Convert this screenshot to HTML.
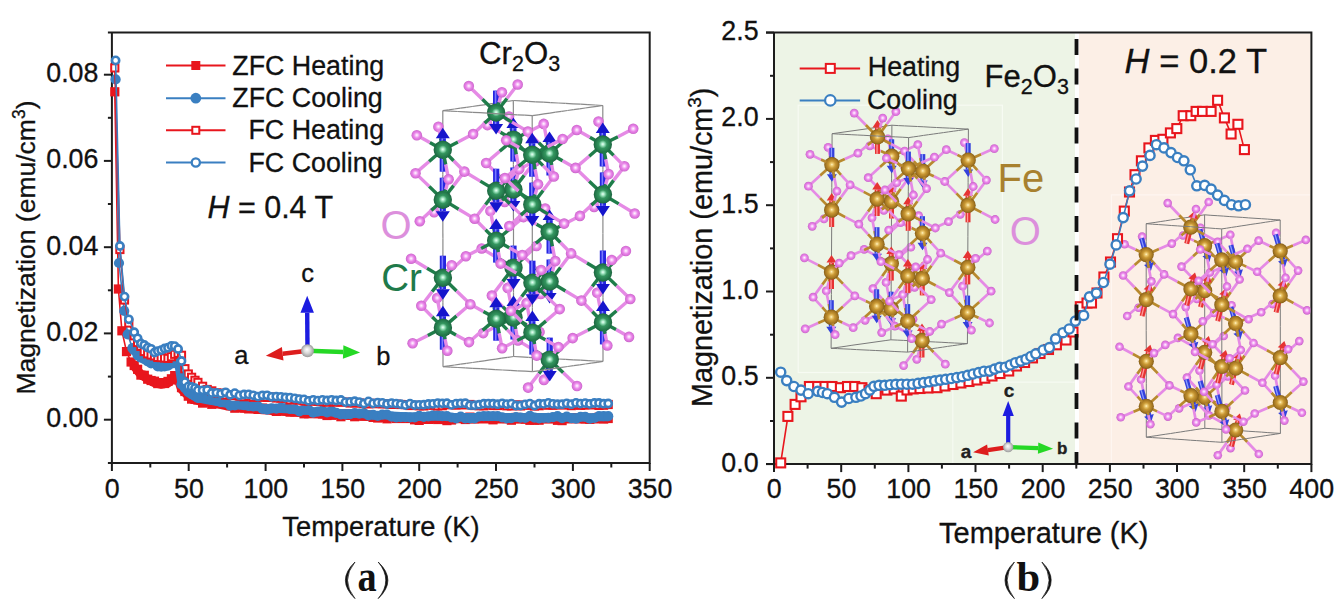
<!DOCTYPE html>
<html><head><meta charset="utf-8"><style>
html,body{margin:0;padding:0;background:#fff;width:1341px;height:606px;overflow:hidden}
svg{display:block}
</style></head><body>
<svg width="1341" height="606" viewBox="0 0 1341 606">
<rect width="1341" height="606" fill="#fff"/>
<rect x="775" y="33.5" width="300" height="429.6" fill="#edf4e6"/>
<rect x="1079" y="33.5" width="231.4" height="429.6" fill="#fcefe6"/>
<g stroke="#1c1c1c" stroke-width="2" fill="none" stroke-linecap="butt">
<path d="M107.9,32.4 H649.7 V463.0 H107.9"/>
<path d="M111.9,32.4 V464.0"/>
<path d="M111.9,463.0 v8"/>
<path d="M150.3,463.0 v4.5"/>
<path d="M188.7,463.0 v8"/>
<path d="M227.1,463.0 v4.5"/>
<path d="M265.6,463.0 v8"/>
<path d="M304.0,463.0 v4.5"/>
<path d="M342.4,463.0 v8"/>
<path d="M380.8,463.0 v4.5"/>
<path d="M419.2,463.0 v8"/>
<path d="M457.6,463.0 v4.5"/>
<path d="M496.0,463.0 v8"/>
<path d="M534.5,463.0 v4.5"/>
<path d="M572.9,463.0 v8"/>
<path d="M611.3,463.0 v4.5"/>
<path d="M649.7,463.0 v8"/>
<path d="M111.9,419.7 h-8"/>
<path d="M111.9,376.6 h-4"/>
<path d="M111.9,333.4 h-8"/>
<path d="M111.9,290.3 h-4"/>
<path d="M111.9,247.2 h-8"/>
<path d="M111.9,204.0 h-4"/>
<path d="M111.9,160.9 h-8"/>
<path d="M111.9,117.8 h-4"/>
<path d="M111.9,74.7 h-8"/>
</g>
<g font-family="'Liberation Sans', sans-serif" fill="#111" stroke="#111" stroke-width="0.3">
<text x="98.4" y="427.2" font-size="26.8" text-anchor="end" fill="#111" >0.00</text>
<text x="98.4" y="340.9" font-size="26.8" text-anchor="end" fill="#111" >0.02</text>
<text x="98.4" y="254.7" font-size="26.8" text-anchor="end" fill="#111" >0.04</text>
<text x="98.4" y="168.4" font-size="26.8" text-anchor="end" fill="#111" >0.06</text>
<text x="98.4" y="82.2" font-size="26.8" text-anchor="end" fill="#111" >0.08</text>
<text x="112.2" y="498.2" font-size="26.8" text-anchor="middle" fill="#111" >0</text>
<text x="189.0" y="498.2" font-size="26.8" text-anchor="middle" fill="#111" >50</text>
<text x="265.9" y="498.2" font-size="26.8" text-anchor="middle" fill="#111" >100</text>
<text x="342.7" y="498.2" font-size="26.8" text-anchor="middle" fill="#111" >150</text>
<text x="419.5" y="498.2" font-size="26.8" text-anchor="middle" fill="#111" >200</text>
<text x="496.3" y="498.2" font-size="26.8" text-anchor="middle" fill="#111" >250</text>
<text x="573.2" y="498.2" font-size="26.8" text-anchor="middle" fill="#111" >300</text>
<text x="650.0" y="498.2" font-size="26.8" text-anchor="middle" fill="#111" >350</text>
<text x="282.3" y="535.8" font-size="27.3" text-anchor="start" fill="#111" >Temperature (K)</text>
<text transform="translate(35.4,394.5) rotate(-90)" font-size="26.5">Magnetization (emu/cm<tspan font-size="17.5" dy="-10">3</tspan><tspan dy="10">)</tspan></text>
</g>
<g stroke="#1c1c1c" stroke-width="2" fill="none">
<path d="M766.0,32.5 H1311.4 V464.1 H766.0"/>
<path d="M774.0,32.5 V465.1"/>
<path d="M774.0,464.1 v8"/>
<path d="M807.6,464.1 v4.5"/>
<path d="M841.2,464.1 v8"/>
<path d="M874.8,464.1 v4.5"/>
<path d="M908.4,464.1 v8"/>
<path d="M941.9,464.1 v4.5"/>
<path d="M975.5,464.1 v8"/>
<path d="M1009.1,464.1 v4.5"/>
<path d="M1042.7,464.1 v8"/>
<path d="M1076.3,464.1 v4.5"/>
<path d="M1109.9,464.1 v8"/>
<path d="M1143.5,464.1 v4.5"/>
<path d="M1177.0,464.1 v8"/>
<path d="M1210.6,464.1 v4.5"/>
<path d="M1244.2,464.1 v8"/>
<path d="M1277.8,464.1 v4.5"/>
<path d="M1311.4,464.1 v8"/>
<path d="M774.0,464.1 h-8"/>
<path d="M774.0,421.0 h-4"/>
<path d="M774.0,377.8 h-8"/>
<path d="M774.0,334.7 h-4"/>
<path d="M774.0,291.5 h-8"/>
<path d="M774.0,248.4 h-4"/>
<path d="M774.0,205.2 h-8"/>
<path d="M774.0,162.1 h-4"/>
<path d="M774.0,118.9 h-8"/>
<path d="M774.0,75.8 h-4"/>
<path d="M774.0,32.6 h-8"/>
</g>
<g font-family="'Liberation Sans', sans-serif" fill="#111" stroke="#111" stroke-width="0.3">
<text x="758.6" y="471.5" font-size="26.8" text-anchor="end" fill="#111" >0.0</text>
<text x="758.6" y="385.2" font-size="26.8" text-anchor="end" fill="#111" >0.5</text>
<text x="758.6" y="298.9" font-size="26.8" text-anchor="end" fill="#111" >1.0</text>
<text x="758.6" y="212.6" font-size="26.8" text-anchor="end" fill="#111" >1.5</text>
<text x="758.6" y="126.3" font-size="26.8" text-anchor="end" fill="#111" >2.0</text>
<text x="758.6" y="40.0" font-size="26.8" text-anchor="end" fill="#111" >2.5</text>
<text x="774.3" y="498.2" font-size="26.8" text-anchor="middle" fill="#111" >0</text>
<text x="841.5" y="498.2" font-size="26.8" text-anchor="middle" fill="#111" >50</text>
<text x="908.6" y="498.2" font-size="26.8" text-anchor="middle" fill="#111" >100</text>
<text x="975.8" y="498.2" font-size="26.8" text-anchor="middle" fill="#111" >150</text>
<text x="1043.0" y="498.2" font-size="26.8" text-anchor="middle" fill="#111" >200</text>
<text x="1110.2" y="498.2" font-size="26.8" text-anchor="middle" fill="#111" >250</text>
<text x="1177.3" y="498.2" font-size="26.8" text-anchor="middle" fill="#111" >300</text>
<text x="1244.5" y="498.2" font-size="26.8" text-anchor="middle" fill="#111" >350</text>
<text x="1311.7" y="498.2" font-size="26.8" text-anchor="middle" fill="#111" >400</text>
<text x="939.0" y="542.9" font-size="29" text-anchor="start" fill="#111" >Temperature (K)</text>
<text transform="translate(712,407.0) rotate(-90)" font-size="28.8">Magnetization (emu/cm<tspan font-size="19" dy="-11">3</tspan><tspan dy="11">)</tspan></text>
</g>
<defs><radialGradient id="gma" cx="0.5" cy="0.5" r="0.5" fx="0.5" fy="0.48"><stop offset="0" stop-color="#f0fff8"/><stop offset="0.17" stop-color="#a4e8c4"/><stop offset="0.45" stop-color="#34965f"/><stop offset="0.85" stop-color="#227549"/><stop offset="1" stop-color="#1b623d"/></radialGradient><radialGradient id="goa" cx="0.5" cy="0.5" r="0.5" fx="0.5" fy="0.48"><stop offset="0" stop-color="#ffffff"/><stop offset="0.2" stop-color="#fad0fa"/><stop offset="0.55" stop-color="#e984e9"/><stop offset="0.85" stop-color="#d870d8"/><stop offset="1" stop-color="#c462c4"/></radialGradient><radialGradient id="gmb" cx="0.5" cy="0.5" r="0.5" fx="0.5" fy="0.48"><stop offset="0" stop-color="#fff6d0"/><stop offset="0.15" stop-color="#f0d07a"/><stop offset="0.45" stop-color="#c99834"/><stop offset="0.8" stop-color="#a57722"/><stop offset="1" stop-color="#835c16"/></radialGradient><radialGradient id="gob" cx="0.5" cy="0.5" r="0.5" fx="0.5" fy="0.48"><stop offset="0" stop-color="#ffffff"/><stop offset="0.2" stop-color="#fad0fa"/><stop offset="0.55" stop-color="#e984e9"/><stop offset="0.85" stop-color="#d870d8"/><stop offset="1" stop-color="#c462c4"/></radialGradient><radialGradient id="gmc" cx="0.5" cy="0.5" r="0.5" fx="0.5" fy="0.48"><stop offset="0" stop-color="#fff6d0"/><stop offset="0.15" stop-color="#f0d07a"/><stop offset="0.45" stop-color="#c99834"/><stop offset="0.8" stop-color="#a57722"/><stop offset="1" stop-color="#835c16"/></radialGradient><radialGradient id="goc" cx="0.5" cy="0.5" r="0.5" fx="0.5" fy="0.48"><stop offset="0" stop-color="#ffffff"/><stop offset="0.2" stop-color="#fad0fa"/><stop offset="0.55" stop-color="#e984e9"/><stop offset="0.85" stop-color="#d870d8"/><stop offset="1" stop-color="#c462c4"/></radialGradient></defs>
<rect x="798.2" y="105.2" width="204.2" height="267.3" fill="none" stroke="#f7fbf3" stroke-width="1.2"/>
<path d="M1111.4,463 V194.8 H1310" fill="none" stroke="#fef6f1" stroke-width="1.2"/>
<path d="M952.8,463 V382.2 H1074.5" fill="none" stroke="#f6faf2" stroke-width="1.2"/>
<g><line x1="513.6" y1="356.5" x2="513.5" y2="335.2" stroke="#8a8a8a" stroke-width="1.2"/>
<line x1="513.5" y1="335.2" x2="513.5" y2="313.9" stroke="#8a8a8a" stroke-width="1.2"/>
<line x1="513.5" y1="313.9" x2="513.5" y2="292.5" stroke="#8a8a8a" stroke-width="1.2"/>
<line x1="513.5" y1="292.5" x2="513.5" y2="271.2" stroke="#8a8a8a" stroke-width="1.2"/>
<line x1="513.5" y1="271.2" x2="513.5" y2="249.9" stroke="#8a8a8a" stroke-width="1.2"/>
<line x1="513.5" y1="249.9" x2="513.5" y2="228.5" stroke="#8a8a8a" stroke-width="1.2"/>
<line x1="513.5" y1="228.5" x2="513.4" y2="207.2" stroke="#8a8a8a" stroke-width="1.2"/>
<line x1="513.4" y1="207.2" x2="513.4" y2="185.9" stroke="#8a8a8a" stroke-width="1.2"/>
<line x1="513.4" y1="185.9" x2="513.4" y2="164.5" stroke="#8a8a8a" stroke-width="1.2"/>
<circle cx="507.7" cy="287.9" r="5.3" fill="url(#goa)"/>
<line x1="510.6" y1="302.7" x2="508.3" y2="291.0" stroke="#e58ae5" stroke-width="3.4"/>
<line x1="603.0" y1="361.4" x2="603.0" y2="340.1" stroke="#8a8a8a" stroke-width="1.2"/>
<line x1="526.5" y1="324.7" x2="536.8" y2="330.4" stroke="#e58ae5" stroke-width="3.4"/>
<circle cx="539.5" cy="331.9" r="5.3" fill="url(#goa)"/>
<line x1="510.6" y1="277.7" x2="508.6" y2="284.8" stroke="#e58ae5" stroke-width="3.4"/>
<line x1="513.4" y1="164.5" x2="513.4" y2="143.2" stroke="#8a8a8a" stroke-width="1.2"/>
<line x1="603.0" y1="340.1" x2="603.0" y2="318.8" stroke="#8a8a8a" stroke-width="1.2"/>
<line x1="521.0" y1="356.9" x2="513.6" y2="356.5" stroke="#8a8a8a" stroke-width="1.2"/>
<line x1="513.4" y1="143.2" x2="513.4" y2="121.9" stroke="#8a8a8a" stroke-width="1.2"/>
<line x1="507.7" y1="357.4" x2="513.6" y2="356.5" stroke="#8a8a8a" stroke-width="1.2"/>
<line x1="498.4" y1="325.3" x2="486.0" y2="331.7" stroke="#e58ae5" stroke-width="3.4"/>
<line x1="528.5" y1="357.3" x2="521.0" y2="356.9" stroke="#8a8a8a" stroke-width="1.2"/>
<line x1="603.0" y1="318.8" x2="603.0" y2="297.4" stroke="#8a8a8a" stroke-width="1.2"/>
<circle cx="483.2" cy="333.1" r="5.3" fill="url(#goa)"/>
<line x1="513.4" y1="121.9" x2="513.3" y2="100.5" stroke="#8a8a8a" stroke-width="1.2"/>
<line x1="535.9" y1="357.8" x2="528.5" y2="357.3" stroke="#8a8a8a" stroke-width="1.2"/>
<circle cx="504.7" cy="202.0" r="5.3" fill="url(#goa)"/>
<line x1="525.0" y1="256.8" x2="534.2" y2="248.2" stroke="#e58ae5" stroke-width="3.4"/>
<line x1="603.0" y1="297.4" x2="602.9" y2="276.1" stroke="#8a8a8a" stroke-width="1.2"/>
<line x1="501.8" y1="358.2" x2="507.7" y2="357.4" stroke="#8a8a8a" stroke-width="1.2"/>
<circle cx="536.5" cy="246.0" r="5.3" fill="url(#goa)"/>
<line x1="512.1" y1="310.3" x2="510.6" y2="302.7" stroke="#1f7d4a" stroke-width="3.4"/>
<line x1="520.0" y1="321.1" x2="526.5" y2="324.7" stroke="#1f7d4a" stroke-width="3.4"/>
<line x1="543.4" y1="358.2" x2="535.9" y2="357.8" stroke="#8a8a8a" stroke-width="1.2"/>
<line x1="509.0" y1="195.8" x2="506.5" y2="199.4" stroke="#e58ae5" stroke-width="3.4"/>
<line x1="507.0" y1="320.9" x2="498.4" y2="325.3" stroke="#1f7d4a" stroke-width="3.4"/>
<line x1="602.9" y1="276.1" x2="602.9" y2="254.8" stroke="#8a8a8a" stroke-width="1.2"/>
<line x1="550.8" y1="358.6" x2="543.4" y2="358.2" stroke="#8a8a8a" stroke-width="1.2"/>
<line x1="495.9" y1="359.1" x2="501.8" y2="358.2" stroke="#8a8a8a" stroke-width="1.2"/>
<line x1="558.3" y1="359.0" x2="550.8" y2="358.6" stroke="#8a8a8a" stroke-width="1.2"/>
<line x1="511.5" y1="274.6" x2="510.6" y2="277.7" stroke="#1f7d4a" stroke-width="3.4"/>
<line x1="602.9" y1="254.8" x2="602.9" y2="233.4" stroke="#8a8a8a" stroke-width="1.2"/>
<line x1="565.7" y1="359.4" x2="558.3" y2="359.0" stroke="#8a8a8a" stroke-width="1.2"/>
<line x1="518.9" y1="262.5" x2="525.0" y2="256.8" stroke="#1f7d4a" stroke-width="3.4"/>
<line x1="519.1" y1="312.7" x2="527.2" y2="305.8" stroke="#1f7d4a" stroke-width="3.4"/>
<line x1="490.0" y1="359.9" x2="495.9" y2="359.1" stroke="#8a8a8a" stroke-width="1.2"/>
<line x1="602.9" y1="233.4" x2="602.9" y2="212.1" stroke="#8a8a8a" stroke-width="1.2"/>
<line x1="497.6" y1="258.0" x2="484.4" y2="250.1" stroke="#e58ae5" stroke-width="3.4"/>
<line x1="573.2" y1="359.8" x2="565.7" y2="359.4" stroke="#8a8a8a" stroke-width="1.2"/>
<g transform="translate(513.5,317.5)"><rect x="-3.10" y="-11.50" width="6.20" height="33.50" fill="#2525e0"/><rect x="-1.36" y="-11.50" width="1.61" height="33.50" fill="#7a7aff"/><polygon points="0,-22.00 7.00,-11.50 -7.00,-11.50" fill="#1515cc"/></g>
<circle cx="513.5" cy="317.5" r="9.2" fill="url(#gma)"/>
<line x1="508.4" y1="312.2" x2="502.7" y2="306.6" stroke="#1f7d4a" stroke-width="3.4"/>
<circle cx="509.0" cy="116.5" r="5.3" fill="url(#goa)"/>
<line x1="580.6" y1="360.2" x2="573.2" y2="359.8" stroke="#8a8a8a" stroke-width="1.2"/>
<line x1="507.2" y1="263.8" x2="497.6" y2="258.0" stroke="#1f7d4a" stroke-width="3.4"/>
<line x1="514.9" y1="324.7" x2="515.7" y2="329.0" stroke="#1f7d4a" stroke-width="3.4"/>
<line x1="511.2" y1="128.1" x2="509.6" y2="119.7" stroke="#e58ae5" stroke-width="3.4"/>
<line x1="602.9" y1="212.1" x2="602.9" y2="190.8" stroke="#8a8a8a" stroke-width="1.2"/>
<circle cx="543.9" cy="379.9" r="5.3" fill="url(#goa)"/>
<circle cx="481.7" cy="248.5" r="5.3" fill="url(#goa)"/>
<line x1="484.1" y1="360.8" x2="490.0" y2="359.9" stroke="#8a8a8a" stroke-width="1.2"/>
<line x1="588.1" y1="360.6" x2="580.6" y2="360.2" stroke="#8a8a8a" stroke-width="1.2"/>
<line x1="518.8" y1="272.7" x2="527.2" y2="280.8" stroke="#1f7d4a" stroke-width="3.4"/>
<line x1="527.2" y1="305.8" x2="538.4" y2="296.1" stroke="#e58ae5" stroke-width="3.4"/>
<line x1="524.2" y1="175.4" x2="533.0" y2="163.9" stroke="#e58ae5" stroke-width="3.4"/>
<line x1="546.8" y1="369.7" x2="544.8" y2="376.9" stroke="#e58ae5" stroke-width="3.4"/>
<line x1="602.9" y1="190.8" x2="602.9" y2="169.4" stroke="#8a8a8a" stroke-width="1.2"/>
<circle cx="597.2" cy="292.8" r="5.3" fill="url(#goa)"/>
<line x1="600.1" y1="307.6" x2="597.8" y2="296.0" stroke="#e58ae5" stroke-width="3.4"/>
<line x1="595.6" y1="361.0" x2="588.1" y2="360.6" stroke="#8a8a8a" stroke-width="1.2"/>
<line x1="527.2" y1="280.8" x2="538.6" y2="291.8" stroke="#e58ae5" stroke-width="3.4"/>
<line x1="509.0" y1="273.4" x2="502.7" y2="281.6" stroke="#1f7d4a" stroke-width="3.4"/>
<circle cx="535.0" cy="161.4" r="5.3" fill="url(#goa)"/>
<line x1="524.2" y1="150.5" x2="532.7" y2="159.2" stroke="#e58ae5" stroke-width="3.4"/>
<line x1="616.0" y1="329.6" x2="626.2" y2="335.3" stroke="#e58ae5" stroke-width="3.4"/>
<line x1="509.2" y1="195.5" x2="509.0" y2="195.8" stroke="#1f7d4a" stroke-width="3.4"/>
<circle cx="629.0" cy="336.9" r="5.3" fill="url(#goa)"/>
<g transform="translate(513.5,267.6)"><rect x="-3.10" y="-22.00" width="6.20" height="33.50" fill="#2525e0"/><rect x="-1.36" y="-22.00" width="1.61" height="33.50" fill="#7a7aff"/><polygon points="0,22.00 7.00,11.50 -7.00,11.50" fill="#1515cc"/></g>
<line x1="600.1" y1="282.7" x2="598.1" y2="289.8" stroke="#e58ae5" stroke-width="3.4"/>
<circle cx="513.5" cy="267.6" r="9.2" fill="url(#gma)"/>
<line x1="603.0" y1="361.4" x2="595.6" y2="361.0" stroke="#8a8a8a" stroke-width="1.2"/>
<line x1="478.3" y1="361.6" x2="484.1" y2="360.8" stroke="#8a8a8a" stroke-width="1.2"/>
<line x1="602.9" y1="169.4" x2="602.8" y2="148.1" stroke="#8a8a8a" stroke-width="1.2"/>
<line x1="443.0" y1="366.7" x2="443.0" y2="345.4" stroke="#8a8a8a" stroke-width="1.2"/>
<line x1="517.7" y1="261.5" x2="517.9" y2="261.3" stroke="#1f7d4a" stroke-width="3.4"/>
<line x1="502.7" y1="306.6" x2="494.2" y2="297.9" stroke="#e58ae5" stroke-width="3.4"/>
<line x1="517.9" y1="183.6" x2="524.2" y2="175.4" stroke="#1f7d4a" stroke-width="3.4"/>
<line x1="499.7" y1="176.3" x2="488.3" y2="165.2" stroke="#e58ae5" stroke-width="3.4"/>
<line x1="602.8" y1="148.1" x2="602.8" y2="126.8" stroke="#8a8a8a" stroke-width="1.2"/>
<line x1="597.1" y1="362.3" x2="603.0" y2="361.4" stroke="#8a8a8a" stroke-width="1.2"/>
<line x1="587.8" y1="330.2" x2="575.5" y2="336.6" stroke="#e58ae5" stroke-width="3.4"/>
<line x1="443.0" y1="345.4" x2="442.9" y2="324.0" stroke="#8a8a8a" stroke-width="1.2"/>
<circle cx="540.8" cy="294.0" r="5.3" fill="url(#goa)"/>
<line x1="561.2" y1="348.8" x2="570.3" y2="340.2" stroke="#e58ae5" stroke-width="3.4"/>
<line x1="502.7" y1="281.6" x2="493.9" y2="293.1" stroke="#e58ae5" stroke-width="3.4"/>
<line x1="472.4" y1="362.5" x2="478.3" y2="361.6" stroke="#8a8a8a" stroke-width="1.2"/>
<line x1="499.7" y1="151.3" x2="488.5" y2="160.9" stroke="#e58ae5" stroke-width="3.4"/>
<line x1="508.1" y1="184.4" x2="499.7" y2="176.3" stroke="#1f7d4a" stroke-width="3.4"/>
<circle cx="572.7" cy="338.1" r="5.3" fill="url(#goa)"/>
<line x1="602.8" y1="126.8" x2="602.8" y2="105.5" stroke="#8a8a8a" stroke-width="1.2"/>
<line x1="545.2" y1="287.8" x2="542.7" y2="291.4" stroke="#e58ae5" stroke-width="3.4"/>
<circle cx="486.1" cy="163.0" r="5.3" fill="url(#goa)"/>
<line x1="515.7" y1="329.0" x2="517.3" y2="337.4" stroke="#e58ae5" stroke-width="3.4"/>
<line x1="512.0" y1="132.3" x2="511.2" y2="128.1" stroke="#1f7d4a" stroke-width="3.4"/>
<circle cx="594.1" cy="206.9" r="5.3" fill="url(#goa)"/>
<line x1="442.9" y1="324.0" x2="442.9" y2="302.7" stroke="#8a8a8a" stroke-width="1.2"/>
<line x1="519.7" y1="193.3" x2="529.3" y2="199.0" stroke="#1f7d4a" stroke-width="3.4"/>
<line x1="614.4" y1="261.7" x2="623.6" y2="253.1" stroke="#e58ae5" stroke-width="3.4"/>
<line x1="591.2" y1="363.1" x2="597.1" y2="362.3" stroke="#8a8a8a" stroke-width="1.2"/>
<circle cx="625.9" cy="251.0" r="5.3" fill="url(#goa)"/>
<line x1="518.6" y1="144.8" x2="524.2" y2="150.5" stroke="#1f7d4a" stroke-width="3.4"/>
<line x1="601.6" y1="315.2" x2="600.1" y2="307.6" stroke="#1f7d4a" stroke-width="3.4"/>
<line x1="609.4" y1="326.0" x2="616.0" y2="329.6" stroke="#1f7d4a" stroke-width="3.4"/>
<line x1="466.5" y1="363.3" x2="472.4" y2="362.5" stroke="#8a8a8a" stroke-width="1.2"/>
<line x1="598.5" y1="200.7" x2="595.9" y2="204.3" stroke="#e58ae5" stroke-width="3.4"/>
<line x1="529.3" y1="199.0" x2="542.5" y2="206.9" stroke="#e58ae5" stroke-width="3.4"/>
<line x1="596.4" y1="325.8" x2="587.8" y2="330.2" stroke="#1f7d4a" stroke-width="3.4"/>
<line x1="442.9" y1="302.7" x2="442.9" y2="281.4" stroke="#8a8a8a" stroke-width="1.2"/>
<g transform="translate(513.4,189.5)"><rect x="-3.10" y="-22.00" width="6.20" height="33.50" fill="#2525e0"/><rect x="-1.36" y="-22.00" width="1.61" height="33.50" fill="#7a7aff"/><polygon points="0,22.00 7.00,11.50 -7.00,11.50" fill="#1515cc"/></g>
<line x1="507.8" y1="144.4" x2="499.7" y2="151.3" stroke="#1f7d4a" stroke-width="3.4"/>
<line x1="508.0" y1="194.5" x2="501.9" y2="200.2" stroke="#1f7d4a" stroke-width="3.4"/>
<line x1="547.7" y1="366.7" x2="546.8" y2="369.7" stroke="#1f7d4a" stroke-width="3.4"/>
<circle cx="513.4" cy="189.5" r="9.2" fill="url(#gma)"/>
<line x1="585.4" y1="364.0" x2="591.2" y2="363.1" stroke="#8a8a8a" stroke-width="1.2"/>
<circle cx="491.9" cy="295.6" r="5.3" fill="url(#goa)"/>
<line x1="515.4" y1="182.4" x2="516.3" y2="179.3" stroke="#1f7d4a" stroke-width="3.4"/>
<line x1="442.9" y1="281.4" x2="442.9" y2="260.0" stroke="#8a8a8a" stroke-width="1.2"/>
<line x1="520.8" y1="100.9" x2="513.3" y2="100.5" stroke="#8a8a8a" stroke-width="1.2"/>
<line x1="555.0" y1="354.5" x2="561.2" y2="348.8" stroke="#1f7d4a" stroke-width="3.4"/>
<line x1="460.6" y1="364.1" x2="466.5" y2="363.3" stroke="#8a8a8a" stroke-width="1.2"/>
<line x1="600.9" y1="279.6" x2="600.1" y2="282.7" stroke="#1f7d4a" stroke-width="3.4"/>
<line x1="494.1" y1="307.1" x2="492.5" y2="298.8" stroke="#e58ae5" stroke-width="3.4"/>
<line x1="533.8" y1="350.0" x2="520.6" y2="342.1" stroke="#e58ae5" stroke-width="3.4"/>
<line x1="507.5" y1="101.4" x2="513.3" y2="100.5" stroke="#8a8a8a" stroke-width="1.2"/>
<line x1="528.3" y1="101.3" x2="520.8" y2="100.9" stroke="#8a8a8a" stroke-width="1.2"/>
<circle cx="545.2" cy="208.5" r="5.3" fill="url(#goa)"/>
<line x1="608.3" y1="267.5" x2="614.4" y2="261.7" stroke="#1f7d4a" stroke-width="3.4"/>
<line x1="442.9" y1="260.0" x2="442.9" y2="238.7" stroke="#8a8a8a" stroke-width="1.2"/>
<line x1="608.6" y1="317.6" x2="616.6" y2="310.7" stroke="#1f7d4a" stroke-width="3.4"/>
<line x1="519.9" y1="136.2" x2="528.5" y2="131.7" stroke="#1f7d4a" stroke-width="3.4"/>
<line x1="543.3" y1="355.8" x2="533.8" y2="350.0" stroke="#1f7d4a" stroke-width="3.4"/>
<line x1="579.5" y1="364.8" x2="585.4" y2="364.0" stroke="#8a8a8a" stroke-width="1.2"/>
<line x1="547.4" y1="220.1" x2="545.8" y2="211.7" stroke="#e58ae5" stroke-width="3.4"/>
<line x1="587.0" y1="263.0" x2="573.9" y2="255.1" stroke="#e58ae5" stroke-width="3.4"/>
<line x1="517.9" y1="261.3" x2="520.4" y2="257.6" stroke="#e58ae5" stroke-width="3.4"/>
<g transform="translate(513.4,139.6)"><rect x="-3.10" y="-11.50" width="6.20" height="33.50" fill="#2525e0"/><rect x="-1.36" y="-11.50" width="1.61" height="33.50" fill="#7a7aff"/><polygon points="0,-22.00 7.00,-11.50 -7.00,-11.50" fill="#1515cc"/></g>
<line x1="535.7" y1="101.8" x2="528.3" y2="101.3" stroke="#8a8a8a" stroke-width="1.2"/>
<g transform="translate(603.0,322.4)"><rect x="-3.10" y="-11.50" width="6.20" height="33.50" fill="#2525e0"/><rect x="-1.36" y="-11.50" width="1.61" height="33.50" fill="#7a7aff"/><polygon points="0,-22.00 7.00,-11.50 -7.00,-11.50" fill="#1515cc"/></g>
<line x1="454.7" y1="365.0" x2="460.6" y2="364.1" stroke="#8a8a8a" stroke-width="1.2"/>
<line x1="506.9" y1="136.0" x2="500.4" y2="132.3" stroke="#1f7d4a" stroke-width="3.4"/>
<circle cx="517.9" cy="340.5" r="5.3" fill="url(#goa)"/>
<line x1="507.1" y1="329.6" x2="515.6" y2="338.2" stroke="#e58ae5" stroke-width="3.4"/>
<circle cx="513.4" cy="139.6" r="9.2" fill="url(#gma)"/>
<line x1="514.8" y1="146.8" x2="516.3" y2="154.4" stroke="#1f7d4a" stroke-width="3.4"/>
<circle cx="603.0" cy="322.4" r="9.2" fill="url(#gma)"/>
<line x1="597.8" y1="317.2" x2="592.2" y2="311.5" stroke="#1f7d4a" stroke-width="3.4"/>
<circle cx="598.5" cy="121.5" r="5.3" fill="url(#goa)"/>
<line x1="554.9" y1="364.7" x2="563.3" y2="372.8" stroke="#1f7d4a" stroke-width="3.4"/>
<line x1="501.6" y1="102.2" x2="507.5" y2="101.4" stroke="#8a8a8a" stroke-width="1.2"/>
<line x1="560.4" y1="267.5" x2="569.2" y2="255.9" stroke="#e58ae5" stroke-width="3.4"/>
<line x1="501.9" y1="200.2" x2="492.8" y2="208.8" stroke="#e58ae5" stroke-width="3.4"/>
<line x1="442.9" y1="238.7" x2="442.8" y2="217.4" stroke="#8a8a8a" stroke-width="1.2"/>
<line x1="596.6" y1="268.7" x2="587.0" y2="263.0" stroke="#1f7d4a" stroke-width="3.4"/>
<line x1="543.2" y1="102.2" x2="535.7" y2="101.8" stroke="#8a8a8a" stroke-width="1.2"/>
<line x1="604.3" y1="329.6" x2="605.1" y2="333.9" stroke="#1f7d4a" stroke-width="3.4"/>
<line x1="600.7" y1="133.0" x2="599.1" y2="124.6" stroke="#e58ae5" stroke-width="3.4"/>
<line x1="563.3" y1="372.8" x2="574.7" y2="383.8" stroke="#e58ae5" stroke-width="3.4"/>
<line x1="545.2" y1="365.4" x2="538.9" y2="373.6" stroke="#1f7d4a" stroke-width="3.4"/>
<circle cx="571.1" cy="253.4" r="5.3" fill="url(#goa)"/>
<line x1="560.4" y1="242.5" x2="568.9" y2="251.2" stroke="#e58ae5" stroke-width="3.4"/>
<line x1="573.6" y1="365.7" x2="579.5" y2="364.8" stroke="#8a8a8a" stroke-width="1.2"/>
<line x1="545.4" y1="287.5" x2="545.2" y2="287.8" stroke="#1f7d4a" stroke-width="3.4"/>
<line x1="608.2" y1="277.6" x2="616.6" y2="285.7" stroke="#1f7d4a" stroke-width="3.4"/>
<line x1="550.6" y1="102.6" x2="543.2" y2="102.2" stroke="#8a8a8a" stroke-width="1.2"/>
<g transform="translate(549.7,359.6)"><rect x="-3.10" y="-22.00" width="6.20" height="33.50" fill="#2525e0"/><rect x="-1.36" y="-22.00" width="1.61" height="33.50" fill="#7a7aff"/><polygon points="0,22.00 7.00,11.50 -7.00,11.50" fill="#1515cc"/></g>
<line x1="616.6" y1="310.7" x2="627.9" y2="301.0" stroke="#e58ae5" stroke-width="3.4"/>
<line x1="613.6" y1="180.4" x2="622.5" y2="168.9" stroke="#e58ae5" stroke-width="3.4"/>
<line x1="442.8" y1="217.4" x2="442.8" y2="196.0" stroke="#8a8a8a" stroke-width="1.2"/>
<line x1="448.9" y1="365.8" x2="454.7" y2="365.0" stroke="#8a8a8a" stroke-width="1.2"/>
<circle cx="549.7" cy="359.6" r="9.2" fill="url(#gma)"/>
<line x1="528.5" y1="131.7" x2="540.9" y2="125.4" stroke="#e58ae5" stroke-width="3.4"/>
<line x1="495.7" y1="103.1" x2="501.6" y2="102.2" stroke="#8a8a8a" stroke-width="1.2"/>
<line x1="616.6" y1="285.7" x2="628.0" y2="296.7" stroke="#e58ae5" stroke-width="3.4"/>
<line x1="598.5" y1="278.3" x2="592.2" y2="286.5" stroke="#1f7d4a" stroke-width="3.4"/>
<circle cx="624.4" cy="166.3" r="5.3" fill="url(#goa)"/>
<line x1="613.6" y1="155.4" x2="622.2" y2="164.1" stroke="#e58ae5" stroke-width="3.4"/>
<line x1="558.1" y1="103.0" x2="550.6" y2="102.6" stroke="#8a8a8a" stroke-width="1.2"/>
<line x1="598.7" y1="200.4" x2="598.5" y2="200.7" stroke="#1f7d4a" stroke-width="3.4"/>
<line x1="482.6" y1="330.4" x2="471.4" y2="340.0" stroke="#e58ae5" stroke-width="3.4"/>
<g transform="translate(602.9,272.5)"><rect x="-3.10" y="-22.00" width="6.20" height="33.50" fill="#2525e0"/><rect x="-1.36" y="-22.00" width="1.61" height="33.50" fill="#7a7aff"/><polygon points="0,22.00 7.00,11.50 -7.00,11.50" fill="#1515cc"/></g>
<line x1="553.9" y1="353.5" x2="554.0" y2="353.3" stroke="#1f7d4a" stroke-width="3.4"/>
<line x1="442.8" y1="196.0" x2="442.8" y2="174.7" stroke="#8a8a8a" stroke-width="1.2"/>
<circle cx="602.9" cy="272.5" r="9.2" fill="url(#gma)"/>
<line x1="554.1" y1="275.7" x2="560.4" y2="267.5" stroke="#1f7d4a" stroke-width="3.4"/>
<line x1="535.9" y1="268.3" x2="524.5" y2="257.2" stroke="#e58ae5" stroke-width="3.4"/>
<circle cx="437.2" cy="298.1" r="5.3" fill="url(#goa)"/>
<line x1="567.7" y1="366.5" x2="573.6" y2="365.7" stroke="#8a8a8a" stroke-width="1.2"/>
<line x1="440.0" y1="312.9" x2="437.8" y2="301.2" stroke="#e58ae5" stroke-width="3.4"/>
<line x1="565.5" y1="103.4" x2="558.1" y2="103.0" stroke="#8a8a8a" stroke-width="1.2"/>
<line x1="532.4" y1="371.6" x2="532.4" y2="350.3" stroke="#8a8a8a" stroke-width="1.2"/>
<line x1="456.0" y1="334.9" x2="466.2" y2="340.6" stroke="#e58ae5" stroke-width="3.4"/>
<circle cx="469.0" cy="342.1" r="5.3" fill="url(#goa)"/>
<line x1="494.9" y1="311.4" x2="494.1" y2="307.1" stroke="#1f7d4a" stroke-width="3.4"/>
<line x1="516.3" y1="179.3" x2="518.3" y2="172.2" stroke="#e58ae5" stroke-width="3.4"/>
<circle cx="577.0" cy="386.0" r="5.3" fill="url(#goa)"/>
<line x1="443.0" y1="366.7" x2="448.9" y2="365.8" stroke="#8a8a8a" stroke-width="1.2"/>
<line x1="538.9" y1="373.6" x2="530.0" y2="385.1" stroke="#e58ae5" stroke-width="3.4"/>
<line x1="535.9" y1="243.3" x2="524.7" y2="253.0" stroke="#e58ae5" stroke-width="3.4"/>
<line x1="440.0" y1="287.9" x2="438.0" y2="295.0" stroke="#e58ae5" stroke-width="3.4"/>
<line x1="544.3" y1="276.4" x2="535.9" y2="268.3" stroke="#1f7d4a" stroke-width="3.4"/>
<line x1="489.8" y1="103.9" x2="495.7" y2="103.1" stroke="#8a8a8a" stroke-width="1.2"/>
<line x1="607.1" y1="266.5" x2="607.3" y2="266.2" stroke="#1f7d4a" stroke-width="3.4"/>
<line x1="500.4" y1="132.3" x2="490.1" y2="126.7" stroke="#e58ae5" stroke-width="3.4"/>
<line x1="501.5" y1="323.9" x2="507.1" y2="329.6" stroke="#1f7d4a" stroke-width="3.4"/>
<line x1="573.0" y1="103.8" x2="565.5" y2="103.4" stroke="#8a8a8a" stroke-width="1.2"/>
<line x1="592.2" y1="311.5" x2="583.6" y2="302.8" stroke="#e58ae5" stroke-width="3.4"/>
<line x1="442.8" y1="174.7" x2="442.8" y2="153.4" stroke="#8a8a8a" stroke-width="1.2"/>
<line x1="607.4" y1="188.6" x2="613.6" y2="180.4" stroke="#1f7d4a" stroke-width="3.4"/>
<line x1="589.2" y1="181.2" x2="577.8" y2="170.2" stroke="#e58ae5" stroke-width="3.4"/>
<circle cx="490.4" cy="211.0" r="5.3" fill="url(#goa)"/>
<line x1="516.3" y1="154.4" x2="518.6" y2="166.0" stroke="#e58ae5" stroke-width="3.4"/>
<line x1="493.3" y1="225.8" x2="491.0" y2="214.1" stroke="#e58ae5" stroke-width="3.4"/>
<line x1="509.2" y1="247.8" x2="519.5" y2="253.5" stroke="#e58ae5" stroke-width="3.4"/>
<circle cx="522.2" cy="255.0" r="5.3" fill="url(#goa)"/>
<line x1="548.2" y1="224.3" x2="547.4" y2="220.1" stroke="#1f7d4a" stroke-width="3.4"/>
<line x1="532.4" y1="350.3" x2="532.4" y2="329.0" stroke="#8a8a8a" stroke-width="1.2"/>
<circle cx="630.3" cy="299.0" r="5.3" fill="url(#goa)"/>
<line x1="555.9" y1="285.3" x2="565.5" y2="291.0" stroke="#1f7d4a" stroke-width="3.4"/>
<line x1="592.2" y1="286.5" x2="583.3" y2="298.0" stroke="#e58ae5" stroke-width="3.4"/>
<line x1="490.7" y1="323.4" x2="482.6" y2="330.4" stroke="#1f7d4a" stroke-width="3.4"/>
<line x1="561.8" y1="367.4" x2="567.7" y2="366.5" stroke="#8a8a8a" stroke-width="1.2"/>
<line x1="589.2" y1="156.2" x2="577.9" y2="165.9" stroke="#e58ae5" stroke-width="3.4"/>
<line x1="450.4" y1="367.1" x2="443.0" y2="366.7" stroke="#8a8a8a" stroke-width="1.2"/>
<line x1="580.4" y1="104.2" x2="573.0" y2="103.8" stroke="#8a8a8a" stroke-width="1.2"/>
<line x1="493.3" y1="200.8" x2="491.3" y2="207.9" stroke="#e58ae5" stroke-width="3.4"/>
<line x1="597.6" y1="189.3" x2="589.2" y2="181.2" stroke="#1f7d4a" stroke-width="3.4"/>
<line x1="554.7" y1="236.8" x2="560.4" y2="242.5" stroke="#1f7d4a" stroke-width="3.4"/>
<circle cx="543.7" cy="123.9" r="5.3" fill="url(#goa)"/>
<line x1="442.8" y1="153.4" x2="442.8" y2="132.0" stroke="#8a8a8a" stroke-width="1.2"/>
<line x1="427.8" y1="335.5" x2="415.4" y2="341.8" stroke="#e58ae5" stroke-width="3.4"/>
<line x1="546.6" y1="138.7" x2="544.3" y2="127.0" stroke="#e58ae5" stroke-width="3.4"/>
<line x1="565.5" y1="291.0" x2="578.7" y2="298.9" stroke="#e58ae5" stroke-width="3.4"/>
<line x1="483.9" y1="104.8" x2="489.8" y2="103.9" stroke="#8a8a8a" stroke-width="1.2"/>
<line x1="562.5" y1="160.7" x2="572.7" y2="166.4" stroke="#e58ae5" stroke-width="3.4"/>
<circle cx="575.5" cy="167.9" r="5.3" fill="url(#goa)"/>
<line x1="457.9" y1="367.5" x2="450.4" y2="367.1" stroke="#8a8a8a" stroke-width="1.2"/>
<line x1="605.1" y1="333.9" x2="606.7" y2="342.3" stroke="#e58ae5" stroke-width="3.4"/>
<line x1="587.9" y1="104.6" x2="580.4" y2="104.2" stroke="#8a8a8a" stroke-width="1.2"/>
<line x1="601.5" y1="137.3" x2="600.7" y2="133.0" stroke="#1f7d4a" stroke-width="3.4"/>
<line x1="532.4" y1="329.0" x2="532.4" y2="307.6" stroke="#8a8a8a" stroke-width="1.2"/>
<line x1="609.2" y1="198.2" x2="618.8" y2="203.9" stroke="#1f7d4a" stroke-width="3.4"/>
<g transform="translate(549.6,281.5)"><rect x="-3.10" y="-22.00" width="6.20" height="33.50" fill="#2525e0"/><rect x="-1.36" y="-22.00" width="1.61" height="33.50" fill="#7a7aff"/><polygon points="0,22.00 7.00,11.50 -7.00,11.50" fill="#1515cc"/></g>
<circle cx="412.6" cy="343.3" r="5.3" fill="url(#goa)"/>
<line x1="544.0" y1="236.4" x2="535.9" y2="243.3" stroke="#1f7d4a" stroke-width="3.4"/>
<line x1="544.2" y1="286.5" x2="538.1" y2="292.2" stroke="#1f7d4a" stroke-width="3.4"/>
<circle cx="549.6" cy="281.5" r="9.2" fill="url(#gma)"/>
<line x1="608.0" y1="149.7" x2="613.6" y2="155.4" stroke="#1f7d4a" stroke-width="3.4"/>
<line x1="481.1" y1="248.4" x2="468.7" y2="254.8" stroke="#e58ae5" stroke-width="3.4"/>
<line x1="442.8" y1="132.0" x2="442.8" y2="110.7" stroke="#8a8a8a" stroke-width="1.2"/>
<line x1="465.3" y1="367.9" x2="457.9" y2="367.5" stroke="#8a8a8a" stroke-width="1.2"/>
<line x1="595.3" y1="105.0" x2="587.9" y2="104.6" stroke="#8a8a8a" stroke-width="1.2"/>
<line x1="556.0" y1="368.2" x2="561.8" y2="367.4" stroke="#8a8a8a" stroke-width="1.2"/>
<circle cx="434.1" cy="212.2" r="5.3" fill="url(#goa)"/>
<line x1="618.8" y1="203.9" x2="631.9" y2="211.8" stroke="#e58ae5" stroke-width="3.4"/>
<line x1="454.4" y1="267.0" x2="463.6" y2="258.4" stroke="#e58ae5" stroke-width="3.4"/>
<circle cx="528.1" cy="387.6" r="5.3" fill="url(#goa)"/>
<line x1="532.4" y1="307.6" x2="532.4" y2="286.3" stroke="#8a8a8a" stroke-width="1.2"/>
<line x1="551.6" y1="274.4" x2="552.5" y2="271.3" stroke="#1f7d4a" stroke-width="3.4"/>
<g transform="translate(602.9,194.4)"><rect x="-3.10" y="-22.00" width="6.20" height="33.50" fill="#2525e0"/><rect x="-1.36" y="-22.00" width="1.61" height="33.50" fill="#7a7aff"/><polygon points="0,22.00 7.00,11.50 -7.00,11.50" fill="#1515cc"/></g>
<circle cx="465.9" cy="256.2" r="5.3" fill="url(#goa)"/>
<line x1="597.2" y1="149.3" x2="589.2" y2="156.2" stroke="#1f7d4a" stroke-width="3.4"/>
<line x1="597.5" y1="199.4" x2="591.4" y2="205.2" stroke="#1f7d4a" stroke-width="3.4"/>
<line x1="441.5" y1="320.4" x2="440.0" y2="312.9" stroke="#1f7d4a" stroke-width="3.4"/>
<line x1="502.8" y1="315.3" x2="511.4" y2="310.8" stroke="#1f7d4a" stroke-width="3.4"/>
<line x1="449.4" y1="331.2" x2="456.0" y2="334.9" stroke="#1f7d4a" stroke-width="3.4"/>
<circle cx="602.9" cy="194.4" r="9.2" fill="url(#gma)"/>
<line x1="472.8" y1="368.3" x2="465.3" y2="367.9" stroke="#8a8a8a" stroke-width="1.2"/>
<line x1="602.8" y1="105.5" x2="595.3" y2="105.0" stroke="#8a8a8a" stroke-width="1.2"/>
<line x1="478.1" y1="105.6" x2="483.9" y2="104.8" stroke="#8a8a8a" stroke-width="1.2"/>
<line x1="534.3" y1="161.3" x2="522.0" y2="167.7" stroke="#e58ae5" stroke-width="3.4"/>
<g transform="translate(496.3,318.7)"><rect x="-3.10" y="-11.50" width="6.20" height="33.50" fill="#2525e0"/><rect x="-1.36" y="-11.50" width="1.61" height="33.50" fill="#7a7aff"/><polygon points="0,-22.00 7.00,-11.50 -7.00,-11.50" fill="#1515cc"/></g>
<line x1="438.5" y1="205.9" x2="435.9" y2="209.6" stroke="#e58ae5" stroke-width="3.4"/>
<circle cx="487.4" cy="125.1" r="5.3" fill="url(#goa)"/>
<line x1="489.8" y1="315.1" x2="483.3" y2="311.4" stroke="#1f7d4a" stroke-width="3.4"/>
<circle cx="496.3" cy="318.7" r="9.2" fill="url(#gma)"/>
<line x1="436.4" y1="331.0" x2="427.8" y2="335.5" stroke="#1f7d4a" stroke-width="3.4"/>
<line x1="507.7" y1="179.9" x2="516.8" y2="171.3" stroke="#e58ae5" stroke-width="3.4"/>
<line x1="497.7" y1="325.9" x2="499.2" y2="333.4" stroke="#1f7d4a" stroke-width="3.4"/>
<circle cx="581.4" cy="300.6" r="5.3" fill="url(#goa)"/>
<line x1="604.9" y1="187.3" x2="605.7" y2="184.2" stroke="#1f7d4a" stroke-width="3.4"/>
<line x1="532.4" y1="286.3" x2="532.3" y2="265.0" stroke="#8a8a8a" stroke-width="1.2"/>
<circle cx="519.2" cy="169.1" r="5.3" fill="url(#goa)"/>
<line x1="480.2" y1="368.7" x2="472.8" y2="368.3" stroke="#8a8a8a" stroke-width="1.2"/>
<line x1="494.8" y1="233.3" x2="493.3" y2="225.8" stroke="#1f7d4a" stroke-width="3.4"/>
<line x1="550.1" y1="369.1" x2="556.0" y2="368.2" stroke="#8a8a8a" stroke-width="1.2"/>
<line x1="556.1" y1="228.2" x2="564.7" y2="223.7" stroke="#1f7d4a" stroke-width="3.4"/>
<line x1="502.6" y1="244.1" x2="509.2" y2="247.8" stroke="#1f7d4a" stroke-width="3.4"/>
<line x1="554.0" y1="353.3" x2="556.6" y2="349.6" stroke="#e58ae5" stroke-width="3.4"/>
<line x1="596.9" y1="106.3" x2="602.8" y2="105.5" stroke="#8a8a8a" stroke-width="1.2"/>
<g transform="translate(549.6,231.6)"><rect x="-3.10" y="-11.50" width="6.20" height="33.50" fill="#2525e0"/><rect x="-1.36" y="-11.50" width="1.61" height="33.50" fill="#7a7aff"/><polygon points="0,-22.00 7.00,-11.50 -7.00,-11.50" fill="#1515cc"/></g>
<line x1="491.7" y1="118.8" x2="489.2" y2="122.5" stroke="#e58ae5" stroke-width="3.4"/>
<line x1="543.1" y1="228.0" x2="536.5" y2="224.3" stroke="#1f7d4a" stroke-width="3.4"/>
<circle cx="549.6" cy="231.6" r="9.2" fill="url(#gma)"/>
<line x1="489.7" y1="243.9" x2="481.1" y2="248.4" stroke="#1f7d4a" stroke-width="3.4"/>
<line x1="487.7" y1="369.2" x2="480.2" y2="368.7" stroke="#8a8a8a" stroke-width="1.2"/>
<line x1="551.0" y1="238.8" x2="552.4" y2="246.4" stroke="#1f7d4a" stroke-width="3.4"/>
<circle cx="634.7" cy="213.5" r="5.3" fill="url(#goa)"/>
<line x1="472.2" y1="106.5" x2="478.1" y2="105.6" stroke="#8a8a8a" stroke-width="1.2"/>
<line x1="440.9" y1="284.8" x2="440.0" y2="287.9" stroke="#1f7d4a" stroke-width="3.4"/>
<line x1="532.3" y1="265.0" x2="532.3" y2="243.6" stroke="#8a8a8a" stroke-width="1.2"/>
<line x1="548.1" y1="146.3" x2="546.6" y2="138.7" stroke="#1f7d4a" stroke-width="3.4"/>
<line x1="538.1" y1="292.2" x2="528.9" y2="300.8" stroke="#e58ae5" stroke-width="3.4"/>
<line x1="609.4" y1="141.1" x2="618.0" y2="136.7" stroke="#1f7d4a" stroke-width="3.4"/>
<line x1="555.9" y1="157.1" x2="562.5" y2="160.7" stroke="#1f7d4a" stroke-width="3.4"/>
<line x1="607.3" y1="266.2" x2="609.9" y2="262.6" stroke="#e58ae5" stroke-width="3.4"/>
<g transform="translate(602.8,144.5)"><rect x="-3.10" y="-11.50" width="6.20" height="33.50" fill="#2525e0"/><rect x="-1.36" y="-11.50" width="1.61" height="33.50" fill="#7a7aff"/><polygon points="0,-22.00 7.00,-11.50 -7.00,-11.50" fill="#1515cc"/></g>
<line x1="511.4" y1="310.8" x2="523.8" y2="304.5" stroke="#e58ae5" stroke-width="3.4"/>
<line x1="495.2" y1="369.6" x2="487.7" y2="369.2" stroke="#8a8a8a" stroke-width="1.2"/>
<line x1="544.2" y1="369.9" x2="550.1" y2="369.1" stroke="#8a8a8a" stroke-width="1.2"/>
<line x1="596.4" y1="140.9" x2="589.8" y2="137.3" stroke="#1f7d4a" stroke-width="3.4"/>
<circle cx="607.3" cy="345.4" r="5.3" fill="url(#goa)"/>
<circle cx="602.8" cy="144.5" r="9.2" fill="url(#gma)"/>
<line x1="542.9" y1="156.9" x2="534.3" y2="161.3" stroke="#1f7d4a" stroke-width="3.4"/>
<line x1="604.2" y1="151.7" x2="605.7" y2="159.3" stroke="#1f7d4a" stroke-width="3.4"/>
<line x1="448.3" y1="272.7" x2="454.4" y2="267.0" stroke="#1f7d4a" stroke-width="3.4"/>
<line x1="448.5" y1="322.9" x2="456.6" y2="315.9" stroke="#1f7d4a" stroke-width="3.4"/>
<line x1="494.2" y1="197.7" x2="493.3" y2="200.8" stroke="#1f7d4a" stroke-width="3.4"/>
<line x1="591.0" y1="107.1" x2="596.9" y2="106.3" stroke="#8a8a8a" stroke-width="1.2"/>
<line x1="591.4" y1="205.2" x2="582.2" y2="213.8" stroke="#e58ae5" stroke-width="3.4"/>
<line x1="532.3" y1="243.6" x2="532.3" y2="222.3" stroke="#8a8a8a" stroke-width="1.2"/>
<line x1="427.0" y1="268.2" x2="413.8" y2="260.3" stroke="#e58ae5" stroke-width="3.4"/>
<line x1="502.6" y1="370.0" x2="495.2" y2="369.6" stroke="#8a8a8a" stroke-width="1.2"/>
<g transform="translate(442.9,327.7)"><rect x="-3.10" y="-11.50" width="6.20" height="33.50" fill="#2525e0"/><rect x="-1.36" y="-11.50" width="1.61" height="33.50" fill="#7a7aff"/><polygon points="0,-22.00 7.00,-11.50 -7.00,-11.50" fill="#1515cc"/></g>
<line x1="466.3" y1="107.3" x2="472.2" y2="106.5" stroke="#8a8a8a" stroke-width="1.2"/>
<line x1="564.7" y1="223.7" x2="577.1" y2="217.4" stroke="#e58ae5" stroke-width="3.4"/>
<circle cx="442.9" cy="327.7" r="9.2" fill="url(#gma)"/>
<line x1="437.8" y1="322.4" x2="432.1" y2="316.7" stroke="#1f7d4a" stroke-width="3.4"/>
<circle cx="438.4" cy="126.7" r="5.3" fill="url(#goa)"/>
<line x1="501.5" y1="185.6" x2="507.7" y2="179.9" stroke="#1f7d4a" stroke-width="3.4"/>
<line x1="501.8" y1="235.8" x2="509.9" y2="228.8" stroke="#1f7d4a" stroke-width="3.4"/>
<line x1="510.1" y1="370.4" x2="502.6" y2="370.0" stroke="#8a8a8a" stroke-width="1.2"/>
<line x1="436.6" y1="273.9" x2="427.0" y2="268.2" stroke="#1f7d4a" stroke-width="3.4"/>
<line x1="444.3" y1="334.9" x2="445.1" y2="339.2" stroke="#1f7d4a" stroke-width="3.4"/>
<line x1="440.6" y1="138.2" x2="439.0" y2="129.8" stroke="#e58ae5" stroke-width="3.4"/>
<line x1="483.3" y1="311.4" x2="473.0" y2="305.7" stroke="#e58ae5" stroke-width="3.4"/>
<line x1="532.3" y1="222.3" x2="532.3" y2="201.0" stroke="#8a8a8a" stroke-width="1.2"/>
<line x1="480.3" y1="181.1" x2="467.1" y2="173.2" stroke="#e58ae5" stroke-width="3.4"/>
<line x1="538.3" y1="370.8" x2="544.2" y2="369.9" stroke="#8a8a8a" stroke-width="1.2"/>
<g transform="translate(496.2,240.6)"><rect x="-3.10" y="-11.50" width="6.20" height="33.50" fill="#2525e0"/><rect x="-1.36" y="-11.50" width="1.61" height="33.50" fill="#7a7aff"/><polygon points="0,-22.00 7.00,-11.50 -7.00,-11.50" fill="#1515cc"/></g>
<line x1="499.2" y1="333.4" x2="501.5" y2="345.1" stroke="#e58ae5" stroke-width="3.4"/>
<line x1="618.0" y1="136.7" x2="630.3" y2="130.3" stroke="#e58ae5" stroke-width="3.4"/>
<line x1="585.2" y1="108.0" x2="591.0" y2="107.1" stroke="#8a8a8a" stroke-width="1.2"/>
<circle cx="411.1" cy="258.7" r="5.3" fill="url(#goa)"/>
<circle cx="496.2" cy="240.6" r="9.2" fill="url(#gma)"/>
<line x1="491.0" y1="235.3" x2="485.4" y2="229.6" stroke="#1f7d4a" stroke-width="3.4"/>
<line x1="517.5" y1="370.8" x2="510.1" y2="370.4" stroke="#8a8a8a" stroke-width="1.2"/>
<line x1="448.2" y1="282.8" x2="456.6" y2="291.0" stroke="#1f7d4a" stroke-width="3.4"/>
<line x1="552.5" y1="271.3" x2="554.5" y2="264.2" stroke="#e58ae5" stroke-width="3.4"/>
<line x1="456.6" y1="315.9" x2="467.8" y2="306.3" stroke="#e58ae5" stroke-width="3.4"/>
<line x1="555.1" y1="148.7" x2="563.1" y2="141.8" stroke="#1f7d4a" stroke-width="3.4"/>
<line x1="453.6" y1="185.6" x2="462.4" y2="174.1" stroke="#e58ae5" stroke-width="3.4"/>
<line x1="460.4" y1="108.2" x2="466.3" y2="107.3" stroke="#8a8a8a" stroke-width="1.2"/>
<line x1="489.9" y1="186.9" x2="480.3" y2="181.1" stroke="#1f7d4a" stroke-width="3.4"/>
<line x1="497.6" y1="247.8" x2="498.4" y2="252.1" stroke="#1f7d4a" stroke-width="3.4"/>
<line x1="536.5" y1="224.3" x2="526.3" y2="218.7" stroke="#e58ae5" stroke-width="3.4"/>
<line x1="532.3" y1="201.0" x2="532.3" y2="179.6" stroke="#8a8a8a" stroke-width="1.2"/>
<g transform="translate(549.5,153.5)"><rect x="-3.10" y="-11.50" width="6.20" height="33.50" fill="#2525e0"/><rect x="-1.36" y="-11.50" width="1.61" height="33.50" fill="#7a7aff"/><polygon points="0,-22.00 7.00,-11.50 -7.00,-11.50" fill="#1515cc"/></g>
<circle cx="526.6" cy="303.0" r="5.3" fill="url(#goa)"/>
<line x1="552.4" y1="246.4" x2="554.7" y2="258.0" stroke="#e58ae5" stroke-width="3.4"/>
<line x1="529.5" y1="317.8" x2="527.2" y2="306.1" stroke="#e58ae5" stroke-width="3.4"/>
<line x1="525.0" y1="371.2" x2="517.5" y2="370.8" stroke="#8a8a8a" stroke-width="1.2"/>
<line x1="456.6" y1="291.0" x2="468.0" y2="302.0" stroke="#e58ae5" stroke-width="3.4"/>
<line x1="438.4" y1="283.6" x2="432.1" y2="291.8" stroke="#1f7d4a" stroke-width="3.4"/>
<circle cx="464.4" cy="171.6" r="5.3" fill="url(#goa)"/>
<line x1="453.6" y1="160.7" x2="462.1" y2="169.3" stroke="#e58ae5" stroke-width="3.4"/>
<circle cx="549.5" cy="153.5" r="9.2" fill="url(#gma)"/>
<line x1="544.3" y1="148.3" x2="538.7" y2="142.6" stroke="#1f7d4a" stroke-width="3.4"/>
<line x1="545.4" y1="339.8" x2="555.6" y2="345.5" stroke="#e58ae5" stroke-width="3.4"/>
<line x1="438.6" y1="205.7" x2="438.5" y2="205.9" stroke="#1f7d4a" stroke-width="3.4"/>
<circle cx="558.4" cy="347.0" r="5.3" fill="url(#goa)"/>
<line x1="501.5" y1="195.8" x2="509.9" y2="203.9" stroke="#1f7d4a" stroke-width="3.4"/>
<line x1="605.7" y1="184.2" x2="607.8" y2="177.1" stroke="#e58ae5" stroke-width="3.4"/>
<line x1="532.4" y1="371.6" x2="538.3" y2="370.8" stroke="#8a8a8a" stroke-width="1.2"/>
<g transform="translate(442.9,277.7)"><rect x="-3.10" y="-22.00" width="6.20" height="33.50" fill="#2525e0"/><rect x="-1.36" y="-22.00" width="1.61" height="33.50" fill="#7a7aff"/><polygon points="0,22.00 7.00,11.50 -7.00,11.50" fill="#1515cc"/></g>
<line x1="509.9" y1="228.8" x2="521.1" y2="219.2" stroke="#e58ae5" stroke-width="3.4"/>
<line x1="506.9" y1="98.5" x2="515.7" y2="87.0" stroke="#e58ae5" stroke-width="3.4"/>
<line x1="529.5" y1="292.8" x2="527.5" y2="299.9" stroke="#e58ae5" stroke-width="3.4"/>
<line x1="579.3" y1="108.8" x2="585.2" y2="108.0" stroke="#8a8a8a" stroke-width="1.2"/>
<line x1="550.9" y1="160.7" x2="551.7" y2="165.0" stroke="#1f7d4a" stroke-width="3.4"/>
<circle cx="442.9" cy="277.7" r="9.2" fill="url(#gma)"/>
<line x1="589.8" y1="137.3" x2="579.6" y2="131.6" stroke="#e58ae5" stroke-width="3.4"/>
<line x1="532.4" y1="371.6" x2="525.0" y2="371.2" stroke="#8a8a8a" stroke-width="1.2"/>
<line x1="532.3" y1="179.6" x2="532.2" y2="158.3" stroke="#8a8a8a" stroke-width="1.2"/>
<circle cx="579.9" cy="215.9" r="5.3" fill="url(#goa)"/>
<line x1="605.7" y1="159.3" x2="608.0" y2="170.9" stroke="#e58ae5" stroke-width="3.4"/>
<line x1="509.9" y1="203.9" x2="521.2" y2="214.9" stroke="#e58ae5" stroke-width="3.4"/>
<line x1="491.7" y1="196.5" x2="485.4" y2="204.7" stroke="#1f7d4a" stroke-width="3.4"/>
<line x1="454.5" y1="109.0" x2="460.4" y2="108.2" stroke="#8a8a8a" stroke-width="1.2"/>
<circle cx="517.7" cy="84.5" r="5.3" fill="url(#goa)"/>
<line x1="491.9" y1="118.6" x2="491.7" y2="118.8" stroke="#1f7d4a" stroke-width="3.4"/>
<circle cx="611.7" cy="260.0" r="5.3" fill="url(#goa)"/>
<g transform="translate(496.2,190.7)"><rect x="-3.10" y="-22.00" width="6.20" height="33.50" fill="#2525e0"/><rect x="-1.36" y="-22.00" width="1.61" height="33.50" fill="#7a7aff"/><polygon points="0,22.00 7.00,11.50 -7.00,11.50" fill="#1515cc"/></g>
<line x1="563.1" y1="141.8" x2="574.4" y2="132.1" stroke="#e58ae5" stroke-width="3.4"/>
<line x1="447.1" y1="271.7" x2="447.3" y2="271.5" stroke="#1f7d4a" stroke-width="3.4"/>
<circle cx="496.2" cy="190.7" r="9.2" fill="url(#gma)"/>
<line x1="432.1" y1="316.7" x2="423.6" y2="308.1" stroke="#e58ae5" stroke-width="3.4"/>
<line x1="447.3" y1="193.8" x2="453.6" y2="185.6" stroke="#1f7d4a" stroke-width="3.4"/>
<line x1="429.2" y1="186.4" x2="417.8" y2="175.4" stroke="#e58ae5" stroke-width="3.4"/>
<circle cx="633.2" cy="128.8" r="5.3" fill="url(#goa)"/>
<line x1="532.2" y1="158.3" x2="532.2" y2="137.0" stroke="#8a8a8a" stroke-width="1.2"/>
<line x1="517.2" y1="340.4" x2="504.9" y2="346.8" stroke="#e58ae5" stroke-width="3.4"/>
<circle cx="470.3" cy="304.2" r="5.3" fill="url(#goa)"/>
<line x1="573.4" y1="109.7" x2="579.3" y2="108.8" stroke="#8a8a8a" stroke-width="1.2"/>
<line x1="432.1" y1="291.8" x2="423.3" y2="303.3" stroke="#e58ae5" stroke-width="3.4"/>
<line x1="429.1" y1="161.5" x2="417.9" y2="171.1" stroke="#e58ae5" stroke-width="3.4"/>
<line x1="437.5" y1="194.5" x2="429.2" y2="186.4" stroke="#1f7d4a" stroke-width="3.4"/>
<circle cx="502.1" cy="348.2" r="5.3" fill="url(#goa)"/>
<line x1="500.4" y1="184.6" x2="500.6" y2="184.4" stroke="#1f7d4a" stroke-width="3.4"/>
<line x1="448.6" y1="109.8" x2="454.5" y2="109.0" stroke="#8a8a8a" stroke-width="1.2"/>
<line x1="485.4" y1="229.6" x2="476.9" y2="221.0" stroke="#e58ae5" stroke-width="3.4"/>
<line x1="500.6" y1="106.7" x2="506.9" y2="98.5" stroke="#1f7d4a" stroke-width="3.4"/>
<line x1="482.4" y1="99.3" x2="471.0" y2="88.3" stroke="#e58ae5" stroke-width="3.4"/>
<line x1="532.2" y1="137.0" x2="532.2" y2="115.6" stroke="#8a8a8a" stroke-width="1.2"/>
<circle cx="415.5" cy="173.2" r="5.3" fill="url(#goa)"/>
<line x1="445.1" y1="339.2" x2="446.7" y2="347.5" stroke="#e58ae5" stroke-width="3.4"/>
<line x1="441.4" y1="142.5" x2="440.6" y2="138.2" stroke="#1f7d4a" stroke-width="3.4"/>
<circle cx="523.5" cy="217.1" r="5.3" fill="url(#goa)"/>
<line x1="449.1" y1="203.4" x2="458.7" y2="209.2" stroke="#1f7d4a" stroke-width="3.4"/>
<line x1="543.8" y1="271.9" x2="553.0" y2="263.3" stroke="#e58ae5" stroke-width="3.4"/>
<line x1="485.4" y1="204.7" x2="476.6" y2="216.2" stroke="#e58ae5" stroke-width="3.4"/>
<line x1="490.8" y1="107.5" x2="482.4" y2="99.3" stroke="#1f7d4a" stroke-width="3.4"/>
<circle cx="555.3" cy="261.1" r="5.3" fill="url(#goa)"/>
<line x1="448.0" y1="155.0" x2="453.6" y2="160.7" stroke="#1f7d4a" stroke-width="3.4"/>
<line x1="531.0" y1="325.4" x2="529.5" y2="317.8" stroke="#1f7d4a" stroke-width="3.4"/>
<line x1="538.7" y1="142.6" x2="530.1" y2="133.9" stroke="#e58ae5" stroke-width="3.4"/>
<line x1="538.8" y1="336.2" x2="545.4" y2="339.8" stroke="#1f7d4a" stroke-width="3.4"/>
<line x1="567.5" y1="110.5" x2="573.4" y2="109.7" stroke="#8a8a8a" stroke-width="1.2"/>
<line x1="527.9" y1="210.8" x2="525.4" y2="214.5" stroke="#e58ae5" stroke-width="3.4"/>
<line x1="458.7" y1="209.2" x2="471.9" y2="217.1" stroke="#e58ae5" stroke-width="3.4"/>
<circle cx="468.8" cy="86.1" r="5.3" fill="url(#goa)"/>
<line x1="498.4" y1="252.1" x2="500.0" y2="260.5" stroke="#e58ae5" stroke-width="3.4"/>
<circle cx="576.8" cy="130.0" r="5.3" fill="url(#goa)"/>
<line x1="442.8" y1="110.7" x2="448.6" y2="109.8" stroke="#8a8a8a" stroke-width="1.2"/>
<line x1="502.4" y1="116.4" x2="512.0" y2="122.1" stroke="#1f7d4a" stroke-width="3.4"/>
<line x1="525.9" y1="336.0" x2="517.2" y2="340.4" stroke="#1f7d4a" stroke-width="3.4"/>
<g transform="translate(442.8,199.7)"><rect x="-3.10" y="-22.00" width="6.20" height="33.50" fill="#2525e0"/><rect x="-1.36" y="-22.00" width="1.61" height="33.50" fill="#7a7aff"/><polygon points="0,22.00 7.00,11.50 -7.00,11.50" fill="#1515cc"/></g>
<line x1="437.2" y1="154.5" x2="429.1" y2="161.5" stroke="#1f7d4a" stroke-width="3.4"/>
<line x1="437.5" y1="204.7" x2="431.3" y2="210.4" stroke="#1f7d4a" stroke-width="3.4"/>
<circle cx="608.6" cy="174.1" r="5.3" fill="url(#goa)"/>
<circle cx="442.8" cy="199.7" r="9.2" fill="url(#gma)"/>
<line x1="512.0" y1="122.1" x2="525.2" y2="130.0" stroke="#e58ae5" stroke-width="3.4"/>
<line x1="551.7" y1="165.0" x2="553.2" y2="173.4" stroke="#e58ae5" stroke-width="3.4"/>
<circle cx="421.3" cy="305.8" r="5.3" fill="url(#goa)"/>
<line x1="444.8" y1="192.6" x2="445.7" y2="189.5" stroke="#1f7d4a" stroke-width="3.4"/>
<g transform="translate(496.1,112.6)"><rect x="-3.10" y="-22.00" width="6.20" height="33.50" fill="#2525e0"/><rect x="-1.36" y="-22.00" width="1.61" height="33.50" fill="#7a7aff"/><polygon points="0,22.00 7.00,11.50 -7.00,11.50" fill="#1515cc"/></g>
<line x1="561.6" y1="111.4" x2="567.5" y2="110.5" stroke="#8a8a8a" stroke-width="1.2"/>
<line x1="450.2" y1="111.1" x2="442.8" y2="110.7" stroke="#8a8a8a" stroke-width="1.2"/>
<line x1="490.7" y1="117.6" x2="484.6" y2="123.3" stroke="#1f7d4a" stroke-width="3.4"/>
<line x1="530.4" y1="289.7" x2="529.5" y2="292.8" stroke="#1f7d4a" stroke-width="3.4"/>
<circle cx="496.1" cy="112.6" r="9.2" fill="url(#gma)"/>
<line x1="457.7" y1="111.5" x2="450.2" y2="111.1" stroke="#8a8a8a" stroke-width="1.2"/>
<circle cx="474.6" cy="218.7" r="5.3" fill="url(#goa)"/>
<line x1="498.1" y1="105.5" x2="499.0" y2="102.4" stroke="#1f7d4a" stroke-width="3.4"/>
<line x1="537.7" y1="277.6" x2="543.8" y2="271.9" stroke="#1f7d4a" stroke-width="3.4"/>
<line x1="538.0" y1="327.8" x2="546.1" y2="320.9" stroke="#1f7d4a" stroke-width="3.4"/>
<line x1="449.3" y1="146.4" x2="458.0" y2="141.9" stroke="#1f7d4a" stroke-width="3.4"/>
<line x1="516.5" y1="273.1" x2="503.3" y2="265.2" stroke="#e58ae5" stroke-width="3.4"/>
<line x1="447.3" y1="271.5" x2="449.8" y2="267.8" stroke="#e58ae5" stroke-width="3.4"/>
<g transform="translate(442.8,149.7)"><rect x="-3.10" y="-11.50" width="6.20" height="33.50" fill="#2525e0"/><rect x="-1.36" y="-11.50" width="1.61" height="33.50" fill="#7a7aff"/><polygon points="0,-22.00 7.00,-11.50 -7.00,-11.50" fill="#1515cc"/></g>
<line x1="465.1" y1="111.9" x2="457.7" y2="111.5" stroke="#8a8a8a" stroke-width="1.2"/>
<g transform="translate(532.4,332.6)"><rect x="-3.10" y="-11.50" width="6.20" height="33.50" fill="#2525e0"/><rect x="-1.36" y="-11.50" width="1.61" height="33.50" fill="#7a7aff"/><polygon points="0,-22.00 7.00,-11.50 -7.00,-11.50" fill="#1515cc"/></g>
<line x1="555.7" y1="112.2" x2="561.6" y2="111.4" stroke="#8a8a8a" stroke-width="1.2"/>
<line x1="436.4" y1="146.2" x2="429.8" y2="142.5" stroke="#1f7d4a" stroke-width="3.4"/>
<circle cx="447.3" cy="350.7" r="5.3" fill="url(#goa)"/>
<circle cx="442.8" cy="149.7" r="9.2" fill="url(#gma)"/>
<line x1="444.2" y1="157.0" x2="445.7" y2="164.5" stroke="#1f7d4a" stroke-width="3.4"/>
<circle cx="532.4" cy="332.6" r="9.2" fill="url(#gma)"/>
<line x1="527.2" y1="327.3" x2="521.6" y2="321.7" stroke="#1f7d4a" stroke-width="3.4"/>
<circle cx="527.9" cy="131.6" r="5.3" fill="url(#goa)"/>
<line x1="431.3" y1="210.4" x2="422.2" y2="219.0" stroke="#e58ae5" stroke-width="3.4"/>
<line x1="526.0" y1="278.9" x2="516.5" y2="273.1" stroke="#1f7d4a" stroke-width="3.4"/>
<line x1="472.6" y1="112.3" x2="465.1" y2="111.9" stroke="#8a8a8a" stroke-width="1.2"/>
<line x1="533.8" y1="339.8" x2="534.6" y2="344.1" stroke="#1f7d4a" stroke-width="3.4"/>
<line x1="530.1" y1="143.2" x2="528.5" y2="134.8" stroke="#e58ae5" stroke-width="3.4"/>
<line x1="500.6" y1="184.4" x2="503.1" y2="180.7" stroke="#e58ae5" stroke-width="3.4"/>
<circle cx="500.6" cy="263.6" r="5.3" fill="url(#goa)"/>
<line x1="537.6" y1="287.8" x2="546.0" y2="295.9" stroke="#1f7d4a" stroke-width="3.4"/>
<line x1="480.0" y1="112.7" x2="472.6" y2="112.3" stroke="#8a8a8a" stroke-width="1.2"/>
<line x1="546.1" y1="320.9" x2="557.3" y2="311.2" stroke="#e58ae5" stroke-width="3.4"/>
<line x1="543.1" y1="190.5" x2="551.9" y2="179.0" stroke="#e58ae5" stroke-width="3.4"/>
<line x1="484.6" y1="123.3" x2="475.4" y2="131.9" stroke="#e58ae5" stroke-width="3.4"/>
<line x1="549.9" y1="113.1" x2="555.7" y2="112.2" stroke="#8a8a8a" stroke-width="1.2"/>
<line x1="458.0" y1="141.9" x2="470.3" y2="135.5" stroke="#e58ae5" stroke-width="3.4"/>
<line x1="546.0" y1="295.9" x2="557.4" y2="306.9" stroke="#e58ae5" stroke-width="3.4"/>
<line x1="527.9" y1="288.5" x2="521.6" y2="296.7" stroke="#1f7d4a" stroke-width="3.4"/>
<circle cx="553.8" cy="176.5" r="5.3" fill="url(#goa)"/>
<line x1="543.0" y1="165.6" x2="551.6" y2="174.3" stroke="#e58ae5" stroke-width="3.4"/>
<line x1="487.5" y1="113.2" x2="480.0" y2="112.7" stroke="#8a8a8a" stroke-width="1.2"/>
<line x1="528.1" y1="210.6" x2="527.9" y2="210.8" stroke="#1f7d4a" stroke-width="3.4"/>
<g transform="translate(532.4,282.7)"><rect x="-3.10" y="-22.00" width="6.20" height="33.50" fill="#2525e0"/><rect x="-1.36" y="-22.00" width="1.61" height="33.50" fill="#7a7aff"/><polygon points="0,22.00 7.00,11.50 -7.00,11.50" fill="#1515cc"/></g>
<circle cx="532.4" cy="282.7" r="9.2" fill="url(#gma)"/>
<line x1="494.9" y1="113.6" x2="487.5" y2="113.2" stroke="#8a8a8a" stroke-width="1.2"/>
<line x1="544.0" y1="113.9" x2="549.9" y2="113.1" stroke="#8a8a8a" stroke-width="1.2"/>
<line x1="445.7" y1="189.5" x2="447.7" y2="182.4" stroke="#e58ae5" stroke-width="3.4"/>
<line x1="536.6" y1="276.6" x2="536.7" y2="276.4" stroke="#1f7d4a" stroke-width="3.4"/>
<line x1="429.8" y1="142.5" x2="419.6" y2="136.8" stroke="#e58ae5" stroke-width="3.4"/>
<line x1="502.4" y1="114.0" x2="494.9" y2="113.6" stroke="#8a8a8a" stroke-width="1.2"/>
<line x1="521.6" y1="321.7" x2="513.0" y2="313.0" stroke="#e58ae5" stroke-width="3.4"/>
<line x1="536.8" y1="198.7" x2="543.1" y2="190.5" stroke="#1f7d4a" stroke-width="3.4"/>
<line x1="518.6" y1="191.3" x2="507.2" y2="180.3" stroke="#e58ae5" stroke-width="3.4"/>
<circle cx="419.8" cy="221.2" r="5.3" fill="url(#goa)"/>
<line x1="445.7" y1="164.5" x2="448.0" y2="176.2" stroke="#e58ae5" stroke-width="3.4"/>
<circle cx="451.7" cy="265.2" r="5.3" fill="url(#goa)"/>
<line x1="499.0" y1="102.4" x2="501.0" y2="95.3" stroke="#e58ae5" stroke-width="3.4"/>
<circle cx="559.7" cy="309.1" r="5.3" fill="url(#goa)"/>
<line x1="521.6" y1="296.7" x2="512.7" y2="308.2" stroke="#e58ae5" stroke-width="3.4"/>
<line x1="518.6" y1="166.4" x2="507.3" y2="176.0" stroke="#e58ae5" stroke-width="3.4"/>
<line x1="509.9" y1="114.4" x2="502.4" y2="114.0" stroke="#8a8a8a" stroke-width="1.2"/>
<line x1="527.0" y1="199.5" x2="518.6" y2="191.3" stroke="#1f7d4a" stroke-width="3.4"/>
<line x1="538.1" y1="114.8" x2="544.0" y2="113.9" stroke="#8a8a8a" stroke-width="1.2"/>
<circle cx="473.1" cy="134.1" r="5.3" fill="url(#goa)"/>
<circle cx="504.9" cy="178.1" r="5.3" fill="url(#goa)"/>
<line x1="534.6" y1="344.1" x2="536.1" y2="352.5" stroke="#e58ae5" stroke-width="3.4"/>
<line x1="517.3" y1="114.8" x2="509.9" y2="114.4" stroke="#8a8a8a" stroke-width="1.2"/>
<line x1="530.9" y1="147.4" x2="530.1" y2="143.2" stroke="#1f7d4a" stroke-width="3.4"/>
<line x1="538.6" y1="208.4" x2="548.2" y2="214.1" stroke="#1f7d4a" stroke-width="3.4"/>
<line x1="537.4" y1="159.9" x2="543.0" y2="165.6" stroke="#1f7d4a" stroke-width="3.4"/>
<line x1="524.8" y1="115.2" x2="517.3" y2="114.8" stroke="#8a8a8a" stroke-width="1.2"/>
<line x1="548.2" y1="214.1" x2="561.3" y2="222.0" stroke="#e58ae5" stroke-width="3.4"/>
<line x1="532.2" y1="115.6" x2="538.1" y2="114.8" stroke="#8a8a8a" stroke-width="1.2"/>
<g transform="translate(532.3,204.6)"><rect x="-3.10" y="-22.00" width="6.20" height="33.50" fill="#2525e0"/><rect x="-1.36" y="-22.00" width="1.61" height="33.50" fill="#7a7aff"/><polygon points="0,22.00 7.00,11.50 -7.00,11.50" fill="#1515cc"/></g>
<line x1="526.7" y1="159.5" x2="518.6" y2="166.4" stroke="#1f7d4a" stroke-width="3.4"/>
<line x1="526.9" y1="209.6" x2="520.8" y2="215.3" stroke="#1f7d4a" stroke-width="3.4"/>
<circle cx="532.3" cy="204.6" r="9.2" fill="url(#gma)"/>
<line x1="532.2" y1="115.6" x2="524.8" y2="115.2" stroke="#8a8a8a" stroke-width="1.2"/>
<circle cx="416.8" cy="135.3" r="5.3" fill="url(#goa)"/>
<circle cx="510.8" cy="310.7" r="5.3" fill="url(#goa)"/>
<line x1="534.3" y1="197.5" x2="535.2" y2="194.4" stroke="#1f7d4a" stroke-width="3.4"/>
<circle cx="448.6" cy="179.3" r="5.3" fill="url(#goa)"/>
<circle cx="564.1" cy="223.6" r="5.3" fill="url(#goa)"/>
<circle cx="501.9" cy="92.2" r="5.3" fill="url(#goa)"/>
<line x1="538.8" y1="151.3" x2="547.4" y2="146.8" stroke="#1f7d4a" stroke-width="3.4"/>
<line x1="536.7" y1="276.4" x2="539.3" y2="272.7" stroke="#e58ae5" stroke-width="3.4"/>
<g transform="translate(532.2,154.7)"><rect x="-3.10" y="-11.50" width="6.20" height="33.50" fill="#2525e0"/><rect x="-1.36" y="-11.50" width="1.61" height="33.50" fill="#7a7aff"/><polygon points="0,-22.00 7.00,-11.50 -7.00,-11.50" fill="#1515cc"/></g>
<line x1="525.8" y1="151.1" x2="519.2" y2="147.4" stroke="#1f7d4a" stroke-width="3.4"/>
<circle cx="536.7" cy="355.6" r="5.3" fill="url(#goa)"/>
<circle cx="532.2" cy="154.7" r="9.2" fill="url(#gma)"/>
<line x1="533.7" y1="161.9" x2="535.1" y2="169.4" stroke="#1f7d4a" stroke-width="3.4"/>
<line x1="520.8" y1="215.3" x2="511.6" y2="223.9" stroke="#e58ae5" stroke-width="3.4"/>
<line x1="547.4" y1="146.8" x2="559.7" y2="140.5" stroke="#e58ae5" stroke-width="3.4"/>
<line x1="535.2" y1="194.4" x2="537.2" y2="187.3" stroke="#e58ae5" stroke-width="3.4"/>
<line x1="519.2" y1="147.4" x2="509.0" y2="141.8" stroke="#e58ae5" stroke-width="3.4"/>
<circle cx="509.3" cy="226.1" r="5.3" fill="url(#goa)"/>
<line x1="535.1" y1="169.4" x2="537.4" y2="181.1" stroke="#e58ae5" stroke-width="3.4"/>
<circle cx="541.1" cy="270.1" r="5.3" fill="url(#goa)"/>
<circle cx="562.6" cy="139.0" r="5.3" fill="url(#goa)"/>
<circle cx="506.2" cy="140.2" r="5.3" fill="url(#goa)"/>
<circle cx="538.0" cy="184.2" r="5.3" fill="url(#goa)"/></g>
<g><line x1="890.9" y1="339.8" x2="891.0" y2="321.9" stroke="#7a7a7a" stroke-width="1.0"/>
<line x1="891.0" y1="321.9" x2="891.1" y2="304.0" stroke="#7a7a7a" stroke-width="1.0"/>
<line x1="891.1" y1="304.0" x2="891.2" y2="286.1" stroke="#7a7a7a" stroke-width="1.0"/>
<line x1="891.2" y1="286.1" x2="891.2" y2="268.3" stroke="#7a7a7a" stroke-width="1.0"/>
<line x1="891.2" y1="268.3" x2="891.3" y2="250.4" stroke="#7a7a7a" stroke-width="1.0"/>
<line x1="891.3" y1="250.4" x2="891.4" y2="232.5" stroke="#7a7a7a" stroke-width="1.0"/>
<line x1="891.4" y1="232.5" x2="891.5" y2="214.6" stroke="#7a7a7a" stroke-width="1.0"/>
<line x1="891.5" y1="214.6" x2="891.6" y2="196.8" stroke="#7a7a7a" stroke-width="1.0"/>
<line x1="891.6" y1="196.8" x2="891.6" y2="178.9" stroke="#7a7a7a" stroke-width="1.0"/>
<circle cx="886.1" cy="282.4" r="4.4" fill="url(#gob)"/>
<line x1="888.6" y1="295.6" x2="886.6" y2="285.0" stroke="#e58ae5" stroke-width="2.7"/>
<circle cx="913.0" cy="319.2" r="4.4" fill="url(#gob)"/>
<line x1="902.1" y1="314.0" x2="910.7" y2="318.0" stroke="#e58ae5" stroke-width="2.7"/>
<line x1="967.4" y1="343.6" x2="967.5" y2="325.7" stroke="#7a7a7a" stroke-width="1.0"/>
<line x1="888.7" y1="273.0" x2="886.8" y2="279.8" stroke="#e58ae5" stroke-width="2.7"/>
<line x1="891.6" y1="178.9" x2="891.7" y2="161.0" stroke="#7a7a7a" stroke-width="1.0"/>
<line x1="967.5" y1="325.7" x2="967.6" y2="307.9" stroke="#7a7a7a" stroke-width="1.0"/>
<line x1="897.3" y1="340.1" x2="890.9" y2="339.8" stroke="#7a7a7a" stroke-width="1.0"/>
<line x1="891.7" y1="161.0" x2="891.8" y2="143.1" stroke="#7a7a7a" stroke-width="1.0"/>
<line x1="878.1" y1="314.5" x2="867.5" y2="319.2" stroke="#e58ae5" stroke-width="2.7"/>
<line x1="885.9" y1="340.5" x2="890.9" y2="339.8" stroke="#7a7a7a" stroke-width="1.0"/>
<line x1="967.6" y1="307.9" x2="967.7" y2="290.0" stroke="#7a7a7a" stroke-width="1.0"/>
<line x1="903.7" y1="340.4" x2="897.3" y2="340.1" stroke="#7a7a7a" stroke-width="1.0"/>
<circle cx="865.1" cy="320.3" r="4.4" fill="url(#gob)"/>
<line x1="891.8" y1="143.1" x2="891.9" y2="125.2" stroke="#7a7a7a" stroke-width="1.0"/>
<circle cx="883.8" cy="210.4" r="4.4" fill="url(#gob)"/>
<line x1="910.1" y1="340.7" x2="903.7" y2="340.4" stroke="#7a7a7a" stroke-width="1.0"/>
<line x1="901.0" y1="255.4" x2="908.8" y2="248.9" stroke="#e58ae5" stroke-width="2.7"/>
<circle cx="910.8" cy="247.2" r="4.4" fill="url(#gob)"/>
<line x1="967.7" y1="290.0" x2="967.7" y2="272.1" stroke="#7a7a7a" stroke-width="1.0"/>
<line x1="889.9" y1="302.7" x2="888.6" y2="295.6" stroke="#b8892e" stroke-width="2.7"/>
<line x1="896.6" y1="311.4" x2="902.1" y2="314.0" stroke="#b8892e" stroke-width="2.7"/>
<line x1="881.0" y1="341.2" x2="885.9" y2="340.5" stroke="#7a7a7a" stroke-width="1.0"/>
<line x1="916.4" y1="341.1" x2="910.1" y2="340.7" stroke="#7a7a7a" stroke-width="1.0"/>
<line x1="887.7" y1="205.9" x2="885.6" y2="208.4" stroke="#e58ae5" stroke-width="2.7"/>
<line x1="885.4" y1="311.2" x2="878.1" y2="314.5" stroke="#b8892e" stroke-width="2.7"/>
<line x1="967.7" y1="272.1" x2="967.8" y2="254.2" stroke="#7a7a7a" stroke-width="1.0"/>
<line x1="922.8" y1="341.4" x2="916.4" y2="341.1" stroke="#7a7a7a" stroke-width="1.0"/>
<line x1="876.0" y1="341.9" x2="881.0" y2="341.2" stroke="#7a7a7a" stroke-width="1.0"/>
<line x1="929.2" y1="341.7" x2="922.8" y2="341.4" stroke="#7a7a7a" stroke-width="1.0"/>
<line x1="967.8" y1="254.2" x2="967.9" y2="236.3" stroke="#7a7a7a" stroke-width="1.0"/>
<line x1="889.6" y1="269.5" x2="888.7" y2="273.0" stroke="#b8892e" stroke-width="2.7"/>
<line x1="935.5" y1="342.0" x2="929.2" y2="341.7" stroke="#7a7a7a" stroke-width="1.0"/>
<line x1="895.6" y1="304.6" x2="902.8" y2="298.0" stroke="#b8892e" stroke-width="2.7"/>
<line x1="896.0" y1="259.6" x2="901.0" y2="255.4" stroke="#b8892e" stroke-width="2.7"/>
<line x1="967.9" y1="236.3" x2="968.0" y2="218.5" stroke="#7a7a7a" stroke-width="1.0"/>
<line x1="941.9" y1="342.3" x2="935.5" y2="342.0" stroke="#7a7a7a" stroke-width="1.0"/>
<line x1="877.7" y1="256.5" x2="866.5" y2="250.6" stroke="#e58ae5" stroke-width="2.7"/>
<g transform="translate(891.1,308.7)"><rect x="-2.50" y="-17.00" width="5.00" height="26.50" fill="#3340dc"/><rect x="-1.10" y="-17.00" width="1.30" height="26.50" fill="#8c9cff"/><polygon points="0,17.00 5.00,9.50 -5.00,9.50" fill="#3340dc"/></g>
<line x1="871.0" y1="342.6" x2="876.0" y2="341.9" stroke="#7a7a7a" stroke-width="1.0"/>
<circle cx="887.9" cy="138.8" r="4.4" fill="url(#gob)"/>
<circle cx="891.1" cy="308.7" r="7.7" fill="url(#gmb)"/>
<line x1="886.9" y1="304.2" x2="882.0" y2="298.7" stroke="#b8892e" stroke-width="2.7"/>
<line x1="889.8" y1="147.5" x2="888.5" y2="141.4" stroke="#e58ae5" stroke-width="2.7"/>
<line x1="948.3" y1="342.7" x2="941.9" y2="342.3" stroke="#7a7a7a" stroke-width="1.0"/>
<line x1="968.0" y1="218.5" x2="968.1" y2="200.6" stroke="#7a7a7a" stroke-width="1.0"/>
<line x1="885.8" y1="260.7" x2="877.7" y2="256.5" stroke="#b8892e" stroke-width="2.7"/>
<line x1="892.4" y1="314.8" x2="893.0" y2="317.5" stroke="#b8892e" stroke-width="2.7"/>
<circle cx="916.8" cy="359.3" r="4.4" fill="url(#gob)"/>
<circle cx="864.2" cy="249.3" r="4.4" fill="url(#gob)"/>
<line x1="900.7" y1="188.9" x2="908.4" y2="178.4" stroke="#e58ae5" stroke-width="2.7"/>
<line x1="954.7" y1="343.0" x2="948.3" y2="342.7" stroke="#7a7a7a" stroke-width="1.0"/>
<line x1="895.6" y1="268.0" x2="902.9" y2="275.4" stroke="#b8892e" stroke-width="2.7"/>
<line x1="902.8" y1="298.0" x2="912.6" y2="289.1" stroke="#e58ae5" stroke-width="2.7"/>
<line x1="866.0" y1="343.3" x2="871.0" y2="342.6" stroke="#7a7a7a" stroke-width="1.0"/>
<line x1="968.1" y1="200.6" x2="968.1" y2="182.7" stroke="#7a7a7a" stroke-width="1.0"/>
<line x1="919.4" y1="349.9" x2="917.5" y2="356.7" stroke="#e58ae5" stroke-width="2.7"/>
<circle cx="962.6" cy="286.2" r="4.4" fill="url(#gob)"/>
<line x1="965.1" y1="299.4" x2="963.1" y2="288.8" stroke="#e58ae5" stroke-width="2.7"/>
<circle cx="909.9" cy="176.3" r="4.4" fill="url(#gob)"/>
<line x1="900.8" y1="166.3" x2="908.2" y2="174.3" stroke="#e58ae5" stroke-width="2.7"/>
<line x1="961.0" y1="343.3" x2="954.7" y2="343.0" stroke="#7a7a7a" stroke-width="1.0"/>
<circle cx="989.5" cy="323.0" r="4.4" fill="url(#gob)"/>
<line x1="978.5" y1="317.8" x2="987.2" y2="321.9" stroke="#e58ae5" stroke-width="2.7"/>
<line x1="902.9" y1="275.4" x2="912.7" y2="285.4" stroke="#e58ae5" stroke-width="2.7"/>
<line x1="887.5" y1="206.1" x2="887.7" y2="205.9" stroke="#b8892e" stroke-width="2.7"/>
<line x1="887.6" y1="268.5" x2="882.1" y2="276.2" stroke="#b8892e" stroke-width="2.7"/>
<line x1="965.2" y1="276.8" x2="963.3" y2="283.7" stroke="#e58ae5" stroke-width="2.7"/>
<g transform="translate(891.3,263.6)"><rect x="-2.50" y="-9.50" width="5.00" height="26.50" fill="#e63333"/><rect x="-1.10" y="-9.50" width="1.30" height="26.50" fill="#ff9a9a"/><polygon points="0,-17.00 5.00,-9.50 -5.00,-9.50" fill="#e63333"/></g>
<line x1="968.1" y1="182.7" x2="968.2" y2="164.8" stroke="#7a7a7a" stroke-width="1.0"/>
<line x1="967.4" y1="343.6" x2="961.0" y2="343.3" stroke="#7a7a7a" stroke-width="1.0"/>
<circle cx="891.3" cy="263.6" r="7.7" fill="url(#gmb)"/>
<line x1="861.0" y1="344.0" x2="866.0" y2="343.3" stroke="#7a7a7a" stroke-width="1.0"/>
<line x1="895.2" y1="196.5" x2="900.7" y2="188.9" stroke="#b8892e" stroke-width="2.7"/>
<line x1="831.1" y1="348.3" x2="831.2" y2="330.4" stroke="#7a7a7a" stroke-width="1.0"/>
<line x1="895.3" y1="258.9" x2="895.1" y2="259.1" stroke="#b8892e" stroke-width="2.7"/>
<line x1="879.9" y1="189.6" x2="870.1" y2="179.6" stroke="#e58ae5" stroke-width="2.7"/>
<line x1="968.2" y1="164.8" x2="968.3" y2="147.0" stroke="#7a7a7a" stroke-width="1.0"/>
<line x1="882.0" y1="298.7" x2="874.6" y2="290.7" stroke="#e58ae5" stroke-width="2.7"/>
<line x1="954.6" y1="318.3" x2="944.0" y2="323.1" stroke="#e58ae5" stroke-width="2.7"/>
<line x1="962.4" y1="344.3" x2="967.4" y2="343.6" stroke="#7a7a7a" stroke-width="1.0"/>
<circle cx="914.6" cy="287.3" r="4.4" fill="url(#gob)"/>
<line x1="880.0" y1="167.0" x2="870.2" y2="175.9" stroke="#e58ae5" stroke-width="2.7"/>
<line x1="887.2" y1="197.1" x2="879.9" y2="189.6" stroke="#b8892e" stroke-width="2.7"/>
<line x1="931.8" y1="332.3" x2="939.5" y2="325.8" stroke="#e58ae5" stroke-width="2.7"/>
<line x1="882.1" y1="276.2" x2="874.4" y2="286.6" stroke="#e58ae5" stroke-width="2.7"/>
<circle cx="941.5" cy="324.1" r="4.4" fill="url(#gob)"/>
<line x1="831.2" y1="330.4" x2="831.3" y2="312.5" stroke="#7a7a7a" stroke-width="1.0"/>
<line x1="856.0" y1="344.7" x2="861.0" y2="344.0" stroke="#7a7a7a" stroke-width="1.0"/>
<line x1="968.3" y1="147.0" x2="968.4" y2="129.1" stroke="#7a7a7a" stroke-width="1.0"/>
<circle cx="960.3" cy="214.3" r="4.4" fill="url(#gob)"/>
<line x1="918.4" y1="282.8" x2="916.3" y2="285.3" stroke="#e58ae5" stroke-width="2.7"/>
<circle cx="868.2" cy="177.7" r="4.4" fill="url(#gob)"/>
<line x1="890.4" y1="150.3" x2="889.8" y2="147.5" stroke="#b8892e" stroke-width="2.7"/>
<line x1="897.0" y1="204.3" x2="905.1" y2="208.6" stroke="#b8892e" stroke-width="2.7"/>
<line x1="977.5" y1="259.2" x2="985.3" y2="252.7" stroke="#e58ae5" stroke-width="2.7"/>
<line x1="893.0" y1="317.5" x2="894.4" y2="323.7" stroke="#e58ae5" stroke-width="2.7"/>
<circle cx="987.3" cy="251.1" r="4.4" fill="url(#gob)"/>
<line x1="966.4" y1="306.5" x2="965.1" y2="299.4" stroke="#b8892e" stroke-width="2.7"/>
<line x1="973.1" y1="315.2" x2="978.5" y2="317.8" stroke="#b8892e" stroke-width="2.7"/>
<line x1="957.5" y1="345.0" x2="962.4" y2="344.3" stroke="#7a7a7a" stroke-width="1.0"/>
<line x1="895.9" y1="160.8" x2="900.8" y2="166.3" stroke="#b8892e" stroke-width="2.7"/>
<line x1="831.3" y1="312.5" x2="831.4" y2="294.6" stroke="#7a7a7a" stroke-width="1.0"/>
<line x1="964.2" y1="209.8" x2="962.0" y2="212.3" stroke="#e58ae5" stroke-width="2.7"/>
<line x1="905.1" y1="208.6" x2="916.3" y2="214.5" stroke="#e58ae5" stroke-width="2.7"/>
<g transform="translate(891.5,201.5)"><rect x="-2.50" y="-9.50" width="5.00" height="26.50" fill="#e63333"/><rect x="-1.10" y="-9.50" width="1.30" height="26.50" fill="#ff9a9a"/><polygon points="0,-17.00 5.00,-9.50 -5.00,-9.50" fill="#e63333"/></g>
<line x1="961.9" y1="315.1" x2="954.6" y2="318.3" stroke="#b8892e" stroke-width="2.7"/>
<line x1="851.1" y1="345.4" x2="856.0" y2="344.7" stroke="#7a7a7a" stroke-width="1.0"/>
<line x1="886.8" y1="205.4" x2="881.8" y2="209.6" stroke="#b8892e" stroke-width="2.7"/>
<line x1="887.2" y1="160.4" x2="880.0" y2="167.0" stroke="#b8892e" stroke-width="2.7"/>
<circle cx="891.5" cy="201.5" r="7.7" fill="url(#gmb)"/>
<line x1="920.4" y1="346.4" x2="919.4" y2="349.9" stroke="#b8892e" stroke-width="2.7"/>
<line x1="831.4" y1="294.6" x2="831.4" y2="276.8" stroke="#7a7a7a" stroke-width="1.0"/>
<line x1="952.5" y1="345.7" x2="957.5" y2="345.0" stroke="#7a7a7a" stroke-width="1.0"/>
<line x1="893.2" y1="195.5" x2="894.1" y2="192.1" stroke="#b8892e" stroke-width="2.7"/>
<line x1="898.3" y1="125.6" x2="891.9" y2="125.2" stroke="#7a7a7a" stroke-width="1.0"/>
<circle cx="872.9" cy="288.7" r="4.4" fill="url(#gob)"/>
<line x1="966.1" y1="273.3" x2="965.2" y2="276.8" stroke="#b8892e" stroke-width="2.7"/>
<line x1="926.7" y1="336.5" x2="931.8" y2="332.3" stroke="#b8892e" stroke-width="2.7"/>
<line x1="886.9" y1="125.9" x2="891.9" y2="125.2" stroke="#7a7a7a" stroke-width="1.0"/>
<line x1="831.4" y1="276.8" x2="831.5" y2="258.9" stroke="#7a7a7a" stroke-width="1.0"/>
<line x1="846.1" y1="346.2" x2="851.1" y2="345.4" stroke="#7a7a7a" stroke-width="1.0"/>
<line x1="874.8" y1="297.5" x2="873.4" y2="291.3" stroke="#e58ae5" stroke-width="2.7"/>
<line x1="908.5" y1="333.4" x2="897.3" y2="327.5" stroke="#e58ae5" stroke-width="2.7"/>
<line x1="904.6" y1="125.9" x2="898.3" y2="125.6" stroke="#7a7a7a" stroke-width="1.0"/>
<circle cx="918.6" cy="215.7" r="4.4" fill="url(#gob)"/>
<line x1="972.1" y1="308.4" x2="979.3" y2="301.9" stroke="#b8892e" stroke-width="2.7"/>
<line x1="972.5" y1="263.4" x2="977.5" y2="259.2" stroke="#b8892e" stroke-width="2.7"/>
<line x1="897.4" y1="153.8" x2="904.8" y2="150.5" stroke="#b8892e" stroke-width="2.7"/>
<line x1="920.6" y1="224.4" x2="919.2" y2="218.3" stroke="#e58ae5" stroke-width="2.7"/>
<line x1="954.2" y1="260.3" x2="943.0" y2="254.4" stroke="#e58ae5" stroke-width="2.7"/>
<line x1="911.0" y1="126.2" x2="904.6" y2="125.9" stroke="#7a7a7a" stroke-width="1.0"/>
<g transform="translate(967.6,312.6)"><rect x="-2.50" y="-17.00" width="5.00" height="26.50" fill="#3340dc"/><rect x="-1.10" y="-17.00" width="1.30" height="26.50" fill="#8c9cff"/><polygon points="0,17.00 5.00,9.50 -5.00,9.50" fill="#3340dc"/></g>
<line x1="947.5" y1="346.4" x2="952.5" y2="345.7" stroke="#7a7a7a" stroke-width="1.0"/>
<line x1="916.6" y1="337.6" x2="908.5" y2="333.4" stroke="#b8892e" stroke-width="2.7"/>
<g transform="translate(891.7,156.3)"><rect x="-2.50" y="-17.00" width="5.00" height="26.50" fill="#3340dc"/><rect x="-1.10" y="-17.00" width="1.30" height="26.50" fill="#8c9cff"/><polygon points="0,17.00 5.00,9.50 -5.00,9.50" fill="#3340dc"/></g>
<line x1="895.1" y1="259.1" x2="897.3" y2="256.6" stroke="#e58ae5" stroke-width="2.7"/>
<circle cx="964.4" cy="142.6" r="4.4" fill="url(#gob)"/>
<line x1="831.5" y1="258.9" x2="831.6" y2="241.0" stroke="#7a7a7a" stroke-width="1.0"/>
<circle cx="967.6" cy="312.6" r="7.7" fill="url(#gmb)"/>
<line x1="963.4" y1="308.0" x2="958.5" y2="302.6" stroke="#b8892e" stroke-width="2.7"/>
<circle cx="891.7" cy="156.3" r="7.7" fill="url(#gmb)"/>
<line x1="886.2" y1="153.6" x2="880.8" y2="151.1" stroke="#b8892e" stroke-width="2.7"/>
<line x1="892.9" y1="162.3" x2="894.2" y2="169.5" stroke="#b8892e" stroke-width="2.7"/>
<circle cx="894.9" cy="326.2" r="4.4" fill="url(#gob)"/>
<line x1="881.9" y1="126.7" x2="886.9" y2="125.9" stroke="#7a7a7a" stroke-width="1.0"/>
<line x1="885.8" y1="316.2" x2="893.1" y2="324.3" stroke="#e58ae5" stroke-width="2.7"/>
<line x1="966.3" y1="151.4" x2="965.0" y2="145.2" stroke="#e58ae5" stroke-width="2.7"/>
<line x1="931.5" y1="265.8" x2="939.1" y2="255.3" stroke="#e58ae5" stroke-width="2.7"/>
<line x1="917.4" y1="126.5" x2="911.0" y2="126.2" stroke="#7a7a7a" stroke-width="1.0"/>
<line x1="841.1" y1="346.9" x2="846.1" y2="346.2" stroke="#7a7a7a" stroke-width="1.0"/>
<line x1="881.8" y1="209.6" x2="874.0" y2="216.1" stroke="#e58ae5" stroke-width="2.7"/>
<line x1="962.3" y1="264.5" x2="954.2" y2="260.3" stroke="#b8892e" stroke-width="2.7"/>
<line x1="926.3" y1="344.9" x2="933.7" y2="352.3" stroke="#b8892e" stroke-width="2.7"/>
<line x1="968.9" y1="318.6" x2="969.5" y2="321.3" stroke="#b8892e" stroke-width="2.7"/>
<line x1="831.6" y1="241.0" x2="831.7" y2="223.1" stroke="#7a7a7a" stroke-width="1.0"/>
<circle cx="940.7" cy="253.2" r="4.4" fill="url(#gob)"/>
<line x1="931.6" y1="243.2" x2="938.9" y2="251.2" stroke="#e58ae5" stroke-width="2.7"/>
<line x1="977.2" y1="192.7" x2="984.9" y2="182.2" stroke="#e58ae5" stroke-width="2.7"/>
<line x1="923.8" y1="126.8" x2="917.4" y2="126.5" stroke="#7a7a7a" stroke-width="1.0"/>
<line x1="933.7" y1="352.3" x2="943.5" y2="362.3" stroke="#e58ae5" stroke-width="2.7"/>
<line x1="918.3" y1="283.0" x2="918.4" y2="282.8" stroke="#b8892e" stroke-width="2.7"/>
<line x1="972.1" y1="271.8" x2="979.4" y2="279.3" stroke="#b8892e" stroke-width="2.7"/>
<line x1="979.3" y1="301.9" x2="989.1" y2="292.9" stroke="#e58ae5" stroke-width="2.7"/>
<line x1="918.4" y1="345.4" x2="912.8" y2="353.1" stroke="#b8892e" stroke-width="2.7"/>
<line x1="942.5" y1="347.2" x2="947.5" y2="346.4" stroke="#7a7a7a" stroke-width="1.0"/>
<g transform="translate(922.0,340.5)"><rect x="-2.50" y="-9.50" width="5.00" height="26.50" fill="#e63333"/><rect x="-1.10" y="-9.50" width="1.30" height="26.50" fill="#ff9a9a"/><polygon points="0,-17.00 5.00,-9.50 -5.00,-9.50" fill="#e63333"/></g>
<line x1="904.8" y1="150.5" x2="915.4" y2="145.8" stroke="#e58ae5" stroke-width="2.7"/>
<circle cx="986.4" cy="180.1" r="4.4" fill="url(#gob)"/>
<line x1="977.3" y1="170.1" x2="984.7" y2="178.2" stroke="#e58ae5" stroke-width="2.7"/>
<line x1="876.9" y1="127.4" x2="881.9" y2="126.7" stroke="#7a7a7a" stroke-width="1.0"/>
<circle cx="922.0" cy="340.5" r="7.7" fill="url(#gmb)"/>
<line x1="930.1" y1="127.2" x2="923.8" y2="126.8" stroke="#7a7a7a" stroke-width="1.0"/>
<line x1="831.7" y1="223.1" x2="831.8" y2="205.2" stroke="#7a7a7a" stroke-width="1.0"/>
<line x1="979.4" y1="279.3" x2="989.2" y2="289.3" stroke="#e58ae5" stroke-width="2.7"/>
<line x1="964.0" y1="210.0" x2="964.2" y2="209.8" stroke="#b8892e" stroke-width="2.7"/>
<line x1="964.1" y1="272.4" x2="958.6" y2="280.0" stroke="#b8892e" stroke-width="2.7"/>
<line x1="836.1" y1="347.6" x2="841.1" y2="346.9" stroke="#7a7a7a" stroke-width="1.0"/>
<g transform="translate(967.8,267.4)"><rect x="-2.50" y="-9.50" width="5.00" height="26.50" fill="#e63333"/><rect x="-1.10" y="-9.50" width="1.30" height="26.50" fill="#ff9a9a"/><polygon points="0,-17.00 5.00,-9.50 -5.00,-9.50" fill="#e63333"/></g>
<circle cx="967.8" cy="267.4" r="7.7" fill="url(#gmb)"/>
<line x1="936.5" y1="127.5" x2="930.1" y2="127.2" stroke="#7a7a7a" stroke-width="1.0"/>
<line x1="925.9" y1="273.4" x2="931.5" y2="265.8" stroke="#b8892e" stroke-width="2.7"/>
<line x1="865.0" y1="317.0" x2="855.2" y2="325.9" stroke="#e58ae5" stroke-width="2.7"/>
<line x1="926.0" y1="335.8" x2="925.9" y2="336.0" stroke="#b8892e" stroke-width="2.7"/>
<line x1="910.6" y1="266.5" x2="900.8" y2="256.5" stroke="#e58ae5" stroke-width="2.7"/>
<line x1="937.5" y1="347.9" x2="942.5" y2="347.2" stroke="#7a7a7a" stroke-width="1.0"/>
<line x1="831.8" y1="205.2" x2="831.8" y2="187.4" stroke="#7a7a7a" stroke-width="1.0"/>
<circle cx="826.3" cy="290.9" r="4.4" fill="url(#gob)"/>
<line x1="894.1" y1="192.1" x2="896.0" y2="185.2" stroke="#e58ae5" stroke-width="2.7"/>
<line x1="828.8" y1="304.1" x2="826.7" y2="293.5" stroke="#e58ae5" stroke-width="2.7"/>
<circle cx="945.3" cy="364.2" r="4.4" fill="url(#gob)"/>
<line x1="942.9" y1="127.8" x2="936.5" y2="127.5" stroke="#7a7a7a" stroke-width="1.0"/>
<circle cx="853.2" cy="327.7" r="4.4" fill="url(#gob)"/>
<line x1="842.2" y1="322.5" x2="850.8" y2="326.5" stroke="#e58ae5" stroke-width="2.7"/>
<line x1="971.7" y1="200.3" x2="977.2" y2="192.7" stroke="#b8892e" stroke-width="2.7"/>
<line x1="875.4" y1="300.2" x2="874.8" y2="297.5" stroke="#b8892e" stroke-width="2.7"/>
<line x1="910.7" y1="243.9" x2="900.9" y2="252.8" stroke="#e58ae5" stroke-width="2.7"/>
<line x1="871.9" y1="128.1" x2="876.9" y2="127.4" stroke="#7a7a7a" stroke-width="1.0"/>
<line x1="918.0" y1="274.0" x2="910.6" y2="266.5" stroke="#b8892e" stroke-width="2.7"/>
<line x1="907.6" y1="352.1" x2="907.7" y2="334.2" stroke="#7a7a7a" stroke-width="1.0"/>
<line x1="971.8" y1="262.7" x2="971.6" y2="262.9" stroke="#b8892e" stroke-width="2.7"/>
<line x1="956.4" y1="193.4" x2="946.6" y2="183.4" stroke="#e58ae5" stroke-width="2.7"/>
<line x1="880.8" y1="151.1" x2="872.2" y2="147.0" stroke="#e58ae5" stroke-width="2.7"/>
<line x1="912.8" y1="353.1" x2="905.2" y2="363.5" stroke="#e58ae5" stroke-width="2.7"/>
<line x1="958.5" y1="302.6" x2="951.1" y2="294.5" stroke="#e58ae5" stroke-width="2.7"/>
<line x1="831.1" y1="348.3" x2="836.1" y2="347.6" stroke="#7a7a7a" stroke-width="1.0"/>
<line x1="894.2" y1="169.5" x2="896.3" y2="180.1" stroke="#e58ae5" stroke-width="2.7"/>
<line x1="828.9" y1="281.5" x2="827.0" y2="288.3" stroke="#e58ae5" stroke-width="2.7"/>
<circle cx="872.0" cy="217.8" r="4.4" fill="url(#gob)"/>
<line x1="874.5" y1="231.0" x2="872.5" y2="220.4" stroke="#e58ae5" stroke-width="2.7"/>
<line x1="880.9" y1="310.8" x2="885.8" y2="316.2" stroke="#b8892e" stroke-width="2.7"/>
<circle cx="991.1" cy="291.2" r="4.4" fill="url(#gob)"/>
<line x1="831.8" y1="187.4" x2="831.9" y2="169.5" stroke="#7a7a7a" stroke-width="1.0"/>
<line x1="949.3" y1="128.1" x2="942.9" y2="127.8" stroke="#7a7a7a" stroke-width="1.0"/>
<circle cx="899.0" cy="254.6" r="4.4" fill="url(#gob)"/>
<line x1="888.0" y1="249.4" x2="896.6" y2="253.5" stroke="#e58ae5" stroke-width="2.7"/>
<line x1="921.2" y1="227.2" x2="920.6" y2="224.4" stroke="#b8892e" stroke-width="2.7"/>
<line x1="956.5" y1="170.8" x2="946.7" y2="179.8" stroke="#e58ae5" stroke-width="2.7"/>
<line x1="963.7" y1="200.9" x2="956.4" y2="193.4" stroke="#b8892e" stroke-width="2.7"/>
<line x1="927.7" y1="281.2" x2="935.8" y2="285.5" stroke="#b8892e" stroke-width="2.7"/>
<line x1="958.6" y1="280.0" x2="950.9" y2="290.4" stroke="#e58ae5" stroke-width="2.7"/>
<line x1="907.7" y1="334.2" x2="907.8" y2="316.4" stroke="#7a7a7a" stroke-width="1.0"/>
<line x1="932.5" y1="348.6" x2="937.5" y2="347.9" stroke="#7a7a7a" stroke-width="1.0"/>
<line x1="874.6" y1="208.4" x2="872.7" y2="215.3" stroke="#e58ae5" stroke-width="2.7"/>
<circle cx="917.8" cy="144.7" r="4.4" fill="url(#gob)"/>
<line x1="920.3" y1="157.9" x2="918.3" y2="147.3" stroke="#e58ae5" stroke-width="2.7"/>
<line x1="926.6" y1="237.7" x2="931.6" y2="243.2" stroke="#b8892e" stroke-width="2.7"/>
<line x1="872.2" y1="310.4" x2="865.0" y2="317.0" stroke="#b8892e" stroke-width="2.7"/>
<line x1="837.5" y1="348.6" x2="831.1" y2="348.3" stroke="#7a7a7a" stroke-width="1.0"/>
<line x1="955.6" y1="128.4" x2="949.3" y2="128.1" stroke="#7a7a7a" stroke-width="1.0"/>
<circle cx="944.7" cy="181.5" r="4.4" fill="url(#gob)"/>
<line x1="933.8" y1="176.3" x2="942.4" y2="180.4" stroke="#e58ae5" stroke-width="2.7"/>
<line x1="966.9" y1="154.1" x2="966.3" y2="151.4" stroke="#b8892e" stroke-width="2.7"/>
<line x1="973.5" y1="208.2" x2="981.6" y2="212.4" stroke="#b8892e" stroke-width="2.7"/>
<line x1="935.8" y1="285.5" x2="947.0" y2="291.4" stroke="#e58ae5" stroke-width="2.7"/>
<line x1="867.0" y1="128.8" x2="871.9" y2="128.1" stroke="#7a7a7a" stroke-width="1.0"/>
<line x1="831.9" y1="169.5" x2="832.0" y2="151.6" stroke="#7a7a7a" stroke-width="1.0"/>
<line x1="969.5" y1="321.3" x2="970.8" y2="327.5" stroke="#e58ae5" stroke-width="2.7"/>
<line x1="818.2" y1="323.0" x2="807.6" y2="327.7" stroke="#e58ae5" stroke-width="2.7"/>
<g transform="translate(922.3,278.4)"><rect x="-2.50" y="-9.50" width="5.00" height="26.50" fill="#e63333"/><rect x="-1.10" y="-9.50" width="1.30" height="26.50" fill="#ff9a9a"/><polygon points="0,-17.00 5.00,-9.50 -5.00,-9.50" fill="#e63333"/></g>
<line x1="917.6" y1="282.3" x2="912.5" y2="286.5" stroke="#b8892e" stroke-width="2.7"/>
<line x1="972.4" y1="164.7" x2="977.3" y2="170.1" stroke="#b8892e" stroke-width="2.7"/>
<line x1="917.9" y1="237.3" x2="910.7" y2="243.9" stroke="#b8892e" stroke-width="2.7"/>
<circle cx="922.3" cy="278.4" r="7.7" fill="url(#gmb)"/>
<line x1="907.8" y1="316.4" x2="907.8" y2="298.5" stroke="#7a7a7a" stroke-width="1.0"/>
<line x1="843.9" y1="348.9" x2="837.5" y2="348.6" stroke="#7a7a7a" stroke-width="1.0"/>
<line x1="962.0" y1="128.8" x2="955.6" y2="128.4" stroke="#7a7a7a" stroke-width="1.0"/>
<line x1="981.6" y1="212.4" x2="992.8" y2="218.3" stroke="#e58ae5" stroke-width="2.7"/>
<circle cx="805.2" cy="328.8" r="4.4" fill="url(#gob)"/>
<line x1="864.0" y1="249.9" x2="853.4" y2="254.6" stroke="#e58ae5" stroke-width="2.7"/>
<g transform="translate(968.0,205.3)"><rect x="-2.50" y="-9.50" width="5.00" height="26.50" fill="#e63333"/><rect x="-1.10" y="-9.50" width="1.30" height="26.50" fill="#ff9a9a"/><polygon points="0,-17.00 5.00,-9.50 -5.00,-9.50" fill="#e63333"/></g>
<line x1="927.5" y1="349.3" x2="932.5" y2="348.6" stroke="#7a7a7a" stroke-width="1.0"/>
<line x1="832.0" y1="151.6" x2="832.1" y2="133.7" stroke="#7a7a7a" stroke-width="1.0"/>
<line x1="963.3" y1="209.3" x2="958.3" y2="213.5" stroke="#b8892e" stroke-width="2.7"/>
<line x1="963.7" y1="164.3" x2="956.5" y2="170.8" stroke="#b8892e" stroke-width="2.7"/>
<circle cx="824.0" cy="218.9" r="4.4" fill="url(#gob)"/>
<line x1="923.9" y1="272.4" x2="924.9" y2="269.0" stroke="#b8892e" stroke-width="2.7"/>
<circle cx="968.0" cy="205.3" r="7.7" fill="url(#gmb)"/>
<line x1="850.2" y1="349.2" x2="843.9" y2="348.9" stroke="#7a7a7a" stroke-width="1.0"/>
<line x1="968.4" y1="129.1" x2="962.0" y2="128.8" stroke="#7a7a7a" stroke-width="1.0"/>
<circle cx="903.6" cy="365.6" r="4.4" fill="url(#gob)"/>
<line x1="841.2" y1="263.9" x2="849.0" y2="257.4" stroke="#e58ae5" stroke-width="2.7"/>
<circle cx="851.0" cy="255.7" r="4.4" fill="url(#gob)"/>
<line x1="907.8" y1="298.5" x2="907.9" y2="280.6" stroke="#7a7a7a" stroke-width="1.0"/>
<line x1="862.0" y1="129.5" x2="867.0" y2="128.8" stroke="#7a7a7a" stroke-width="1.0"/>
<line x1="909.8" y1="176.9" x2="899.2" y2="181.6" stroke="#e58ae5" stroke-width="2.7"/>
<line x1="830.1" y1="311.2" x2="828.8" y2="304.1" stroke="#b8892e" stroke-width="2.7"/>
<line x1="882.4" y1="303.8" x2="889.7" y2="300.5" stroke="#b8892e" stroke-width="2.7"/>
<line x1="836.8" y1="319.9" x2="842.2" y2="322.5" stroke="#b8892e" stroke-width="2.7"/>
<circle cx="869.8" cy="145.8" r="4.4" fill="url(#gob)"/>
<line x1="969.7" y1="199.4" x2="970.6" y2="195.9" stroke="#b8892e" stroke-width="2.7"/>
<line x1="856.6" y1="349.6" x2="850.2" y2="349.2" stroke="#7a7a7a" stroke-width="1.0"/>
<line x1="827.9" y1="214.4" x2="825.7" y2="216.9" stroke="#e58ae5" stroke-width="2.7"/>
<g transform="translate(876.7,306.3)"><rect x="-2.50" y="-17.00" width="5.00" height="26.50" fill="#3340dc"/><rect x="-1.10" y="-17.00" width="1.30" height="26.50" fill="#8c9cff"/><polygon points="0,17.00 5.00,9.50 -5.00,9.50" fill="#3340dc"/></g>
<circle cx="949.4" cy="292.6" r="4.4" fill="url(#gob)"/>
<line x1="887.0" y1="190.8" x2="894.7" y2="184.3" stroke="#e58ae5" stroke-width="2.7"/>
<circle cx="896.7" cy="182.6" r="4.4" fill="url(#gob)"/>
<circle cx="876.7" cy="306.3" r="7.7" fill="url(#gmb)"/>
<line x1="871.2" y1="303.6" x2="865.7" y2="301.0" stroke="#b8892e" stroke-width="2.7"/>
<line x1="825.6" y1="319.7" x2="818.2" y2="323.0" stroke="#b8892e" stroke-width="2.7"/>
<line x1="877.9" y1="312.3" x2="879.2" y2="319.4" stroke="#b8892e" stroke-width="2.7"/>
<line x1="963.4" y1="129.8" x2="968.4" y2="129.1" stroke="#7a7a7a" stroke-width="1.0"/>
<line x1="875.9" y1="238.1" x2="874.5" y2="231.0" stroke="#b8892e" stroke-width="2.7"/>
<line x1="928.1" y1="230.7" x2="935.5" y2="227.4" stroke="#b8892e" stroke-width="2.7"/>
<line x1="882.6" y1="246.8" x2="888.0" y2="249.4" stroke="#b8892e" stroke-width="2.7"/>
<line x1="907.9" y1="280.6" x2="908.0" y2="262.7" stroke="#7a7a7a" stroke-width="1.0"/>
<line x1="922.6" y1="350.0" x2="927.5" y2="349.3" stroke="#7a7a7a" stroke-width="1.0"/>
<line x1="863.0" y1="349.9" x2="856.6" y2="349.6" stroke="#7a7a7a" stroke-width="1.0"/>
<line x1="873.6" y1="141.4" x2="871.5" y2="143.8" stroke="#e58ae5" stroke-width="2.7"/>
<g transform="translate(922.5,233.2)"><rect x="-2.50" y="-17.00" width="5.00" height="26.50" fill="#3340dc"/><rect x="-1.10" y="-17.00" width="1.30" height="26.50" fill="#8c9cff"/><polygon points="0,17.00 5.00,9.50 -5.00,9.50" fill="#3340dc"/></g>
<line x1="925.9" y1="336.0" x2="928.0" y2="333.5" stroke="#e58ae5" stroke-width="2.7"/>
<circle cx="995.1" cy="219.5" r="4.4" fill="url(#gob)"/>
<circle cx="922.5" cy="233.2" r="7.7" fill="url(#gmb)"/>
<line x1="916.9" y1="230.5" x2="911.5" y2="228.0" stroke="#b8892e" stroke-width="2.7"/>
<line x1="871.4" y1="246.7" x2="864.0" y2="249.9" stroke="#b8892e" stroke-width="2.7"/>
<line x1="857.0" y1="130.2" x2="862.0" y2="129.5" stroke="#7a7a7a" stroke-width="1.0"/>
<line x1="923.6" y1="239.2" x2="925.0" y2="246.4" stroke="#b8892e" stroke-width="2.7"/>
<line x1="921.6" y1="165.0" x2="920.3" y2="157.9" stroke="#b8892e" stroke-width="2.7"/>
<line x1="973.9" y1="157.6" x2="981.2" y2="154.3" stroke="#b8892e" stroke-width="2.7"/>
<line x1="928.3" y1="173.7" x2="933.8" y2="176.3" stroke="#b8892e" stroke-width="2.7"/>
<line x1="869.4" y1="350.2" x2="863.0" y2="349.9" stroke="#7a7a7a" stroke-width="1.0"/>
<line x1="912.5" y1="286.5" x2="904.8" y2="293.0" stroke="#e58ae5" stroke-width="2.7"/>
<g transform="translate(968.2,160.1)"><rect x="-2.50" y="-17.00" width="5.00" height="26.50" fill="#3340dc"/><rect x="-1.10" y="-17.00" width="1.30" height="26.50" fill="#8c9cff"/><polygon points="0,17.00 5.00,9.50 -5.00,9.50" fill="#3340dc"/></g>
<line x1="971.6" y1="262.9" x2="973.8" y2="260.4" stroke="#e58ae5" stroke-width="2.7"/>
<line x1="908.0" y1="262.7" x2="908.1" y2="244.8" stroke="#7a7a7a" stroke-width="1.0"/>
<line x1="829.8" y1="278.0" x2="828.9" y2="281.5" stroke="#b8892e" stroke-width="2.7"/>
<circle cx="968.2" cy="160.1" r="7.7" fill="url(#gmb)"/>
<line x1="962.7" y1="157.5" x2="957.3" y2="154.9" stroke="#b8892e" stroke-width="2.7"/>
<line x1="917.1" y1="173.6" x2="909.8" y2="176.9" stroke="#b8892e" stroke-width="2.7"/>
<line x1="969.4" y1="166.2" x2="970.7" y2="173.3" stroke="#b8892e" stroke-width="2.7"/>
<line x1="889.7" y1="300.5" x2="900.3" y2="295.8" stroke="#e58ae5" stroke-width="2.7"/>
<circle cx="971.4" cy="330.1" r="4.4" fill="url(#gob)"/>
<line x1="958.4" y1="130.5" x2="963.4" y2="129.8" stroke="#7a7a7a" stroke-width="1.0"/>
<line x1="875.7" y1="350.5" x2="869.4" y2="350.2" stroke="#7a7a7a" stroke-width="1.0"/>
<line x1="917.6" y1="350.7" x2="922.6" y2="350.0" stroke="#7a7a7a" stroke-width="1.0"/>
<line x1="958.3" y1="213.5" x2="950.5" y2="219.9" stroke="#e58ae5" stroke-width="2.7"/>
<line x1="875.6" y1="204.9" x2="874.6" y2="208.4" stroke="#b8892e" stroke-width="2.7"/>
<line x1="835.8" y1="313.1" x2="843.0" y2="306.5" stroke="#b8892e" stroke-width="2.7"/>
<line x1="836.2" y1="268.1" x2="841.2" y2="263.9" stroke="#b8892e" stroke-width="2.7"/>
<line x1="908.1" y1="244.8" x2="908.2" y2="227.0" stroke="#7a7a7a" stroke-width="1.0"/>
<line x1="935.5" y1="227.4" x2="946.1" y2="222.7" stroke="#e58ae5" stroke-width="2.7"/>
<line x1="852.0" y1="130.9" x2="857.0" y2="130.2" stroke="#7a7a7a" stroke-width="1.0"/>
<line x1="882.1" y1="350.8" x2="875.7" y2="350.5" stroke="#7a7a7a" stroke-width="1.0"/>
<line x1="817.9" y1="264.9" x2="806.7" y2="259.1" stroke="#e58ae5" stroke-width="2.7"/>
<g transform="translate(831.3,317.2)"><rect x="-2.50" y="-17.00" width="5.00" height="26.50" fill="#3340dc"/><rect x="-1.10" y="-17.00" width="1.30" height="26.50" fill="#8c9cff"/><polygon points="0,17.00 5.00,9.50 -5.00,9.50" fill="#3340dc"/></g>
<circle cx="828.1" cy="147.3" r="4.4" fill="url(#gob)"/>
<circle cx="831.3" cy="317.2" r="7.7" fill="url(#gmb)"/>
<line x1="881.6" y1="240.0" x2="888.8" y2="233.5" stroke="#b8892e" stroke-width="2.7"/>
<line x1="827.1" y1="312.7" x2="822.2" y2="307.2" stroke="#b8892e" stroke-width="2.7"/>
<line x1="881.9" y1="195.0" x2="887.0" y2="190.8" stroke="#b8892e" stroke-width="2.7"/>
<line x1="981.2" y1="154.3" x2="991.8" y2="149.6" stroke="#e58ae5" stroke-width="2.7"/>
<line x1="830.0" y1="156.0" x2="828.6" y2="149.8" stroke="#e58ae5" stroke-width="2.7"/>
<line x1="953.4" y1="131.2" x2="958.4" y2="130.5" stroke="#7a7a7a" stroke-width="1.0"/>
<line x1="888.5" y1="351.1" x2="882.1" y2="350.8" stroke="#7a7a7a" stroke-width="1.0"/>
<line x1="863.7" y1="191.9" x2="852.5" y2="186.0" stroke="#e58ae5" stroke-width="2.7"/>
<g transform="translate(877.0,244.2)"><rect x="-2.50" y="-17.00" width="5.00" height="26.50" fill="#3340dc"/><rect x="-1.10" y="-17.00" width="1.30" height="26.50" fill="#8c9cff"/><polygon points="0,17.00 5.00,9.50 -5.00,9.50" fill="#3340dc"/></g>
<line x1="908.2" y1="227.0" x2="908.2" y2="209.1" stroke="#7a7a7a" stroke-width="1.0"/>
<line x1="826.0" y1="269.2" x2="817.9" y2="264.9" stroke="#b8892e" stroke-width="2.7"/>
<line x1="832.6" y1="323.2" x2="833.2" y2="326.0" stroke="#b8892e" stroke-width="2.7"/>
<line x1="865.7" y1="301.0" x2="857.1" y2="296.9" stroke="#e58ae5" stroke-width="2.7"/>
<line x1="912.6" y1="351.4" x2="917.6" y2="350.7" stroke="#7a7a7a" stroke-width="1.0"/>
<circle cx="877.0" cy="244.2" r="7.7" fill="url(#gmb)"/>
<line x1="927.3" y1="166.9" x2="934.5" y2="160.4" stroke="#b8892e" stroke-width="2.7"/>
<line x1="872.9" y1="239.6" x2="867.9" y2="234.2" stroke="#b8892e" stroke-width="2.7"/>
<line x1="879.2" y1="319.4" x2="881.2" y2="330.0" stroke="#e58ae5" stroke-width="2.7"/>
<line x1="924.9" y1="269.0" x2="926.8" y2="262.1" stroke="#e58ae5" stroke-width="2.7"/>
<circle cx="804.4" cy="257.8" r="4.4" fill="url(#gob)"/>
<line x1="847.0" y1="131.6" x2="852.0" y2="130.9" stroke="#7a7a7a" stroke-width="1.0"/>
<line x1="840.9" y1="197.4" x2="848.6" y2="186.9" stroke="#e58ae5" stroke-width="2.7"/>
<line x1="894.9" y1="351.5" x2="888.5" y2="351.1" stroke="#7a7a7a" stroke-width="1.0"/>
<g transform="translate(922.8,171.1)"><rect x="-2.50" y="-17.00" width="5.00" height="26.50" fill="#3340dc"/><rect x="-1.10" y="-17.00" width="1.30" height="26.50" fill="#8c9cff"/><polygon points="0,17.00 5.00,9.50 -5.00,9.50" fill="#3340dc"/></g>
<line x1="871.8" y1="196.1" x2="863.7" y2="191.9" stroke="#b8892e" stroke-width="2.7"/>
<line x1="835.8" y1="276.4" x2="843.1" y2="283.9" stroke="#b8892e" stroke-width="2.7"/>
<line x1="843.0" y1="306.5" x2="852.8" y2="297.6" stroke="#e58ae5" stroke-width="2.7"/>
<line x1="878.3" y1="250.2" x2="878.9" y2="252.9" stroke="#b8892e" stroke-width="2.7"/>
<line x1="911.5" y1="228.0" x2="902.9" y2="223.9" stroke="#e58ae5" stroke-width="2.7"/>
<circle cx="922.8" cy="171.1" r="7.7" fill="url(#gmb)"/>
<line x1="908.2" y1="209.1" x2="908.3" y2="191.2" stroke="#7a7a7a" stroke-width="1.0"/>
<line x1="918.6" y1="166.5" x2="913.7" y2="161.1" stroke="#b8892e" stroke-width="2.7"/>
<line x1="925.0" y1="246.4" x2="927.0" y2="257.0" stroke="#e58ae5" stroke-width="2.7"/>
<circle cx="902.7" cy="294.7" r="4.4" fill="url(#gob)"/>
<line x1="970.6" y1="195.9" x2="972.5" y2="189.0" stroke="#e58ae5" stroke-width="2.7"/>
<line x1="905.2" y1="307.9" x2="903.2" y2="297.3" stroke="#e58ae5" stroke-width="2.7"/>
<circle cx="850.1" cy="184.8" r="4.4" fill="url(#gob)"/>
<line x1="841.0" y1="174.8" x2="848.4" y2="182.8" stroke="#e58ae5" stroke-width="2.7"/>
<line x1="901.2" y1="351.8" x2="894.9" y2="351.5" stroke="#7a7a7a" stroke-width="1.0"/>
<line x1="886.7" y1="124.3" x2="894.3" y2="113.8" stroke="#e58ae5" stroke-width="2.7"/>
<circle cx="929.7" cy="331.5" r="4.4" fill="url(#gob)"/>
<line x1="918.7" y1="326.3" x2="927.3" y2="330.4" stroke="#e58ae5" stroke-width="2.7"/>
<line x1="843.1" y1="283.9" x2="852.9" y2="293.9" stroke="#e58ae5" stroke-width="2.7"/>
<line x1="827.7" y1="214.6" x2="827.9" y2="214.4" stroke="#b8892e" stroke-width="2.7"/>
<line x1="948.4" y1="131.9" x2="953.4" y2="131.2" stroke="#7a7a7a" stroke-width="1.0"/>
<line x1="881.5" y1="203.4" x2="888.9" y2="210.9" stroke="#b8892e" stroke-width="2.7"/>
<line x1="888.8" y1="233.5" x2="898.6" y2="224.5" stroke="#e58ae5" stroke-width="2.7"/>
<line x1="924.1" y1="177.1" x2="924.7" y2="179.9" stroke="#b8892e" stroke-width="2.7"/>
<line x1="827.8" y1="277.0" x2="822.3" y2="284.6" stroke="#b8892e" stroke-width="2.7"/>
<line x1="957.3" y1="154.9" x2="948.6" y2="150.8" stroke="#e58ae5" stroke-width="2.7"/>
<line x1="907.6" y1="352.1" x2="912.6" y2="351.4" stroke="#7a7a7a" stroke-width="1.0"/>
<line x1="970.7" y1="173.3" x2="972.7" y2="183.9" stroke="#e58ae5" stroke-width="2.7"/>
<line x1="905.3" y1="285.3" x2="903.4" y2="292.2" stroke="#e58ae5" stroke-width="2.7"/>
<circle cx="948.5" cy="221.6" r="4.4" fill="url(#gob)"/>
<g transform="translate(831.5,272.0)"><rect x="-2.50" y="-9.50" width="5.00" height="26.50" fill="#e63333"/><rect x="-1.10" y="-9.50" width="1.30" height="26.50" fill="#ff9a9a"/><polygon points="0,-17.00 5.00,-9.50 -5.00,-9.50" fill="#e63333"/></g>
<circle cx="895.9" cy="111.7" r="4.4" fill="url(#gob)"/>
<line x1="908.3" y1="191.2" x2="908.4" y2="173.3" stroke="#7a7a7a" stroke-width="1.0"/>
<line x1="907.6" y1="352.1" x2="901.2" y2="351.8" stroke="#7a7a7a" stroke-width="1.0"/>
<circle cx="831.5" cy="272.0" r="7.7" fill="url(#gmb)"/>
<circle cx="975.5" cy="258.4" r="4.4" fill="url(#gob)"/>
<line x1="888.9" y1="210.9" x2="898.7" y2="220.9" stroke="#e58ae5" stroke-width="2.7"/>
<line x1="873.5" y1="141.6" x2="873.6" y2="141.4" stroke="#b8892e" stroke-width="2.7"/>
<line x1="842.0" y1="132.3" x2="847.0" y2="131.6" stroke="#7a7a7a" stroke-width="1.0"/>
<line x1="934.5" y1="160.4" x2="944.3" y2="151.5" stroke="#e58ae5" stroke-width="2.7"/>
<line x1="873.6" y1="204.0" x2="868.0" y2="211.6" stroke="#b8892e" stroke-width="2.7"/>
<circle cx="994.3" cy="148.6" r="4.4" fill="url(#gob)"/>
<g transform="translate(877.2,199.0)"><rect x="-2.50" y="-9.50" width="5.00" height="26.50" fill="#e63333"/><rect x="-1.10" y="-9.50" width="1.30" height="26.50" fill="#ff9a9a"/><polygon points="0,-17.00 5.00,-9.50 -5.00,-9.50" fill="#e63333"/></g>
<circle cx="877.2" cy="199.0" r="7.7" fill="url(#gmb)"/>
<line x1="835.4" y1="205.0" x2="840.9" y2="197.4" stroke="#b8892e" stroke-width="2.7"/>
<line x1="835.5" y1="267.4" x2="835.3" y2="267.6" stroke="#b8892e" stroke-width="2.7"/>
<line x1="820.1" y1="198.1" x2="810.3" y2="188.1" stroke="#e58ae5" stroke-width="2.7"/>
<line x1="943.5" y1="132.6" x2="948.4" y2="131.9" stroke="#7a7a7a" stroke-width="1.0"/>
<line x1="908.4" y1="173.3" x2="908.5" y2="155.4" stroke="#7a7a7a" stroke-width="1.0"/>
<line x1="822.2" y1="307.2" x2="814.8" y2="299.2" stroke="#e58ae5" stroke-width="2.7"/>
<line x1="894.7" y1="326.8" x2="884.1" y2="331.5" stroke="#e58ae5" stroke-width="2.7"/>
<circle cx="854.8" cy="295.8" r="4.4" fill="url(#gob)"/>
<line x1="881.1" y1="131.9" x2="886.7" y2="124.3" stroke="#b8892e" stroke-width="2.7"/>
<line x1="820.2" y1="175.5" x2="810.4" y2="184.4" stroke="#e58ae5" stroke-width="2.7"/>
<line x1="827.4" y1="205.6" x2="820.1" y2="198.1" stroke="#b8892e" stroke-width="2.7"/>
<line x1="881.2" y1="194.3" x2="881.1" y2="194.5" stroke="#b8892e" stroke-width="2.7"/>
<line x1="865.8" y1="125.0" x2="856.0" y2="115.0" stroke="#e58ae5" stroke-width="2.7"/>
<line x1="837.1" y1="133.0" x2="842.0" y2="132.3" stroke="#7a7a7a" stroke-width="1.0"/>
<line x1="822.3" y1="284.6" x2="814.6" y2="295.1" stroke="#e58ae5" stroke-width="2.7"/>
<circle cx="881.7" cy="332.6" r="4.4" fill="url(#gob)"/>
<line x1="867.9" y1="234.2" x2="860.6" y2="226.1" stroke="#e58ae5" stroke-width="2.7"/>
<line x1="908.5" y1="155.4" x2="908.6" y2="137.6" stroke="#7a7a7a" stroke-width="1.0"/>
<circle cx="900.5" cy="222.7" r="4.4" fill="url(#gob)"/>
<circle cx="808.4" cy="186.2" r="4.4" fill="url(#gob)"/>
<line x1="830.6" y1="158.8" x2="830.0" y2="156.0" stroke="#b8892e" stroke-width="2.7"/>
<line x1="873.2" y1="132.5" x2="865.8" y2="125.0" stroke="#b8892e" stroke-width="2.7"/>
<line x1="837.2" y1="212.8" x2="845.3" y2="217.1" stroke="#b8892e" stroke-width="2.7"/>
<line x1="917.7" y1="267.7" x2="925.5" y2="261.2" stroke="#e58ae5" stroke-width="2.7"/>
<line x1="868.0" y1="211.6" x2="860.4" y2="222.0" stroke="#e58ae5" stroke-width="2.7"/>
<line x1="833.2" y1="326.0" x2="834.5" y2="332.2" stroke="#e58ae5" stroke-width="2.7"/>
<circle cx="927.5" cy="259.5" r="4.4" fill="url(#gob)"/>
<line x1="913.7" y1="161.1" x2="906.3" y2="153.1" stroke="#e58ae5" stroke-width="2.7"/>
<line x1="938.5" y1="133.3" x2="943.5" y2="132.6" stroke="#7a7a7a" stroke-width="1.0"/>
<line x1="906.6" y1="315.0" x2="905.2" y2="307.9" stroke="#b8892e" stroke-width="2.7"/>
<line x1="913.3" y1="323.7" x2="918.7" y2="326.3" stroke="#b8892e" stroke-width="2.7"/>
<line x1="836.1" y1="169.3" x2="841.0" y2="174.8" stroke="#b8892e" stroke-width="2.7"/>
<circle cx="946.3" cy="149.7" r="4.4" fill="url(#gob)"/>
<line x1="904.4" y1="218.3" x2="902.2" y2="220.7" stroke="#e58ae5" stroke-width="2.7"/>
<circle cx="854.2" cy="113.1" r="4.4" fill="url(#gob)"/>
<line x1="882.9" y1="139.8" x2="891.0" y2="144.0" stroke="#b8892e" stroke-width="2.7"/>
<line x1="845.3" y1="217.1" x2="856.5" y2="222.9" stroke="#e58ae5" stroke-width="2.7"/>
<line x1="878.9" y1="252.9" x2="880.3" y2="259.1" stroke="#e58ae5" stroke-width="2.7"/>
<circle cx="973.2" cy="186.5" r="4.4" fill="url(#gob)"/>
<line x1="832.1" y1="133.7" x2="837.1" y2="133.0" stroke="#7a7a7a" stroke-width="1.0"/>
<g transform="translate(831.7,210.0)"><rect x="-2.50" y="-9.50" width="5.00" height="26.50" fill="#e63333"/><rect x="-1.10" y="-9.50" width="1.30" height="26.50" fill="#ff9a9a"/><polygon points="0,-17.00 5.00,-9.50 -5.00,-9.50" fill="#e63333"/></g>
<line x1="902.1" y1="323.6" x2="894.7" y2="326.8" stroke="#b8892e" stroke-width="2.7"/>
<line x1="827.0" y1="213.9" x2="822.0" y2="218.1" stroke="#b8892e" stroke-width="2.7"/>
<line x1="827.4" y1="168.9" x2="820.2" y2="175.5" stroke="#b8892e" stroke-width="2.7"/>
<circle cx="831.7" cy="210.0" r="7.7" fill="url(#gmb)"/>
<line x1="891.0" y1="144.0" x2="902.2" y2="149.9" stroke="#e58ae5" stroke-width="2.7"/>
<line x1="924.7" y1="179.9" x2="926.1" y2="186.0" stroke="#e58ae5" stroke-width="2.7"/>
<g transform="translate(877.5,136.9)"><rect x="-2.50" y="-9.50" width="5.00" height="26.50" fill="#e63333"/><rect x="-1.10" y="-9.50" width="1.30" height="26.50" fill="#ff9a9a"/><polygon points="0,-17.00 5.00,-9.50 -5.00,-9.50" fill="#e63333"/></g>
<line x1="933.5" y1="134.0" x2="938.5" y2="133.3" stroke="#7a7a7a" stroke-width="1.0"/>
<line x1="872.8" y1="140.8" x2="867.7" y2="145.1" stroke="#b8892e" stroke-width="2.7"/>
<line x1="833.4" y1="204.0" x2="834.3" y2="200.6" stroke="#b8892e" stroke-width="2.7"/>
<circle cx="877.5" cy="136.9" r="7.7" fill="url(#gmb)"/>
<line x1="838.4" y1="134.1" x2="832.1" y2="133.7" stroke="#7a7a7a" stroke-width="1.0"/>
<circle cx="813.1" cy="297.2" r="4.4" fill="url(#gob)"/>
<line x1="906.3" y1="281.8" x2="905.3" y2="285.3" stroke="#b8892e" stroke-width="2.7"/>
<line x1="879.1" y1="131.0" x2="880.1" y2="127.5" stroke="#b8892e" stroke-width="2.7"/>
<line x1="844.8" y1="134.4" x2="838.4" y2="134.1" stroke="#7a7a7a" stroke-width="1.0"/>
<circle cx="858.8" cy="224.2" r="4.4" fill="url(#gob)"/>
<line x1="912.3" y1="316.9" x2="919.5" y2="310.4" stroke="#b8892e" stroke-width="2.7"/>
<line x1="912.7" y1="271.9" x2="917.7" y2="267.7" stroke="#b8892e" stroke-width="2.7"/>
<line x1="837.6" y1="162.3" x2="844.9" y2="159.0" stroke="#b8892e" stroke-width="2.7"/>
<line x1="928.5" y1="134.7" x2="933.5" y2="134.0" stroke="#7a7a7a" stroke-width="1.0"/>
<line x1="894.4" y1="268.8" x2="883.2" y2="262.9" stroke="#e58ae5" stroke-width="2.7"/>
<line x1="851.2" y1="134.7" x2="844.8" y2="134.4" stroke="#7a7a7a" stroke-width="1.0"/>
<g transform="translate(907.7,321.1)"><rect x="-2.50" y="-17.00" width="5.00" height="26.50" fill="#3340dc"/><rect x="-1.10" y="-17.00" width="1.30" height="26.50" fill="#8c9cff"/><polygon points="0,17.00 5.00,9.50 -5.00,9.50" fill="#3340dc"/></g>
<g transform="translate(831.9,164.8)"><rect x="-2.50" y="-17.00" width="5.00" height="26.50" fill="#3340dc"/><rect x="-1.10" y="-17.00" width="1.30" height="26.50" fill="#8c9cff"/><polygon points="0,17.00 5.00,9.50 -5.00,9.50" fill="#3340dc"/></g>
<line x1="835.3" y1="267.6" x2="837.4" y2="265.1" stroke="#e58ae5" stroke-width="2.7"/>
<circle cx="904.6" cy="151.1" r="4.4" fill="url(#gob)"/>
<circle cx="907.7" cy="321.1" r="7.7" fill="url(#gmb)"/>
<line x1="903.6" y1="316.5" x2="898.6" y2="311.1" stroke="#b8892e" stroke-width="2.7"/>
<circle cx="831.9" cy="164.8" r="7.7" fill="url(#gmb)"/>
<line x1="826.4" y1="162.1" x2="820.9" y2="159.6" stroke="#b8892e" stroke-width="2.7"/>
<line x1="833.1" y1="170.8" x2="834.4" y2="178.0" stroke="#b8892e" stroke-width="2.7"/>
<circle cx="835.1" cy="334.7" r="4.4" fill="url(#gob)"/>
<line x1="906.5" y1="159.9" x2="905.1" y2="153.7" stroke="#e58ae5" stroke-width="2.7"/>
<line x1="857.6" y1="135.0" x2="851.2" y2="134.7" stroke="#7a7a7a" stroke-width="1.0"/>
<line x1="822.0" y1="218.1" x2="814.2" y2="224.6" stroke="#e58ae5" stroke-width="2.7"/>
<line x1="902.5" y1="273.0" x2="894.4" y2="268.8" stroke="#b8892e" stroke-width="2.7"/>
<line x1="909.1" y1="327.1" x2="909.7" y2="329.8" stroke="#b8892e" stroke-width="2.7"/>
<line x1="881.1" y1="194.5" x2="883.2" y2="192.0" stroke="#e58ae5" stroke-width="2.7"/>
<circle cx="880.9" cy="261.7" r="4.4" fill="url(#gob)"/>
<line x1="923.5" y1="135.4" x2="928.5" y2="134.7" stroke="#7a7a7a" stroke-width="1.0"/>
<line x1="917.4" y1="201.2" x2="925.1" y2="190.7" stroke="#e58ae5" stroke-width="2.7"/>
<line x1="863.9" y1="135.3" x2="857.6" y2="135.0" stroke="#7a7a7a" stroke-width="1.0"/>
<line x1="867.7" y1="145.1" x2="860.0" y2="151.5" stroke="#e58ae5" stroke-width="2.7"/>
<line x1="912.3" y1="280.3" x2="919.6" y2="287.8" stroke="#b8892e" stroke-width="2.7"/>
<line x1="919.5" y1="310.4" x2="929.3" y2="301.4" stroke="#e58ae5" stroke-width="2.7"/>
<line x1="844.9" y1="159.0" x2="855.5" y2="154.3" stroke="#e58ae5" stroke-width="2.7"/>
<circle cx="926.6" cy="188.6" r="4.4" fill="url(#gob)"/>
<line x1="917.5" y1="178.6" x2="924.8" y2="186.7" stroke="#e58ae5" stroke-width="2.7"/>
<line x1="870.3" y1="135.7" x2="863.9" y2="135.3" stroke="#7a7a7a" stroke-width="1.0"/>
<line x1="919.6" y1="287.8" x2="929.4" y2="297.8" stroke="#e58ae5" stroke-width="2.7"/>
<line x1="904.2" y1="218.5" x2="904.4" y2="218.3" stroke="#b8892e" stroke-width="2.7"/>
<line x1="904.3" y1="280.9" x2="898.7" y2="288.5" stroke="#b8892e" stroke-width="2.7"/>
<g transform="translate(907.9,275.9)"><rect x="-2.50" y="-9.50" width="5.00" height="26.50" fill="#e63333"/><rect x="-1.10" y="-9.50" width="1.30" height="26.50" fill="#ff9a9a"/><polygon points="0,-17.00 5.00,-9.50 -5.00,-9.50" fill="#e63333"/></g>
<circle cx="907.9" cy="275.9" r="7.7" fill="url(#gmb)"/>
<line x1="876.7" y1="136.0" x2="870.3" y2="135.7" stroke="#7a7a7a" stroke-width="1.0"/>
<line x1="918.5" y1="136.2" x2="923.5" y2="135.4" stroke="#7a7a7a" stroke-width="1.0"/>
<line x1="834.3" y1="200.6" x2="836.2" y2="193.7" stroke="#e58ae5" stroke-width="2.7"/>
<line x1="883.1" y1="136.3" x2="876.7" y2="136.0" stroke="#7a7a7a" stroke-width="1.0"/>
<line x1="911.9" y1="208.8" x2="917.4" y2="201.2" stroke="#b8892e" stroke-width="2.7"/>
<line x1="912.0" y1="271.2" x2="911.8" y2="271.4" stroke="#b8892e" stroke-width="2.7"/>
<line x1="896.6" y1="201.9" x2="886.8" y2="191.9" stroke="#e58ae5" stroke-width="2.7"/>
<line x1="820.9" y1="159.6" x2="812.3" y2="155.5" stroke="#e58ae5" stroke-width="2.7"/>
<line x1="898.6" y1="311.1" x2="891.3" y2="303.0" stroke="#e58ae5" stroke-width="2.7"/>
<line x1="834.4" y1="178.0" x2="836.4" y2="188.5" stroke="#e58ae5" stroke-width="2.7"/>
<circle cx="812.2" cy="226.3" r="4.4" fill="url(#gob)"/>
<line x1="880.1" y1="127.5" x2="882.0" y2="120.6" stroke="#e58ae5" stroke-width="2.7"/>
<circle cx="931.2" cy="299.6" r="4.4" fill="url(#gob)"/>
<line x1="889.4" y1="136.6" x2="883.1" y2="136.3" stroke="#7a7a7a" stroke-width="1.0"/>
<circle cx="839.2" cy="263.1" r="4.4" fill="url(#gob)"/>
<line x1="896.7" y1="179.3" x2="886.9" y2="188.3" stroke="#e58ae5" stroke-width="2.7"/>
<line x1="903.9" y1="209.4" x2="896.6" y2="201.9" stroke="#b8892e" stroke-width="2.7"/>
<line x1="913.5" y1="136.9" x2="918.5" y2="136.2" stroke="#7a7a7a" stroke-width="1.0"/>
<line x1="898.7" y1="288.5" x2="891.1" y2="298.9" stroke="#e58ae5" stroke-width="2.7"/>
<circle cx="857.9" cy="153.2" r="4.4" fill="url(#gob)"/>
<line x1="895.8" y1="136.9" x2="889.4" y2="136.6" stroke="#7a7a7a" stroke-width="1.0"/>
<circle cx="884.9" cy="190.0" r="4.4" fill="url(#gob)"/>
<line x1="907.1" y1="162.6" x2="906.5" y2="159.9" stroke="#b8892e" stroke-width="2.7"/>
<line x1="913.7" y1="216.7" x2="921.8" y2="220.9" stroke="#b8892e" stroke-width="2.7"/>
<line x1="909.7" y1="329.8" x2="911.0" y2="336.0" stroke="#e58ae5" stroke-width="2.7"/>
<line x1="912.6" y1="173.2" x2="917.5" y2="178.6" stroke="#b8892e" stroke-width="2.7"/>
<line x1="902.2" y1="137.2" x2="895.8" y2="136.9" stroke="#7a7a7a" stroke-width="1.0"/>
<line x1="921.8" y1="220.9" x2="933.0" y2="226.8" stroke="#e58ae5" stroke-width="2.7"/>
<line x1="908.6" y1="137.6" x2="913.5" y2="136.9" stroke="#7a7a7a" stroke-width="1.0"/>
<g transform="translate(908.2,213.8)"><rect x="-2.50" y="-9.50" width="5.00" height="26.50" fill="#e63333"/><rect x="-1.10" y="-9.50" width="1.30" height="26.50" fill="#ff9a9a"/><polygon points="0,-17.00 5.00,-9.50 -5.00,-9.50" fill="#e63333"/></g>
<line x1="903.5" y1="217.7" x2="898.5" y2="222.0" stroke="#b8892e" stroke-width="2.7"/>
<line x1="903.9" y1="172.8" x2="896.7" y2="179.3" stroke="#b8892e" stroke-width="2.7"/>
<circle cx="908.2" cy="213.8" r="7.7" fill="url(#gmb)"/>
<line x1="908.6" y1="137.6" x2="902.2" y2="137.2" stroke="#7a7a7a" stroke-width="1.0"/>
<circle cx="810.0" cy="154.3" r="4.4" fill="url(#gob)"/>
<line x1="909.9" y1="207.9" x2="910.8" y2="204.4" stroke="#b8892e" stroke-width="2.7"/>
<circle cx="889.5" cy="301.1" r="4.4" fill="url(#gob)"/>
<circle cx="836.9" cy="191.1" r="4.4" fill="url(#gob)"/>
<circle cx="935.3" cy="228.0" r="4.4" fill="url(#gob)"/>
<circle cx="882.7" cy="118.1" r="4.4" fill="url(#gob)"/>
<line x1="914.1" y1="166.1" x2="921.4" y2="162.8" stroke="#b8892e" stroke-width="2.7"/>
<g transform="translate(908.4,168.6)"><rect x="-2.50" y="-17.00" width="5.00" height="26.50" fill="#3340dc"/><rect x="-1.10" y="-17.00" width="1.30" height="26.50" fill="#8c9cff"/><polygon points="0,17.00 5.00,9.50 -5.00,9.50" fill="#3340dc"/></g>
<line x1="911.8" y1="271.4" x2="913.9" y2="268.9" stroke="#e58ae5" stroke-width="2.7"/>
<circle cx="908.4" cy="168.6" r="7.7" fill="url(#gmb)"/>
<line x1="902.9" y1="166.0" x2="897.4" y2="163.4" stroke="#b8892e" stroke-width="2.7"/>
<line x1="909.6" y1="174.7" x2="910.9" y2="181.8" stroke="#b8892e" stroke-width="2.7"/>
<circle cx="911.6" cy="338.6" r="4.4" fill="url(#gob)"/>
<line x1="898.5" y1="222.0" x2="890.7" y2="228.4" stroke="#e58ae5" stroke-width="2.7"/>
<line x1="921.4" y1="162.8" x2="932.0" y2="158.1" stroke="#e58ae5" stroke-width="2.7"/>
<line x1="910.8" y1="204.4" x2="912.7" y2="197.5" stroke="#e58ae5" stroke-width="2.7"/>
<line x1="897.4" y1="163.4" x2="888.8" y2="159.3" stroke="#e58ae5" stroke-width="2.7"/>
<line x1="910.9" y1="181.8" x2="912.9" y2="192.4" stroke="#e58ae5" stroke-width="2.7"/>
<circle cx="888.7" cy="230.1" r="4.4" fill="url(#gob)"/>
<circle cx="915.7" cy="266.9" r="4.4" fill="url(#gob)"/>
<circle cx="934.4" cy="157.1" r="4.4" fill="url(#gob)"/>
<circle cx="886.4" cy="158.2" r="4.4" fill="url(#gob)"/>
<circle cx="913.4" cy="195.0" r="4.4" fill="url(#gob)"/></g>
<g clip-path="url(#clipb2)"><line x1="1204.8" y1="428.3" x2="1204.8" y2="410.5" stroke="#7a7a7a" stroke-width="1.0"/>
<line x1="1204.8" y1="410.5" x2="1204.8" y2="392.7" stroke="#7a7a7a" stroke-width="1.0"/>
<line x1="1204.8" y1="392.7" x2="1204.8" y2="374.9" stroke="#7a7a7a" stroke-width="1.0"/>
<line x1="1204.8" y1="374.9" x2="1204.7" y2="357.1" stroke="#7a7a7a" stroke-width="1.0"/>
<line x1="1204.7" y1="357.1" x2="1204.7" y2="339.3" stroke="#7a7a7a" stroke-width="1.0"/>
<line x1="1204.7" y1="339.3" x2="1204.7" y2="321.6" stroke="#7a7a7a" stroke-width="1.0"/>
<line x1="1204.7" y1="321.6" x2="1204.7" y2="303.8" stroke="#7a7a7a" stroke-width="1.0"/>
<line x1="1204.7" y1="303.8" x2="1204.7" y2="286.0" stroke="#7a7a7a" stroke-width="1.0"/>
<line x1="1280.4" y1="433.4" x2="1280.4" y2="415.6" stroke="#7a7a7a" stroke-width="1.0"/>
<circle cx="1226.3" cy="407.7" r="4.3" fill="url(#goc)"/>
<circle cx="1199.5" cy="370.6" r="4.3" fill="url(#goc)"/>
<line x1="1215.6" y1="402.5" x2="1224.0" y2="406.6" stroke="#e58ae5" stroke-width="2.7"/>
<line x1="1202.2" y1="384.0" x2="1200.0" y2="373.1" stroke="#e58ae5" stroke-width="2.7"/>
<line x1="1204.7" y1="286.0" x2="1204.7" y2="268.2" stroke="#7a7a7a" stroke-width="1.0"/>
<line x1="1202.1" y1="361.5" x2="1200.2" y2="368.1" stroke="#e58ae5" stroke-width="2.7"/>
<line x1="1280.4" y1="415.6" x2="1280.3" y2="397.9" stroke="#7a7a7a" stroke-width="1.0"/>
<line x1="1211.1" y1="428.7" x2="1204.8" y2="428.3" stroke="#7a7a7a" stroke-width="1.0"/>
<line x1="1199.9" y1="429.0" x2="1204.8" y2="428.3" stroke="#7a7a7a" stroke-width="1.0"/>
<line x1="1204.7" y1="268.2" x2="1204.6" y2="250.4" stroke="#7a7a7a" stroke-width="1.0"/>
<line x1="1192.0" y1="402.9" x2="1181.5" y2="407.4" stroke="#e58ae5" stroke-width="2.7"/>
<line x1="1217.4" y1="429.1" x2="1211.1" y2="428.7" stroke="#7a7a7a" stroke-width="1.0"/>
<line x1="1280.3" y1="397.9" x2="1280.3" y2="380.1" stroke="#7a7a7a" stroke-width="1.0"/>
<circle cx="1179.1" cy="408.4" r="4.3" fill="url(#goc)"/>
<line x1="1223.7" y1="429.6" x2="1217.4" y2="429.1" stroke="#7a7a7a" stroke-width="1.0"/>
<line x1="1204.6" y1="250.4" x2="1204.6" y2="232.6" stroke="#7a7a7a" stroke-width="1.0"/>
<line x1="1280.3" y1="380.1" x2="1280.3" y2="362.3" stroke="#7a7a7a" stroke-width="1.0"/>
<line x1="1195.1" y1="429.7" x2="1199.9" y2="429.0" stroke="#7a7a7a" stroke-width="1.0"/>
<line x1="1230.0" y1="430.0" x2="1223.7" y2="429.6" stroke="#7a7a7a" stroke-width="1.0"/>
<line x1="1210.3" y1="400.0" x2="1215.6" y2="402.5" stroke="#b8892e" stroke-width="2.7"/>
<line x1="1203.6" y1="391.4" x2="1202.2" y2="384.0" stroke="#b8892e" stroke-width="2.7"/>
<line x1="1214.2" y1="344.2" x2="1221.8" y2="337.7" stroke="#e58ae5" stroke-width="2.7"/>
<circle cx="1223.7" cy="336.0" r="4.3" fill="url(#goc)"/>
<circle cx="1196.9" cy="298.9" r="4.3" fill="url(#goc)"/>
<line x1="1204.6" y1="232.6" x2="1204.6" y2="214.8" stroke="#7a7a7a" stroke-width="1.0"/>
<line x1="1236.3" y1="430.4" x2="1230.0" y2="430.0" stroke="#7a7a7a" stroke-width="1.0"/>
<line x1="1199.2" y1="399.8" x2="1192.0" y2="402.9" stroke="#b8892e" stroke-width="2.7"/>
<line x1="1280.3" y1="362.3" x2="1280.3" y2="344.5" stroke="#7a7a7a" stroke-width="1.0"/>
<line x1="1200.8" y1="294.8" x2="1198.7" y2="297.1" stroke="#e58ae5" stroke-width="2.7"/>
<line x1="1242.6" y1="430.8" x2="1236.3" y2="430.4" stroke="#7a7a7a" stroke-width="1.0"/>
<line x1="1190.2" y1="430.5" x2="1195.1" y2="429.7" stroke="#7a7a7a" stroke-width="1.0"/>
<line x1="1248.9" y1="431.3" x2="1242.6" y2="430.8" stroke="#7a7a7a" stroke-width="1.0"/>
<line x1="1280.3" y1="344.5" x2="1280.3" y2="326.7" stroke="#7a7a7a" stroke-width="1.0"/>
<line x1="1203.1" y1="358.3" x2="1202.1" y2="361.5" stroke="#b8892e" stroke-width="2.7"/>
<line x1="1255.2" y1="431.7" x2="1248.9" y2="431.3" stroke="#7a7a7a" stroke-width="1.0"/>
<line x1="1209.3" y1="393.3" x2="1216.3" y2="386.9" stroke="#b8892e" stroke-width="2.7"/>
<line x1="1185.3" y1="431.2" x2="1190.2" y2="430.5" stroke="#7a7a7a" stroke-width="1.0"/>
<line x1="1209.3" y1="348.5" x2="1214.2" y2="344.2" stroke="#b8892e" stroke-width="2.7"/>
<g transform="translate(1204.8,397.4) rotate(-16.0)"><rect x="-2.50" y="-17.00" width="5.00" height="26.50" fill="#3340dc"/><rect x="-1.10" y="-17.00" width="1.30" height="26.50" fill="#8c9cff"/><polygon points="0,17.00 5.00,9.50 -5.00,9.50" fill="#3340dc"/></g>
<line x1="1280.3" y1="326.7" x2="1280.3" y2="308.9" stroke="#7a7a7a" stroke-width="1.0"/>
<circle cx="1204.8" cy="397.4" r="7.6" fill="url(#gmc)"/>
<line x1="1261.5" y1="432.1" x2="1255.2" y2="431.7" stroke="#7a7a7a" stroke-width="1.0"/>
<line x1="1200.7" y1="392.9" x2="1195.8" y2="387.5" stroke="#b8892e" stroke-width="2.7"/>
<line x1="1191.3" y1="345.2" x2="1180.2" y2="339.1" stroke="#e58ae5" stroke-width="2.7"/>
<circle cx="1230.5" cy="448.2" r="4.3" fill="url(#goc)"/>
<line x1="1206.1" y1="403.3" x2="1206.8" y2="406.4" stroke="#b8892e" stroke-width="2.7"/>
<line x1="1267.8" y1="432.6" x2="1261.5" y2="432.1" stroke="#7a7a7a" stroke-width="1.0"/>
<line x1="1199.4" y1="349.5" x2="1191.3" y2="345.2" stroke="#b8892e" stroke-width="2.7"/>
<line x1="1280.3" y1="308.9" x2="1280.2" y2="291.1" stroke="#7a7a7a" stroke-width="1.0"/>
<circle cx="1200.5" cy="227.7" r="4.3" fill="url(#goc)"/>
<line x1="1180.4" y1="432.0" x2="1185.3" y2="431.2" stroke="#7a7a7a" stroke-width="1.0"/>
<line x1="1233.1" y1="439.1" x2="1231.2" y2="445.7" stroke="#e58ae5" stroke-width="2.7"/>
<line x1="1216.3" y1="386.9" x2="1226.0" y2="378.2" stroke="#e58ae5" stroke-width="2.7"/>
<line x1="1274.1" y1="433.0" x2="1267.8" y2="432.6" stroke="#7a7a7a" stroke-width="1.0"/>
<circle cx="1177.9" cy="337.9" r="4.3" fill="url(#goc)"/>
<line x1="1209.0" y1="356.8" x2="1216.3" y2="364.5" stroke="#b8892e" stroke-width="2.7"/>
<circle cx="1301.9" cy="412.8" r="4.3" fill="url(#goc)"/>
<circle cx="1275.1" cy="375.8" r="4.3" fill="url(#goc)"/>
<line x1="1291.1" y1="407.7" x2="1299.6" y2="411.7" stroke="#e58ae5" stroke-width="2.7"/>
<line x1="1277.7" y1="389.2" x2="1275.6" y2="378.3" stroke="#e58ae5" stroke-width="2.7"/>
<line x1="1202.6" y1="236.7" x2="1201.1" y2="230.2" stroke="#e58ae5" stroke-width="2.7"/>
<line x1="1213.6" y1="278.1" x2="1221.1" y2="267.6" stroke="#e58ae5" stroke-width="2.7"/>
<line x1="1216.3" y1="364.5" x2="1226.1" y2="374.6" stroke="#e58ae5" stroke-width="2.7"/>
<line x1="1280.4" y1="433.4" x2="1274.1" y2="433.0" stroke="#7a7a7a" stroke-width="1.0"/>
<line x1="1280.2" y1="291.1" x2="1280.2" y2="273.4" stroke="#7a7a7a" stroke-width="1.0"/>
<line x1="1277.7" y1="366.7" x2="1275.8" y2="373.3" stroke="#e58ae5" stroke-width="2.7"/>
<line x1="1201.2" y1="357.4" x2="1195.8" y2="365.0" stroke="#b8892e" stroke-width="2.7"/>
<circle cx="1222.5" cy="265.5" r="4.3" fill="url(#goc)"/>
<g transform="translate(1204.7,352.4) rotate(14.0)"><rect x="-2.50" y="-9.50" width="5.00" height="26.50" fill="#e63333"/><rect x="-1.10" y="-9.50" width="1.30" height="26.50" fill="#ff9a9a"/><polygon points="0,-17.00 5.00,-9.50 -5.00,-9.50" fill="#e63333"/></g>
<line x1="1175.6" y1="432.7" x2="1180.4" y2="432.0" stroke="#7a7a7a" stroke-width="1.0"/>
<line x1="1200.5" y1="295.1" x2="1200.8" y2="294.8" stroke="#b8892e" stroke-width="2.7"/>
<line x1="1213.6" y1="255.6" x2="1220.8" y2="263.6" stroke="#e58ae5" stroke-width="2.7"/>
<circle cx="1204.7" cy="352.4" r="7.6" fill="url(#gmc)"/>
<line x1="1275.5" y1="434.2" x2="1280.4" y2="433.4" stroke="#7a7a7a" stroke-width="1.0"/>
<line x1="1280.2" y1="273.4" x2="1280.2" y2="255.6" stroke="#7a7a7a" stroke-width="1.0"/>
<line x1="1146.3" y1="437.2" x2="1146.3" y2="419.4" stroke="#7a7a7a" stroke-width="1.0"/>
<line x1="1267.5" y1="408.0" x2="1257.1" y2="412.5" stroke="#e58ae5" stroke-width="2.7"/>
<line x1="1195.8" y1="387.5" x2="1188.6" y2="379.5" stroke="#e58ae5" stroke-width="2.7"/>
<line x1="1208.9" y1="348.0" x2="1208.6" y2="348.3" stroke="#b8892e" stroke-width="2.7"/>
<line x1="1245.2" y1="421.8" x2="1252.7" y2="415.2" stroke="#e58ae5" stroke-width="2.7"/>
<circle cx="1254.7" cy="413.5" r="4.3" fill="url(#goc)"/>
<circle cx="1227.9" cy="376.5" r="4.3" fill="url(#goc)"/>
<line x1="1208.2" y1="285.7" x2="1213.6" y2="278.1" stroke="#b8892e" stroke-width="2.7"/>
<line x1="1170.7" y1="433.5" x2="1175.6" y2="432.7" stroke="#7a7a7a" stroke-width="1.0"/>
<line x1="1193.1" y1="278.6" x2="1183.3" y2="268.5" stroke="#e58ae5" stroke-width="2.7"/>
<line x1="1280.2" y1="255.6" x2="1280.2" y2="237.8" stroke="#7a7a7a" stroke-width="1.0"/>
<line x1="1195.8" y1="365.0" x2="1188.4" y2="375.5" stroke="#e58ae5" stroke-width="2.7"/>
<line x1="1146.3" y1="419.4" x2="1146.3" y2="401.6" stroke="#7a7a7a" stroke-width="1.0"/>
<line x1="1270.6" y1="434.9" x2="1275.5" y2="434.2" stroke="#7a7a7a" stroke-width="1.0"/>
<line x1="1206.8" y1="406.4" x2="1208.3" y2="412.9" stroke="#e58ae5" stroke-width="2.7"/>
<line x1="1231.8" y1="372.4" x2="1229.6" y2="374.6" stroke="#e58ae5" stroke-width="2.7"/>
<line x1="1200.5" y1="286.3" x2="1193.1" y2="278.6" stroke="#b8892e" stroke-width="2.7"/>
<line x1="1285.8" y1="405.2" x2="1291.1" y2="407.7" stroke="#b8892e" stroke-width="2.7"/>
<line x1="1279.2" y1="396.6" x2="1277.7" y2="389.2" stroke="#b8892e" stroke-width="2.7"/>
<line x1="1289.8" y1="349.4" x2="1297.4" y2="342.8" stroke="#e58ae5" stroke-width="2.7"/>
<line x1="1193.1" y1="256.2" x2="1183.5" y2="264.9" stroke="#e58ae5" stroke-width="2.7"/>
<circle cx="1299.3" cy="341.1" r="4.3" fill="url(#goc)"/>
<circle cx="1272.5" cy="304.1" r="4.3" fill="url(#goc)"/>
<line x1="1280.2" y1="237.8" x2="1280.2" y2="220.0" stroke="#7a7a7a" stroke-width="1.0"/>
<line x1="1210.0" y1="293.6" x2="1218.1" y2="298.0" stroke="#b8892e" stroke-width="2.7"/>
<line x1="1274.8" y1="404.9" x2="1267.5" y2="408.0" stroke="#b8892e" stroke-width="2.7"/>
<line x1="1146.3" y1="401.6" x2="1146.3" y2="383.8" stroke="#7a7a7a" stroke-width="1.0"/>
<circle cx="1181.5" cy="266.6" r="4.3" fill="url(#goc)"/>
<line x1="1165.8" y1="434.2" x2="1170.7" y2="433.5" stroke="#7a7a7a" stroke-width="1.0"/>
<line x1="1203.3" y1="239.8" x2="1202.6" y2="236.7" stroke="#b8892e" stroke-width="2.7"/>
<line x1="1276.4" y1="300.0" x2="1274.2" y2="302.2" stroke="#e58ae5" stroke-width="2.7"/>
<line x1="1234.0" y1="435.8" x2="1233.1" y2="439.1" stroke="#b8892e" stroke-width="2.7"/>
<line x1="1218.1" y1="298.0" x2="1229.2" y2="304.0" stroke="#e58ae5" stroke-width="2.7"/>
<line x1="1208.7" y1="250.2" x2="1213.6" y2="255.6" stroke="#b8892e" stroke-width="2.7"/>
<line x1="1265.8" y1="435.6" x2="1270.6" y2="434.9" stroke="#7a7a7a" stroke-width="1.0"/>
<g transform="translate(1204.7,290.7) rotate(14.0)"><rect x="-2.50" y="-9.50" width="5.00" height="26.50" fill="#e63333"/><rect x="-1.10" y="-9.50" width="1.30" height="26.50" fill="#ff9a9a"/><polygon points="0,-17.00 5.00,-9.50 -5.00,-9.50" fill="#e63333"/></g>
<line x1="1200.1" y1="294.7" x2="1195.2" y2="298.9" stroke="#b8892e" stroke-width="2.7"/>
<line x1="1146.3" y1="383.8" x2="1146.3" y2="366.0" stroke="#7a7a7a" stroke-width="1.0"/>
<circle cx="1204.7" cy="290.7" r="7.6" fill="url(#gmc)"/>
<line x1="1240.3" y1="426.0" x2="1245.2" y2="421.8" stroke="#b8892e" stroke-width="2.7"/>
<line x1="1200.1" y1="249.8" x2="1193.1" y2="256.2" stroke="#b8892e" stroke-width="2.7"/>
<line x1="1278.6" y1="363.4" x2="1277.7" y2="366.7" stroke="#b8892e" stroke-width="2.7"/>
<circle cx="1186.9" cy="377.6" r="4.3" fill="url(#goc)"/>
<line x1="1161.0" y1="434.9" x2="1165.8" y2="434.2" stroke="#7a7a7a" stroke-width="1.0"/>
<line x1="1222.3" y1="422.7" x2="1211.2" y2="416.6" stroke="#e58ae5" stroke-width="2.7"/>
<line x1="1206.4" y1="284.8" x2="1207.3" y2="281.6" stroke="#b8892e" stroke-width="2.7"/>
<line x1="1188.9" y1="386.6" x2="1187.4" y2="380.1" stroke="#e58ae5" stroke-width="2.7"/>
<line x1="1284.8" y1="398.5" x2="1291.9" y2="392.1" stroke="#b8892e" stroke-width="2.7"/>
<line x1="1146.3" y1="366.0" x2="1146.3" y2="348.2" stroke="#7a7a7a" stroke-width="1.0"/>
<line x1="1260.9" y1="436.4" x2="1265.8" y2="435.6" stroke="#7a7a7a" stroke-width="1.0"/>
<line x1="1284.9" y1="353.6" x2="1289.8" y2="349.4" stroke="#b8892e" stroke-width="2.7"/>
<g transform="translate(1280.3,402.5) rotate(-16.0)"><rect x="-2.50" y="-17.00" width="5.00" height="26.50" fill="#3340dc"/><rect x="-1.10" y="-17.00" width="1.30" height="26.50" fill="#8c9cff"/><polygon points="0,17.00 5.00,9.50 -5.00,9.50" fill="#3340dc"/></g>
<line x1="1230.3" y1="427.1" x2="1222.3" y2="422.7" stroke="#b8892e" stroke-width="2.7"/>
<line x1="1210.9" y1="215.3" x2="1204.6" y2="214.8" stroke="#7a7a7a" stroke-width="1.0"/>
<circle cx="1231.5" cy="305.2" r="4.3" fill="url(#goc)"/>
<circle cx="1280.3" cy="402.5" r="7.6" fill="url(#gmc)"/>
<line x1="1276.3" y1="398.0" x2="1271.4" y2="392.7" stroke="#b8892e" stroke-width="2.7"/>
<line x1="1266.9" y1="350.3" x2="1255.8" y2="344.3" stroke="#e58ae5" stroke-width="2.7"/>
<line x1="1199.7" y1="215.6" x2="1204.6" y2="214.8" stroke="#7a7a7a" stroke-width="1.0"/>
<circle cx="1208.9" cy="415.4" r="4.3" fill="url(#goc)"/>
<line x1="1239.9" y1="434.4" x2="1247.3" y2="442.0" stroke="#b8892e" stroke-width="2.7"/>
<line x1="1208.6" y1="348.3" x2="1210.7" y2="346.0" stroke="#e58ae5" stroke-width="2.7"/>
<line x1="1233.5" y1="314.3" x2="1232.1" y2="307.8" stroke="#e58ae5" stroke-width="2.7"/>
<line x1="1199.9" y1="405.5" x2="1207.2" y2="413.5" stroke="#e58ae5" stroke-width="2.7"/>
<line x1="1281.7" y1="408.5" x2="1282.4" y2="411.6" stroke="#b8892e" stroke-width="2.7"/>
<line x1="1217.2" y1="215.7" x2="1210.9" y2="215.3" stroke="#7a7a7a" stroke-width="1.0"/>
<line x1="1156.1" y1="435.7" x2="1161.0" y2="434.9" stroke="#7a7a7a" stroke-width="1.0"/>
<line x1="1146.3" y1="348.2" x2="1146.2" y2="330.4" stroke="#7a7a7a" stroke-width="1.0"/>
<line x1="1210.2" y1="243.3" x2="1217.5" y2="240.2" stroke="#b8892e" stroke-width="2.7"/>
<line x1="1244.6" y1="355.6" x2="1252.0" y2="345.1" stroke="#e58ae5" stroke-width="2.7"/>
<line x1="1275.0" y1="354.7" x2="1266.9" y2="350.3" stroke="#b8892e" stroke-width="2.7"/>
<line x1="1247.3" y1="442.0" x2="1257.0" y2="452.2" stroke="#e58ae5" stroke-width="2.7"/>
<circle cx="1276.1" cy="232.9" r="4.3" fill="url(#goc)"/>
<line x1="1256.0" y1="437.1" x2="1260.9" y2="436.4" stroke="#7a7a7a" stroke-width="1.0"/>
<g transform="translate(1204.6,245.7) rotate(-16.0)"><rect x="-2.50" y="-17.00" width="5.00" height="26.50" fill="#3340dc"/><rect x="-1.10" y="-17.00" width="1.30" height="26.50" fill="#8c9cff"/><polygon points="0,17.00 5.00,9.50 -5.00,9.50" fill="#3340dc"/></g>
<line x1="1232.2" y1="434.9" x2="1226.8" y2="442.6" stroke="#b8892e" stroke-width="2.7"/>
<line x1="1223.5" y1="216.1" x2="1217.2" y2="215.7" stroke="#7a7a7a" stroke-width="1.0"/>
<line x1="1291.9" y1="392.1" x2="1301.5" y2="383.4" stroke="#e58ae5" stroke-width="2.7"/>
<circle cx="1204.6" cy="245.7" r="7.6" fill="url(#gmc)"/>
<line x1="1195.2" y1="298.9" x2="1187.6" y2="305.4" stroke="#e58ae5" stroke-width="2.7"/>
<line x1="1205.8" y1="251.7" x2="1207.3" y2="259.1" stroke="#b8892e" stroke-width="2.7"/>
<line x1="1199.2" y1="243.1" x2="1193.9" y2="240.6" stroke="#b8892e" stroke-width="2.7"/>
<circle cx="1253.5" cy="343.0" r="4.3" fill="url(#goc)"/>
<g transform="translate(1235.7,430.0) rotate(14.0)"><rect x="-2.50" y="-9.50" width="5.00" height="26.50" fill="#e63333"/><rect x="-1.10" y="-9.50" width="1.30" height="26.50" fill="#ff9a9a"/><polygon points="0,-17.00 5.00,-9.50 -5.00,-9.50" fill="#e63333"/></g>
<line x1="1284.5" y1="362.0" x2="1291.9" y2="369.6" stroke="#b8892e" stroke-width="2.7"/>
<line x1="1231.5" y1="372.7" x2="1231.8" y2="372.4" stroke="#b8892e" stroke-width="2.7"/>
<line x1="1278.2" y1="241.9" x2="1276.7" y2="235.4" stroke="#e58ae5" stroke-width="2.7"/>
<line x1="1244.5" y1="333.1" x2="1251.8" y2="341.1" stroke="#e58ae5" stroke-width="2.7"/>
<circle cx="1235.7" cy="430.0" r="7.6" fill="url(#gmc)"/>
<line x1="1146.2" y1="330.4" x2="1146.2" y2="312.7" stroke="#7a7a7a" stroke-width="1.0"/>
<line x1="1194.9" y1="216.3" x2="1199.7" y2="215.6" stroke="#7a7a7a" stroke-width="1.0"/>
<line x1="1229.8" y1="216.6" x2="1223.5" y2="216.1" stroke="#7a7a7a" stroke-width="1.0"/>
<line x1="1289.2" y1="283.2" x2="1296.6" y2="272.7" stroke="#e58ae5" stroke-width="2.7"/>
<line x1="1291.9" y1="369.6" x2="1301.6" y2="379.8" stroke="#e58ae5" stroke-width="2.7"/>
<line x1="1151.2" y1="436.4" x2="1156.1" y2="435.7" stroke="#7a7a7a" stroke-width="1.0"/>
<line x1="1276.8" y1="362.6" x2="1271.4" y2="370.2" stroke="#b8892e" stroke-width="2.7"/>
<circle cx="1298.1" cy="270.6" r="4.3" fill="url(#goc)"/>
<line x1="1239.8" y1="425.5" x2="1239.6" y2="425.8" stroke="#b8892e" stroke-width="2.7"/>
<g transform="translate(1280.3,357.6) rotate(14.0)"><rect x="-2.50" y="-9.50" width="5.00" height="26.50" fill="#e63333"/><rect x="-1.10" y="-9.50" width="1.30" height="26.50" fill="#ff9a9a"/><polygon points="0,-17.00 5.00,-9.50 -5.00,-9.50" fill="#e63333"/></g>
<line x1="1236.1" y1="217.0" x2="1229.8" y2="216.6" stroke="#7a7a7a" stroke-width="1.0"/>
<line x1="1251.1" y1="437.9" x2="1256.0" y2="437.1" stroke="#7a7a7a" stroke-width="1.0"/>
<line x1="1276.1" y1="300.3" x2="1276.4" y2="300.0" stroke="#b8892e" stroke-width="2.7"/>
<line x1="1289.2" y1="260.8" x2="1296.4" y2="268.7" stroke="#e58ae5" stroke-width="2.7"/>
<line x1="1179.4" y1="406.1" x2="1169.8" y2="414.8" stroke="#e58ae5" stroke-width="2.7"/>
<circle cx="1258.8" cy="454.0" r="4.3" fill="url(#goc)"/>
<circle cx="1280.3" cy="357.6" r="7.6" fill="url(#gmc)"/>
<line x1="1146.2" y1="312.7" x2="1146.2" y2="294.9" stroke="#7a7a7a" stroke-width="1.0"/>
<line x1="1239.1" y1="363.3" x2="1244.6" y2="355.6" stroke="#b8892e" stroke-width="2.7"/>
<line x1="1217.5" y1="240.2" x2="1227.9" y2="235.7" stroke="#e58ae5" stroke-width="2.7"/>
<line x1="1224.1" y1="356.2" x2="1214.3" y2="346.0" stroke="#e58ae5" stroke-width="2.7"/>
<line x1="1226.8" y1="442.6" x2="1219.3" y2="453.1" stroke="#e58ae5" stroke-width="2.7"/>
<line x1="1221.9" y1="442.3" x2="1221.9" y2="424.5" stroke="#7a7a7a" stroke-width="1.0"/>
<line x1="1242.4" y1="217.4" x2="1236.1" y2="217.0" stroke="#7a7a7a" stroke-width="1.0"/>
<line x1="1190.0" y1="217.1" x2="1194.9" y2="216.3" stroke="#7a7a7a" stroke-width="1.0"/>
<circle cx="1167.9" cy="416.6" r="4.3" fill="url(#goc)"/>
<circle cx="1141.1" cy="379.5" r="4.3" fill="url(#goc)"/>
<line x1="1157.1" y1="411.4" x2="1165.6" y2="415.4" stroke="#e58ae5" stroke-width="2.7"/>
<line x1="1143.7" y1="392.9" x2="1141.6" y2="382.0" stroke="#e58ae5" stroke-width="2.7"/>
<line x1="1189.6" y1="389.7" x2="1188.9" y2="386.6" stroke="#b8892e" stroke-width="2.7"/>
<line x1="1146.3" y1="437.2" x2="1151.2" y2="436.4" stroke="#7a7a7a" stroke-width="1.0"/>
<line x1="1271.4" y1="392.7" x2="1264.2" y2="384.7" stroke="#e58ae5" stroke-width="2.7"/>
<line x1="1284.5" y1="353.2" x2="1284.2" y2="353.5" stroke="#b8892e" stroke-width="2.7"/>
<line x1="1231.4" y1="363.8" x2="1224.1" y2="356.2" stroke="#b8892e" stroke-width="2.7"/>
<line x1="1224.0" y1="333.7" x2="1214.4" y2="342.4" stroke="#e58ae5" stroke-width="2.7"/>
<circle cx="1303.4" cy="381.6" r="4.3" fill="url(#goc)"/>
<line x1="1248.7" y1="217.9" x2="1242.4" y2="217.4" stroke="#7a7a7a" stroke-width="1.0"/>
<line x1="1195.1" y1="400.2" x2="1199.9" y2="405.5" stroke="#b8892e" stroke-width="2.7"/>
<line x1="1146.2" y1="294.9" x2="1146.2" y2="277.1" stroke="#7a7a7a" stroke-width="1.0"/>
<line x1="1283.8" y1="290.9" x2="1289.2" y2="283.2" stroke="#b8892e" stroke-width="2.7"/>
<line x1="1207.3" y1="281.6" x2="1209.2" y2="275.0" stroke="#e58ae5" stroke-width="2.7"/>
<line x1="1246.3" y1="438.6" x2="1251.1" y2="437.9" stroke="#7a7a7a" stroke-width="1.0"/>
<line x1="1143.7" y1="370.4" x2="1141.8" y2="377.0" stroke="#e58ae5" stroke-width="2.7"/>
<line x1="1268.7" y1="283.8" x2="1258.9" y2="273.6" stroke="#e58ae5" stroke-width="2.7"/>
<line x1="1241.0" y1="371.1" x2="1249.0" y2="375.5" stroke="#b8892e" stroke-width="2.7"/>
<line x1="1271.4" y1="370.2" x2="1263.9" y2="380.7" stroke="#e58ae5" stroke-width="2.7"/>
<line x1="1221.9" y1="424.5" x2="1221.9" y2="406.7" stroke="#7a7a7a" stroke-width="1.0"/>
<circle cx="1212.5" cy="344.2" r="4.3" fill="url(#goc)"/>
<circle cx="1185.7" cy="307.1" r="4.3" fill="url(#goc)"/>
<line x1="1201.7" y1="339.0" x2="1210.2" y2="343.1" stroke="#e58ae5" stroke-width="2.7"/>
<line x1="1188.3" y1="320.5" x2="1186.2" y2="309.7" stroke="#e58ae5" stroke-width="2.7"/>
<line x1="1255.0" y1="218.3" x2="1248.7" y2="217.9" stroke="#7a7a7a" stroke-width="1.0"/>
<line x1="1234.2" y1="317.3" x2="1233.5" y2="314.3" stroke="#b8892e" stroke-width="2.7"/>
<line x1="1152.6" y1="437.6" x2="1146.3" y2="437.2" stroke="#7a7a7a" stroke-width="1.0"/>
<line x1="1186.5" y1="399.7" x2="1179.4" y2="406.1" stroke="#b8892e" stroke-width="2.7"/>
<line x1="1282.4" y1="411.6" x2="1283.9" y2="418.1" stroke="#e58ae5" stroke-width="2.7"/>
<line x1="1207.3" y1="259.1" x2="1209.4" y2="270.0" stroke="#e58ae5" stroke-width="2.7"/>
<line x1="1193.9" y1="240.6" x2="1185.4" y2="236.6" stroke="#e58ae5" stroke-width="2.7"/>
<line x1="1276.0" y1="291.4" x2="1268.7" y2="283.8" stroke="#b8892e" stroke-width="2.7"/>
<line x1="1185.1" y1="217.8" x2="1190.0" y2="217.1" stroke="#7a7a7a" stroke-width="1.0"/>
<line x1="1268.7" y1="261.3" x2="1259.0" y2="270.0" stroke="#e58ae5" stroke-width="2.7"/>
<line x1="1249.0" y1="375.5" x2="1260.2" y2="381.6" stroke="#e58ae5" stroke-width="2.7"/>
<line x1="1239.7" y1="327.8" x2="1244.5" y2="333.1" stroke="#b8892e" stroke-width="2.7"/>
<line x1="1146.2" y1="277.1" x2="1146.2" y2="259.3" stroke="#7a7a7a" stroke-width="1.0"/>
<line x1="1133.5" y1="411.8" x2="1123.0" y2="416.3" stroke="#e58ae5" stroke-width="2.7"/>
<line x1="1261.3" y1="218.7" x2="1255.0" y2="218.3" stroke="#7a7a7a" stroke-width="1.0"/>
<line x1="1188.3" y1="298.0" x2="1186.4" y2="304.6" stroke="#e58ae5" stroke-width="2.7"/>
<g transform="translate(1235.6,368.2) rotate(14.0)"><rect x="-2.50" y="-9.50" width="5.00" height="26.50" fill="#e63333"/><rect x="-1.10" y="-9.50" width="1.30" height="26.50" fill="#ff9a9a"/><polygon points="0,-17.00 5.00,-9.50 -5.00,-9.50" fill="#e63333"/></g>
<line x1="1158.9" y1="438.0" x2="1152.6" y2="437.6" stroke="#7a7a7a" stroke-width="1.0"/>
<line x1="1285.6" y1="298.7" x2="1293.6" y2="303.1" stroke="#b8892e" stroke-width="2.7"/>
<line x1="1221.9" y1="406.7" x2="1221.9" y2="389.0" stroke="#7a7a7a" stroke-width="1.0"/>
<line x1="1231.0" y1="372.2" x2="1226.1" y2="376.4" stroke="#b8892e" stroke-width="2.7"/>
<circle cx="1235.6" cy="368.2" r="7.6" fill="url(#gmc)"/>
<circle cx="1257.1" cy="271.8" r="4.3" fill="url(#goc)"/>
<circle cx="1230.3" cy="234.7" r="4.3" fill="url(#goc)"/>
<line x1="1241.4" y1="439.4" x2="1246.3" y2="438.6" stroke="#7a7a7a" stroke-width="1.0"/>
<line x1="1246.3" y1="266.6" x2="1254.8" y2="270.7" stroke="#e58ae5" stroke-width="2.7"/>
<line x1="1232.9" y1="248.1" x2="1230.8" y2="237.3" stroke="#e58ae5" stroke-width="2.7"/>
<line x1="1278.9" y1="245.0" x2="1278.2" y2="241.9" stroke="#b8892e" stroke-width="2.7"/>
<line x1="1231.1" y1="327.3" x2="1224.0" y2="333.7" stroke="#b8892e" stroke-width="2.7"/>
<circle cx="1120.7" cy="417.3" r="4.3" fill="url(#goc)"/>
<circle cx="1217.8" cy="455.2" r="4.3" fill="url(#goc)"/>
<line x1="1267.6" y1="219.1" x2="1261.3" y2="218.7" stroke="#7a7a7a" stroke-width="1.0"/>
<line x1="1165.2" y1="438.4" x2="1158.9" y2="438.0" stroke="#7a7a7a" stroke-width="1.0"/>
<line x1="1293.6" y1="303.1" x2="1304.8" y2="309.2" stroke="#e58ae5" stroke-width="2.7"/>
<line x1="1284.3" y1="255.4" x2="1289.2" y2="260.8" stroke="#b8892e" stroke-width="2.7"/>
<line x1="1146.2" y1="259.3" x2="1146.2" y2="241.5" stroke="#7a7a7a" stroke-width="1.0"/>
<line x1="1237.3" y1="362.4" x2="1238.2" y2="359.1" stroke="#b8892e" stroke-width="2.7"/>
<line x1="1180.3" y1="218.5" x2="1185.1" y2="217.8" stroke="#7a7a7a" stroke-width="1.0"/>
<line x1="1178.1" y1="339.4" x2="1167.7" y2="343.9" stroke="#e58ae5" stroke-width="2.7"/>
<g transform="translate(1280.2,295.8) rotate(14.0)"><rect x="-2.50" y="-9.50" width="5.00" height="26.50" fill="#e63333"/><rect x="-1.10" y="-9.50" width="1.30" height="26.50" fill="#ff9a9a"/><polygon points="0,-17.00 5.00,-9.50 -5.00,-9.50" fill="#e63333"/></g>
<line x1="1275.6" y1="299.8" x2="1270.7" y2="304.1" stroke="#b8892e" stroke-width="2.7"/>
<line x1="1221.9" y1="389.0" x2="1221.8" y2="371.2" stroke="#7a7a7a" stroke-width="1.0"/>
<line x1="1273.9" y1="219.6" x2="1267.6" y2="219.1" stroke="#7a7a7a" stroke-width="1.0"/>
<circle cx="1280.2" cy="295.8" r="7.6" fill="url(#gmc)"/>
<line x1="1171.5" y1="438.9" x2="1165.2" y2="438.4" stroke="#7a7a7a" stroke-width="1.0"/>
<line x1="1196.6" y1="393.3" x2="1203.8" y2="390.2" stroke="#b8892e" stroke-width="2.7"/>
<line x1="1151.8" y1="408.9" x2="1157.1" y2="411.4" stroke="#b8892e" stroke-width="2.7"/>
<line x1="1145.1" y1="400.3" x2="1143.7" y2="392.9" stroke="#b8892e" stroke-width="2.7"/>
<line x1="1155.8" y1="353.1" x2="1163.3" y2="346.6" stroke="#e58ae5" stroke-width="2.7"/>
<line x1="1275.7" y1="255.0" x2="1268.7" y2="261.3" stroke="#b8892e" stroke-width="2.7"/>
<circle cx="1165.3" cy="344.9" r="4.3" fill="url(#goc)"/>
<circle cx="1138.5" cy="307.8" r="4.3" fill="url(#goc)"/>
<circle cx="1262.4" cy="382.8" r="4.3" fill="url(#goc)"/>
<g transform="translate(1191.0,395.7) rotate(-16.0)"><rect x="-2.50" y="-17.00" width="5.00" height="26.50" fill="#3340dc"/><rect x="-1.10" y="-17.00" width="1.30" height="26.50" fill="#8c9cff"/><polygon points="0,17.00 5.00,9.50 -5.00,9.50" fill="#3340dc"/></g>
<line x1="1236.5" y1="440.1" x2="1241.4" y2="439.4" stroke="#7a7a7a" stroke-width="1.0"/>
<line x1="1280.2" y1="220.0" x2="1273.9" y2="219.6" stroke="#7a7a7a" stroke-width="1.0"/>
<circle cx="1191.0" cy="395.7" r="7.6" fill="url(#gmc)"/>
<line x1="1192.2" y1="401.6" x2="1193.6" y2="409.0" stroke="#b8892e" stroke-width="2.7"/>
<line x1="1185.5" y1="393.0" x2="1180.2" y2="390.5" stroke="#b8892e" stroke-width="2.7"/>
<line x1="1146.2" y1="241.5" x2="1146.2" y2="223.7" stroke="#7a7a7a" stroke-width="1.0"/>
<line x1="1177.8" y1="439.3" x2="1171.5" y2="438.9" stroke="#7a7a7a" stroke-width="1.0"/>
<line x1="1140.7" y1="408.7" x2="1133.5" y2="411.8" stroke="#b8892e" stroke-width="2.7"/>
<line x1="1281.9" y1="290.0" x2="1282.8" y2="286.7" stroke="#b8892e" stroke-width="2.7"/>
<line x1="1239.6" y1="425.8" x2="1241.7" y2="423.6" stroke="#e58ae5" stroke-width="2.7"/>
<line x1="1222.7" y1="267.0" x2="1212.3" y2="271.5" stroke="#e58ae5" stroke-width="2.7"/>
<line x1="1221.8" y1="371.2" x2="1221.8" y2="353.4" stroke="#7a7a7a" stroke-width="1.0"/>
<line x1="1142.3" y1="303.7" x2="1140.2" y2="306.0" stroke="#e58ae5" stroke-width="2.7"/>
<line x1="1241.2" y1="320.9" x2="1248.4" y2="317.8" stroke="#b8892e" stroke-width="2.7"/>
<line x1="1175.4" y1="219.3" x2="1180.3" y2="218.5" stroke="#7a7a7a" stroke-width="1.0"/>
<line x1="1196.4" y1="336.5" x2="1201.7" y2="339.0" stroke="#b8892e" stroke-width="2.7"/>
<line x1="1189.8" y1="327.9" x2="1188.3" y2="320.5" stroke="#b8892e" stroke-width="2.7"/>
<line x1="1200.4" y1="280.7" x2="1207.9" y2="274.2" stroke="#e58ae5" stroke-width="2.7"/>
<circle cx="1209.9" cy="272.5" r="4.3" fill="url(#goc)"/>
<circle cx="1183.1" cy="235.5" r="4.3" fill="url(#goc)"/>
<line x1="1184.1" y1="439.7" x2="1177.8" y2="439.3" stroke="#7a7a7a" stroke-width="1.0"/>
<circle cx="1307.0" cy="310.4" r="4.3" fill="url(#goc)"/>
<g transform="translate(1235.6,323.3) rotate(-16.0)"><rect x="-2.50" y="-17.00" width="5.00" height="26.50" fill="#3340dc"/><rect x="-1.10" y="-17.00" width="1.30" height="26.50" fill="#8c9cff"/><polygon points="0,17.00 5.00,9.50 -5.00,9.50" fill="#3340dc"/></g>
<line x1="1275.3" y1="220.7" x2="1280.2" y2="220.0" stroke="#7a7a7a" stroke-width="1.0"/>
<circle cx="1235.6" cy="323.3" r="7.6" fill="url(#gmc)"/>
<line x1="1226.1" y1="376.4" x2="1218.6" y2="383.0" stroke="#e58ae5" stroke-width="2.7"/>
<line x1="1236.8" y1="329.2" x2="1238.2" y2="336.7" stroke="#b8892e" stroke-width="2.7"/>
<line x1="1230.1" y1="320.7" x2="1224.8" y2="318.1" stroke="#b8892e" stroke-width="2.7"/>
<circle cx="1284.4" cy="420.6" r="4.3" fill="url(#goc)"/>
<line x1="1185.3" y1="336.3" x2="1178.1" y2="339.4" stroke="#b8892e" stroke-width="2.7"/>
<line x1="1284.2" y1="353.5" x2="1286.3" y2="351.2" stroke="#e58ae5" stroke-width="2.7"/>
<line x1="1231.6" y1="440.8" x2="1236.5" y2="440.1" stroke="#7a7a7a" stroke-width="1.0"/>
<line x1="1190.4" y1="440.2" x2="1184.1" y2="439.7" stroke="#7a7a7a" stroke-width="1.0"/>
<line x1="1221.8" y1="353.4" x2="1221.8" y2="335.6" stroke="#7a7a7a" stroke-width="1.0"/>
<line x1="1203.8" y1="390.2" x2="1214.3" y2="385.7" stroke="#e58ae5" stroke-width="2.7"/>
<line x1="1186.9" y1="231.3" x2="1184.8" y2="233.6" stroke="#e58ae5" stroke-width="2.7"/>
<line x1="1144.6" y1="367.2" x2="1143.7" y2="370.4" stroke="#b8892e" stroke-width="2.7"/>
<line x1="1285.8" y1="248.5" x2="1293.0" y2="245.4" stroke="#b8892e" stroke-width="2.7"/>
<line x1="1241.0" y1="264.1" x2="1246.3" y2="266.6" stroke="#b8892e" stroke-width="2.7"/>
<line x1="1234.4" y1="255.5" x2="1232.9" y2="248.1" stroke="#b8892e" stroke-width="2.7"/>
<g transform="translate(1280.2,250.9) rotate(-16.0)"><rect x="-2.50" y="-17.00" width="5.00" height="26.50" fill="#3340dc"/><rect x="-1.10" y="-17.00" width="1.30" height="26.50" fill="#8c9cff"/><polygon points="0,17.00 5.00,9.50 -5.00,9.50" fill="#3340dc"/></g>
<line x1="1170.5" y1="220.0" x2="1175.4" y2="219.3" stroke="#7a7a7a" stroke-width="1.0"/>
<line x1="1196.7" y1="440.6" x2="1190.4" y2="440.2" stroke="#7a7a7a" stroke-width="1.0"/>
<line x1="1150.8" y1="402.2" x2="1157.9" y2="395.8" stroke="#b8892e" stroke-width="2.7"/>
<circle cx="1280.2" cy="250.9" r="7.6" fill="url(#gmc)"/>
<line x1="1270.7" y1="304.1" x2="1263.2" y2="310.6" stroke="#e58ae5" stroke-width="2.7"/>
<line x1="1281.4" y1="256.9" x2="1282.8" y2="264.3" stroke="#b8892e" stroke-width="2.7"/>
<line x1="1274.7" y1="248.3" x2="1269.4" y2="245.7" stroke="#b8892e" stroke-width="2.7"/>
<line x1="1229.9" y1="263.9" x2="1222.7" y2="267.0" stroke="#b8892e" stroke-width="2.7"/>
<line x1="1150.9" y1="357.4" x2="1155.8" y2="353.1" stroke="#b8892e" stroke-width="2.7"/>
<g transform="translate(1146.3,406.3) rotate(-16.0)"><rect x="-2.50" y="-17.00" width="5.00" height="26.50" fill="#3340dc"/><rect x="-1.10" y="-17.00" width="1.30" height="26.50" fill="#8c9cff"/><polygon points="0,17.00 5.00,9.50 -5.00,9.50" fill="#3340dc"/></g>
<line x1="1221.8" y1="335.6" x2="1221.8" y2="317.8" stroke="#7a7a7a" stroke-width="1.0"/>
<line x1="1270.4" y1="221.5" x2="1275.3" y2="220.7" stroke="#7a7a7a" stroke-width="1.0"/>
<line x1="1248.4" y1="317.8" x2="1258.9" y2="313.3" stroke="#e58ae5" stroke-width="2.7"/>
<line x1="1189.2" y1="294.8" x2="1188.3" y2="298.0" stroke="#b8892e" stroke-width="2.7"/>
<circle cx="1146.3" cy="406.3" r="7.6" fill="url(#gmc)"/>
<line x1="1203.0" y1="441.0" x2="1196.7" y2="440.6" stroke="#7a7a7a" stroke-width="1.0"/>
<line x1="1226.8" y1="441.6" x2="1231.6" y2="440.8" stroke="#7a7a7a" stroke-width="1.0"/>
<line x1="1142.2" y1="401.8" x2="1137.4" y2="396.4" stroke="#b8892e" stroke-width="2.7"/>
<line x1="1132.9" y1="354.0" x2="1121.7" y2="348.0" stroke="#e58ae5" stroke-width="2.7"/>
<line x1="1195.4" y1="329.8" x2="1202.5" y2="323.4" stroke="#b8892e" stroke-width="2.7"/>
<line x1="1147.7" y1="412.2" x2="1148.4" y2="415.3" stroke="#b8892e" stroke-width="2.7"/>
<line x1="1193.6" y1="409.0" x2="1195.7" y2="419.9" stroke="#e58ae5" stroke-width="2.7"/>
<line x1="1180.2" y1="390.5" x2="1171.7" y2="386.5" stroke="#e58ae5" stroke-width="2.7"/>
<line x1="1209.3" y1="441.5" x2="1203.0" y2="441.0" stroke="#7a7a7a" stroke-width="1.0"/>
<line x1="1195.5" y1="285.0" x2="1200.4" y2="280.7" stroke="#b8892e" stroke-width="2.7"/>
<line x1="1165.6" y1="220.8" x2="1170.5" y2="220.0" stroke="#7a7a7a" stroke-width="1.0"/>
<g transform="translate(1190.9,333.9) rotate(-16.0)"><rect x="-2.50" y="-17.00" width="5.00" height="26.50" fill="#3340dc"/><rect x="-1.10" y="-17.00" width="1.30" height="26.50" fill="#8c9cff"/><polygon points="0,17.00 5.00,9.50 -5.00,9.50" fill="#3340dc"/></g>
<line x1="1140.9" y1="358.4" x2="1132.9" y2="354.0" stroke="#b8892e" stroke-width="2.7"/>
<line x1="1221.8" y1="317.8" x2="1221.8" y2="300.0" stroke="#7a7a7a" stroke-width="1.0"/>
<line x1="1238.2" y1="359.1" x2="1240.1" y2="352.5" stroke="#e58ae5" stroke-width="2.7"/>
<line x1="1293.0" y1="245.4" x2="1303.5" y2="240.9" stroke="#e58ae5" stroke-width="2.7"/>
<circle cx="1142.1" cy="236.6" r="4.3" fill="url(#goc)"/>
<circle cx="1190.9" cy="333.9" r="7.6" fill="url(#gmc)"/>
<line x1="1186.8" y1="329.4" x2="1182.0" y2="324.0" stroke="#b8892e" stroke-width="2.7"/>
<line x1="1177.5" y1="281.7" x2="1166.3" y2="275.6" stroke="#e58ae5" stroke-width="2.7"/>
<line x1="1157.9" y1="395.8" x2="1167.5" y2="387.1" stroke="#e58ae5" stroke-width="2.7"/>
<line x1="1265.6" y1="222.2" x2="1270.4" y2="221.5" stroke="#7a7a7a" stroke-width="1.0"/>
<line x1="1215.6" y1="441.9" x2="1209.3" y2="441.5" stroke="#7a7a7a" stroke-width="1.0"/>
<circle cx="1119.5" cy="346.8" r="4.3" fill="url(#goc)"/>
<line x1="1150.5" y1="365.7" x2="1157.8" y2="373.4" stroke="#b8892e" stroke-width="2.7"/>
<circle cx="1243.4" cy="421.7" r="4.3" fill="url(#goc)"/>
<circle cx="1216.6" cy="384.7" r="4.3" fill="url(#goc)"/>
<line x1="1232.7" y1="416.6" x2="1241.1" y2="420.6" stroke="#e58ae5" stroke-width="2.7"/>
<line x1="1219.3" y1="398.0" x2="1217.1" y2="387.2" stroke="#e58ae5" stroke-width="2.7"/>
<line x1="1144.1" y1="245.6" x2="1142.6" y2="239.1" stroke="#e58ae5" stroke-width="2.7"/>
<line x1="1240.0" y1="257.4" x2="1247.1" y2="251.1" stroke="#b8892e" stroke-width="2.7"/>
<line x1="1192.3" y1="339.8" x2="1193.0" y2="342.9" stroke="#b8892e" stroke-width="2.7"/>
<line x1="1221.9" y1="442.3" x2="1226.8" y2="441.6" stroke="#7a7a7a" stroke-width="1.0"/>
<line x1="1238.2" y1="336.7" x2="1240.3" y2="347.5" stroke="#e58ae5" stroke-width="2.7"/>
<line x1="1224.8" y1="318.1" x2="1216.3" y2="314.1" stroke="#e58ae5" stroke-width="2.7"/>
<g transform="translate(1235.5,261.5) rotate(-16.0)"><rect x="-2.50" y="-17.00" width="5.00" height="26.50" fill="#3340dc"/><rect x="-1.10" y="-17.00" width="1.30" height="26.50" fill="#8c9cff"/><polygon points="0,17.00 5.00,9.50 -5.00,9.50" fill="#3340dc"/></g>
<line x1="1155.2" y1="287.0" x2="1162.6" y2="276.5" stroke="#e58ae5" stroke-width="2.7"/>
<line x1="1185.5" y1="286.0" x2="1177.5" y2="281.7" stroke="#b8892e" stroke-width="2.7"/>
<line x1="1157.8" y1="373.4" x2="1167.6" y2="383.5" stroke="#e58ae5" stroke-width="2.7"/>
<line x1="1221.9" y1="442.3" x2="1215.6" y2="441.9" stroke="#7a7a7a" stroke-width="1.0"/>
<line x1="1221.8" y1="300.0" x2="1221.8" y2="282.2" stroke="#7a7a7a" stroke-width="1.0"/>
<line x1="1282.8" y1="286.7" x2="1284.7" y2="280.1" stroke="#e58ae5" stroke-width="2.7"/>
<circle cx="1235.5" cy="261.5" r="7.6" fill="url(#gmc)"/>
<line x1="1219.2" y1="375.6" x2="1217.3" y2="382.2" stroke="#e58ae5" stroke-width="2.7"/>
<line x1="1142.8" y1="366.3" x2="1137.3" y2="373.9" stroke="#b8892e" stroke-width="2.7"/>
<line x1="1231.5" y1="257.0" x2="1226.6" y2="251.6" stroke="#b8892e" stroke-width="2.7"/>
<line x1="1160.8" y1="221.5" x2="1165.6" y2="220.8" stroke="#7a7a7a" stroke-width="1.0"/>
<line x1="1202.5" y1="323.4" x2="1212.1" y2="314.7" stroke="#e58ae5" stroke-width="2.7"/>
<circle cx="1164.1" cy="274.4" r="4.3" fill="url(#goc)"/>
<g transform="translate(1146.3,361.3) rotate(14.0)"><rect x="-2.50" y="-9.50" width="5.00" height="26.50" fill="#e63333"/><rect x="-1.10" y="-9.50" width="1.30" height="26.50" fill="#ff9a9a"/><polygon points="0,-17.00 5.00,-9.50 -5.00,-9.50" fill="#e63333"/></g>
<line x1="1195.1" y1="293.3" x2="1202.5" y2="301.0" stroke="#b8892e" stroke-width="2.7"/>
<circle cx="1288.1" cy="349.3" r="4.3" fill="url(#goc)"/>
<circle cx="1261.2" cy="312.3" r="4.3" fill="url(#goc)"/>
<line x1="1142.1" y1="304.0" x2="1142.3" y2="303.7" stroke="#b8892e" stroke-width="2.7"/>
<line x1="1155.1" y1="264.5" x2="1162.3" y2="272.5" stroke="#e58ae5" stroke-width="2.7"/>
<line x1="1236.9" y1="267.4" x2="1237.6" y2="270.5" stroke="#b8892e" stroke-width="2.7"/>
<line x1="1282.8" y1="264.3" x2="1285.0" y2="275.1" stroke="#e58ae5" stroke-width="2.7"/>
<line x1="1269.4" y1="245.7" x2="1261.0" y2="241.7" stroke="#e58ae5" stroke-width="2.7"/>
<circle cx="1146.3" cy="361.3" r="7.6" fill="url(#gmc)"/>
<line x1="1260.7" y1="223.0" x2="1265.6" y2="222.2" stroke="#7a7a7a" stroke-width="1.0"/>
<line x1="1199.8" y1="214.6" x2="1207.2" y2="204.1" stroke="#e58ae5" stroke-width="2.7"/>
<line x1="1202.5" y1="301.0" x2="1212.2" y2="311.1" stroke="#e58ae5" stroke-width="2.7"/>
<line x1="1221.8" y1="282.2" x2="1221.7" y2="264.5" stroke="#7a7a7a" stroke-width="1.0"/>
<line x1="1209.1" y1="416.9" x2="1198.6" y2="421.4" stroke="#e58ae5" stroke-width="2.7"/>
<line x1="1187.4" y1="293.9" x2="1182.0" y2="301.5" stroke="#b8892e" stroke-width="2.7"/>
<line x1="1247.1" y1="251.1" x2="1256.7" y2="242.3" stroke="#e58ae5" stroke-width="2.7"/>
<line x1="1137.4" y1="396.4" x2="1130.1" y2="388.4" stroke="#e58ae5" stroke-width="2.7"/>
<circle cx="1208.7" cy="202.0" r="4.3" fill="url(#goc)"/>
<line x1="1150.4" y1="356.9" x2="1150.2" y2="357.2" stroke="#b8892e" stroke-width="2.7"/>
<g transform="translate(1190.9,288.9) rotate(14.0)"><rect x="-2.50" y="-9.50" width="5.00" height="26.50" fill="#e63333"/><rect x="-1.10" y="-9.50" width="1.30" height="26.50" fill="#ff9a9a"/><polygon points="0,-17.00 5.00,-9.50 -5.00,-9.50" fill="#e63333"/></g>
<circle cx="1305.8" cy="239.9" r="4.3" fill="url(#goc)"/>
<line x1="1186.7" y1="231.6" x2="1186.9" y2="231.3" stroke="#b8892e" stroke-width="2.7"/>
<line x1="1155.9" y1="222.3" x2="1160.8" y2="221.5" stroke="#7a7a7a" stroke-width="1.0"/>
<circle cx="1196.2" cy="422.4" r="4.3" fill="url(#goc)"/>
<circle cx="1169.4" cy="385.4" r="4.3" fill="url(#goc)"/>
<circle cx="1190.9" cy="288.9" r="7.6" fill="url(#gmc)"/>
<line x1="1149.7" y1="294.6" x2="1155.2" y2="287.0" stroke="#b8892e" stroke-width="2.7"/>
<line x1="1134.7" y1="287.5" x2="1124.9" y2="277.4" stroke="#e58ae5" stroke-width="2.7"/>
<line x1="1221.7" y1="264.5" x2="1221.7" y2="246.7" stroke="#7a7a7a" stroke-width="1.0"/>
<line x1="1137.3" y1="373.9" x2="1129.9" y2="384.4" stroke="#e58ae5" stroke-width="2.7"/>
<line x1="1255.8" y1="223.7" x2="1260.7" y2="223.0" stroke="#7a7a7a" stroke-width="1.0"/>
<line x1="1182.0" y1="324.0" x2="1174.8" y2="316.0" stroke="#e58ae5" stroke-width="2.7"/>
<line x1="1148.4" y1="415.3" x2="1149.8" y2="421.8" stroke="#e58ae5" stroke-width="2.7"/>
<line x1="1195.0" y1="284.5" x2="1194.8" y2="284.8" stroke="#b8892e" stroke-width="2.7"/>
<line x1="1142.0" y1="295.2" x2="1134.7" y2="287.5" stroke="#b8892e" stroke-width="2.7"/>
<line x1="1227.4" y1="414.0" x2="1232.7" y2="416.6" stroke="#b8892e" stroke-width="2.7"/>
<line x1="1220.7" y1="405.5" x2="1219.3" y2="398.0" stroke="#b8892e" stroke-width="2.7"/>
<line x1="1231.3" y1="358.3" x2="1238.9" y2="351.7" stroke="#e58ae5" stroke-width="2.7"/>
<line x1="1134.6" y1="265.1" x2="1125.0" y2="273.8" stroke="#e58ae5" stroke-width="2.7"/>
<circle cx="1240.8" cy="350.0" r="4.3" fill="url(#goc)"/>
<circle cx="1214.0" cy="313.0" r="4.3" fill="url(#goc)"/>
<line x1="1194.3" y1="222.2" x2="1199.8" y2="214.6" stroke="#b8892e" stroke-width="2.7"/>
<line x1="1179.3" y1="215.2" x2="1169.5" y2="205.0" stroke="#e58ae5" stroke-width="2.7"/>
<line x1="1151.0" y1="223.0" x2="1155.9" y2="222.3" stroke="#7a7a7a" stroke-width="1.0"/>
<line x1="1221.7" y1="246.7" x2="1221.7" y2="228.9" stroke="#7a7a7a" stroke-width="1.0"/>
<line x1="1151.6" y1="302.5" x2="1159.6" y2="306.9" stroke="#b8892e" stroke-width="2.7"/>
<line x1="1182.0" y1="301.5" x2="1174.5" y2="312.0" stroke="#e58ae5" stroke-width="2.7"/>
<line x1="1216.3" y1="413.8" x2="1209.1" y2="416.9" stroke="#b8892e" stroke-width="2.7"/>
<circle cx="1123.1" cy="275.5" r="4.3" fill="url(#goc)"/>
<line x1="1144.8" y1="248.7" x2="1144.1" y2="245.6" stroke="#b8892e" stroke-width="2.7"/>
<line x1="1226.6" y1="251.6" x2="1219.4" y2="243.7" stroke="#e58ae5" stroke-width="2.7"/>
<line x1="1193.0" y1="342.9" x2="1194.5" y2="349.4" stroke="#e58ae5" stroke-width="2.7"/>
<line x1="1217.9" y1="308.9" x2="1215.8" y2="311.1" stroke="#e58ae5" stroke-width="2.7"/>
<line x1="1186.6" y1="222.8" x2="1179.3" y2="215.2" stroke="#b8892e" stroke-width="2.7"/>
<line x1="1250.9" y1="224.4" x2="1255.8" y2="223.7" stroke="#7a7a7a" stroke-width="1.0"/>
<circle cx="1285.5" cy="277.7" r="4.3" fill="url(#goc)"/>
<line x1="1159.6" y1="306.9" x2="1170.8" y2="312.9" stroke="#e58ae5" stroke-width="2.7"/>
<circle cx="1258.6" cy="240.6" r="4.3" fill="url(#goc)"/>
<line x1="1150.3" y1="259.1" x2="1155.1" y2="264.5" stroke="#b8892e" stroke-width="2.7"/>
<g transform="translate(1146.2,299.6) rotate(14.0)"><rect x="-2.50" y="-9.50" width="5.00" height="26.50" fill="#e63333"/><rect x="-1.10" y="-9.50" width="1.30" height="26.50" fill="#ff9a9a"/><polygon points="0,-17.00 5.00,-9.50 -5.00,-9.50" fill="#e63333"/></g>
<line x1="1196.2" y1="230.1" x2="1204.2" y2="234.5" stroke="#b8892e" stroke-width="2.7"/>
<line x1="1141.6" y1="303.5" x2="1136.7" y2="307.8" stroke="#b8892e" stroke-width="2.7"/>
<circle cx="1146.2" cy="299.6" r="7.6" fill="url(#gmc)"/>
<circle cx="1167.7" cy="203.1" r="4.3" fill="url(#goc)"/>
<line x1="1146.2" y1="223.7" x2="1151.0" y2="223.0" stroke="#7a7a7a" stroke-width="1.0"/>
<line x1="1141.7" y1="258.7" x2="1134.6" y2="265.1" stroke="#b8892e" stroke-width="2.7"/>
<line x1="1237.6" y1="270.5" x2="1239.1" y2="277.0" stroke="#e58ae5" stroke-width="2.7"/>
<line x1="1220.2" y1="372.3" x2="1219.2" y2="375.6" stroke="#b8892e" stroke-width="2.7"/>
<circle cx="1128.4" cy="386.5" r="4.3" fill="url(#goc)"/>
<line x1="1204.2" y1="234.5" x2="1215.4" y2="240.5" stroke="#e58ae5" stroke-width="2.7"/>
<line x1="1246.1" y1="225.2" x2="1250.9" y2="224.4" stroke="#7a7a7a" stroke-width="1.0"/>
<line x1="1147.9" y1="293.7" x2="1148.8" y2="290.5" stroke="#b8892e" stroke-width="2.7"/>
<line x1="1226.4" y1="407.4" x2="1233.4" y2="401.0" stroke="#b8892e" stroke-width="2.7"/>
<g transform="translate(1190.8,227.2) rotate(14.0)"><rect x="-2.50" y="-9.50" width="5.00" height="26.50" fill="#e63333"/><rect x="-1.10" y="-9.50" width="1.30" height="26.50" fill="#ff9a9a"/><polygon points="0,-17.00 5.00,-9.50 -5.00,-9.50" fill="#e63333"/></g>
<line x1="1186.2" y1="231.2" x2="1181.3" y2="235.4" stroke="#b8892e" stroke-width="2.7"/>
<circle cx="1190.8" cy="227.2" r="7.6" fill="url(#gmc)"/>
<line x1="1226.4" y1="362.5" x2="1231.3" y2="358.3" stroke="#b8892e" stroke-width="2.7"/>
<g transform="translate(1221.9,411.4) rotate(-16.0)"><rect x="-2.50" y="-17.00" width="5.00" height="26.50" fill="#3340dc"/><rect x="-1.10" y="-17.00" width="1.30" height="26.50" fill="#8c9cff"/><polygon points="0,17.00 5.00,9.50 -5.00,9.50" fill="#3340dc"/></g>
<line x1="1152.4" y1="224.2" x2="1146.2" y2="223.7" stroke="#7a7a7a" stroke-width="1.0"/>
<circle cx="1173.0" cy="314.1" r="4.3" fill="url(#goc)"/>
<circle cx="1221.9" cy="411.4" r="7.6" fill="url(#gmc)"/>
<line x1="1217.8" y1="406.9" x2="1212.9" y2="401.6" stroke="#b8892e" stroke-width="2.7"/>
<line x1="1208.4" y1="359.2" x2="1197.3" y2="353.1" stroke="#e58ae5" stroke-width="2.7"/>
<circle cx="1150.4" cy="424.3" r="4.3" fill="url(#goc)"/>
<line x1="1192.5" y1="221.3" x2="1193.4" y2="218.1" stroke="#b8892e" stroke-width="2.7"/>
<line x1="1150.2" y1="357.2" x2="1152.3" y2="354.9" stroke="#e58ae5" stroke-width="2.7"/>
<line x1="1223.2" y1="417.4" x2="1223.9" y2="420.4" stroke="#b8892e" stroke-width="2.7"/>
<line x1="1158.7" y1="224.6" x2="1152.4" y2="224.2" stroke="#7a7a7a" stroke-width="1.0"/>
<line x1="1241.2" y1="225.9" x2="1246.1" y2="225.2" stroke="#7a7a7a" stroke-width="1.0"/>
<line x1="1151.8" y1="252.2" x2="1159.0" y2="249.1" stroke="#b8892e" stroke-width="2.7"/>
<line x1="1216.5" y1="363.6" x2="1208.4" y2="359.2" stroke="#b8892e" stroke-width="2.7"/>
<circle cx="1217.6" cy="241.8" r="4.3" fill="url(#goc)"/>
<g transform="translate(1146.2,254.6) rotate(-16.0)"><rect x="-2.50" y="-17.00" width="5.00" height="26.50" fill="#3340dc"/><rect x="-1.10" y="-17.00" width="1.30" height="26.50" fill="#8c9cff"/><polygon points="0,17.00 5.00,9.50 -5.00,9.50" fill="#3340dc"/></g>
<line x1="1165.0" y1="225.0" x2="1158.7" y2="224.6" stroke="#7a7a7a" stroke-width="1.0"/>
<line x1="1233.4" y1="401.0" x2="1243.1" y2="392.3" stroke="#e58ae5" stroke-width="2.7"/>
<circle cx="1146.2" cy="254.6" r="7.6" fill="url(#gmc)"/>
<line x1="1136.7" y1="307.8" x2="1129.2" y2="314.3" stroke="#e58ae5" stroke-width="2.7"/>
<line x1="1147.3" y1="260.6" x2="1148.8" y2="268.0" stroke="#b8892e" stroke-width="2.7"/>
<line x1="1140.7" y1="252.0" x2="1135.4" y2="249.5" stroke="#b8892e" stroke-width="2.7"/>
<circle cx="1195.0" cy="351.9" r="4.3" fill="url(#goc)"/>
<line x1="1226.1" y1="370.9" x2="1233.4" y2="378.5" stroke="#b8892e" stroke-width="2.7"/>
<line x1="1194.8" y1="284.8" x2="1196.9" y2="282.6" stroke="#e58ae5" stroke-width="2.7"/>
<line x1="1219.7" y1="250.8" x2="1218.2" y2="244.3" stroke="#e58ae5" stroke-width="2.7"/>
<line x1="1171.3" y1="225.5" x2="1165.0" y2="225.0" stroke="#7a7a7a" stroke-width="1.0"/>
<line x1="1230.7" y1="292.1" x2="1238.2" y2="281.6" stroke="#e58ae5" stroke-width="2.7"/>
<line x1="1233.4" y1="378.5" x2="1243.2" y2="388.7" stroke="#e58ae5" stroke-width="2.7"/>
<line x1="1218.3" y1="371.4" x2="1212.9" y2="379.1" stroke="#b8892e" stroke-width="2.7"/>
<line x1="1236.3" y1="226.7" x2="1241.2" y2="225.9" stroke="#7a7a7a" stroke-width="1.0"/>
<line x1="1181.3" y1="235.4" x2="1173.8" y2="241.9" stroke="#e58ae5" stroke-width="2.7"/>
<circle cx="1239.6" cy="279.5" r="4.3" fill="url(#goc)"/>
<g transform="translate(1221.8,366.5) rotate(14.0)"><rect x="-2.50" y="-9.50" width="5.00" height="26.50" fill="#e63333"/><rect x="-1.10" y="-9.50" width="1.30" height="26.50" fill="#ff9a9a"/><polygon points="0,-17.00 5.00,-9.50 -5.00,-9.50" fill="#e63333"/></g>
<line x1="1177.6" y1="225.9" x2="1171.3" y2="225.5" stroke="#7a7a7a" stroke-width="1.0"/>
<line x1="1217.6" y1="309.2" x2="1217.9" y2="308.9" stroke="#b8892e" stroke-width="2.7"/>
<line x1="1230.7" y1="269.7" x2="1237.9" y2="277.6" stroke="#e58ae5" stroke-width="2.7"/>
<circle cx="1221.8" cy="366.5" r="7.6" fill="url(#gmc)"/>
<line x1="1159.0" y1="249.1" x2="1169.5" y2="244.6" stroke="#e58ae5" stroke-width="2.7"/>
<line x1="1183.9" y1="226.3" x2="1177.6" y2="225.9" stroke="#7a7a7a" stroke-width="1.0"/>
<line x1="1212.9" y1="401.6" x2="1205.7" y2="393.6" stroke="#e58ae5" stroke-width="2.7"/>
<line x1="1226.0" y1="362.1" x2="1225.7" y2="362.4" stroke="#b8892e" stroke-width="2.7"/>
<line x1="1231.5" y1="227.4" x2="1236.3" y2="226.7" stroke="#7a7a7a" stroke-width="1.0"/>
<circle cx="1245.0" cy="390.5" r="4.3" fill="url(#goc)"/>
<line x1="1190.2" y1="226.7" x2="1183.9" y2="226.3" stroke="#7a7a7a" stroke-width="1.0"/>
<line x1="1225.3" y1="299.8" x2="1230.7" y2="292.1" stroke="#b8892e" stroke-width="2.7"/>
<line x1="1148.8" y1="290.5" x2="1150.7" y2="283.9" stroke="#e58ae5" stroke-width="2.7"/>
<line x1="1210.2" y1="292.7" x2="1200.4" y2="282.5" stroke="#e58ae5" stroke-width="2.7"/>
<line x1="1212.9" y1="379.1" x2="1205.5" y2="389.6" stroke="#e58ae5" stroke-width="2.7"/>
<circle cx="1154.0" cy="353.1" r="4.3" fill="url(#goc)"/>
<circle cx="1127.2" cy="316.0" r="4.3" fill="url(#goc)"/>
<line x1="1196.5" y1="227.2" x2="1190.2" y2="226.7" stroke="#7a7a7a" stroke-width="1.0"/>
<line x1="1223.9" y1="420.4" x2="1225.4" y2="426.9" stroke="#e58ae5" stroke-width="2.7"/>
<line x1="1148.8" y1="268.0" x2="1150.9" y2="278.9" stroke="#e58ae5" stroke-width="2.7"/>
<line x1="1135.4" y1="249.5" x2="1126.9" y2="245.5" stroke="#e58ae5" stroke-width="2.7"/>
<line x1="1217.6" y1="300.3" x2="1210.2" y2="292.7" stroke="#b8892e" stroke-width="2.7"/>
<line x1="1210.2" y1="270.2" x2="1200.6" y2="278.9" stroke="#e58ae5" stroke-width="2.7"/>
<line x1="1193.4" y1="218.1" x2="1195.3" y2="211.5" stroke="#e58ae5" stroke-width="2.7"/>
<line x1="1202.8" y1="227.6" x2="1196.5" y2="227.2" stroke="#7a7a7a" stroke-width="1.0"/>
<line x1="1226.6" y1="228.2" x2="1231.5" y2="227.4" stroke="#7a7a7a" stroke-width="1.0"/>
<line x1="1227.1" y1="307.6" x2="1235.2" y2="312.0" stroke="#b8892e" stroke-width="2.7"/>
<circle cx="1198.6" cy="280.7" r="4.3" fill="url(#goc)"/>
<circle cx="1171.8" cy="243.6" r="4.3" fill="url(#goc)"/>
<line x1="1220.4" y1="253.8" x2="1219.7" y2="250.8" stroke="#b8892e" stroke-width="2.7"/>
<line x1="1209.1" y1="228.0" x2="1202.8" y2="227.6" stroke="#7a7a7a" stroke-width="1.0"/>
<line x1="1235.2" y1="312.0" x2="1246.3" y2="318.1" stroke="#e58ae5" stroke-width="2.7"/>
<line x1="1225.8" y1="264.3" x2="1230.7" y2="269.7" stroke="#b8892e" stroke-width="2.7"/>
<g transform="translate(1221.8,304.7) rotate(14.0)"><rect x="-2.50" y="-9.50" width="5.00" height="26.50" fill="#e63333"/><rect x="-1.10" y="-9.50" width="1.30" height="26.50" fill="#ff9a9a"/><polygon points="0,-17.00 5.00,-9.50 -5.00,-9.50" fill="#e63333"/></g>
<line x1="1217.2" y1="308.7" x2="1212.3" y2="312.9" stroke="#b8892e" stroke-width="2.7"/>
<line x1="1215.4" y1="228.5" x2="1209.1" y2="228.0" stroke="#7a7a7a" stroke-width="1.0"/>
<circle cx="1221.8" cy="304.7" r="7.6" fill="url(#gmc)"/>
<line x1="1221.7" y1="228.9" x2="1226.6" y2="228.2" stroke="#7a7a7a" stroke-width="1.0"/>
<line x1="1217.2" y1="263.9" x2="1210.2" y2="270.2" stroke="#b8892e" stroke-width="2.7"/>
<circle cx="1204.0" cy="391.7" r="4.3" fill="url(#goc)"/>
<line x1="1221.7" y1="228.9" x2="1215.4" y2="228.5" stroke="#7a7a7a" stroke-width="1.0"/>
<line x1="1223.5" y1="298.9" x2="1224.4" y2="295.6" stroke="#b8892e" stroke-width="2.7"/>
<circle cx="1151.4" cy="281.4" r="4.3" fill="url(#goc)"/>
<circle cx="1124.6" cy="244.3" r="4.3" fill="url(#goc)"/>
<circle cx="1248.6" cy="319.3" r="4.3" fill="url(#goc)"/>
<circle cx="1226.0" cy="429.5" r="4.3" fill="url(#goc)"/>
<line x1="1225.7" y1="362.4" x2="1227.8" y2="360.1" stroke="#e58ae5" stroke-width="2.7"/>
<line x1="1227.3" y1="257.4" x2="1234.6" y2="254.3" stroke="#b8892e" stroke-width="2.7"/>
<circle cx="1196.0" cy="209.0" r="4.3" fill="url(#goc)"/>
<g transform="translate(1221.7,259.8) rotate(-16.0)"><rect x="-2.50" y="-17.00" width="5.00" height="26.50" fill="#3340dc"/><rect x="-1.10" y="-17.00" width="1.30" height="26.50" fill="#8c9cff"/><polygon points="0,17.00 5.00,9.50 -5.00,9.50" fill="#3340dc"/></g>
<circle cx="1221.7" cy="259.8" r="7.6" fill="url(#gmc)"/>
<line x1="1212.3" y1="312.9" x2="1204.7" y2="319.5" stroke="#e58ae5" stroke-width="2.7"/>
<line x1="1222.9" y1="265.7" x2="1224.4" y2="273.2" stroke="#b8892e" stroke-width="2.7"/>
<line x1="1216.3" y1="257.2" x2="1211.0" y2="254.6" stroke="#b8892e" stroke-width="2.7"/>
<line x1="1234.6" y1="254.3" x2="1245.0" y2="249.8" stroke="#e58ae5" stroke-width="2.7"/>
<line x1="1224.4" y1="295.6" x2="1226.3" y2="289.0" stroke="#e58ae5" stroke-width="2.7"/>
<circle cx="1229.6" cy="358.2" r="4.3" fill="url(#goc)"/>
<circle cx="1202.8" cy="321.2" r="4.3" fill="url(#goc)"/>
<line x1="1224.4" y1="273.2" x2="1226.5" y2="284.0" stroke="#e58ae5" stroke-width="2.7"/>
<line x1="1211.0" y1="254.6" x2="1202.5" y2="250.6" stroke="#e58ae5" stroke-width="2.7"/>
<circle cx="1247.4" cy="248.8" r="4.3" fill="url(#goc)"/>
<circle cx="1227.0" cy="286.5" r="4.3" fill="url(#goc)"/>
<circle cx="1200.2" cy="249.5" r="4.3" fill="url(#goc)"/></g>
<clipPath id="clipb2"><rect x="775" y="33.5" width="535.4" height="429.6"/></clipPath>
<g font-family="'Liberation Sans', sans-serif">
<text x="380.6" y="238.6" font-size="40" fill="#dc8fdc">O</text>
<text x="381.2" y="291.2" font-size="38.5" fill="#1f7a4a">Cr</text>
<text x="997.6" y="191.6" font-size="40" fill="#a8812f">Fe</text>
<text x="1009.8" y="244.6" font-size="40" fill="#dc8fdc">O</text>
</g>
<defs><radialGradient id="gsph" cx="0.5" cy="0.5" r="0.5" fx="0.45" fy="0.4"><stop offset="0" stop-color="#ffffff"/><stop offset="0.5" stop-color="#d8d8d8"/><stop offset="1" stop-color="#9a9a9a"/></radialGradient></defs>
<line x1="307.5" y1="350.7" x2="307.2" y2="312.7" stroke="#1c1ce0" stroke-width="4.4"/>
<polygon points="307.2,295.7 313.95,312.7 300.45,312.7" fill="#1c1ce0"/>
<line x1="307.5" y1="350.7" x2="282.7" y2="353.7" stroke="#dd1d1d" stroke-width="4.4"/>
<polygon points="265.8,355.8 281.9,347.0 283.5,360.4" fill="#dd1d1d"/>
<line x1="307.5" y1="350.7" x2="343.1" y2="352.0" stroke="#25d825" stroke-width="4.4"/>
<polygon points="360.1,352.6 342.9,358.7 343.4,345.2" fill="#25d825"/>
<circle cx="307.5" cy="350.7" r="6.5" fill="url(#gsph)"/>
<line x1="1008.2" y1="447.1" x2="1008.2" y2="416" stroke="#1c1ce0" stroke-width="4.2"/>
<polygon points="1008.2,401 1013.8000000000001,416 1002.6,416" fill="#1c1ce0"/>
<line x1="1008.2" y1="447.1" x2="987.9" y2="450.1" stroke="#dd1d1d" stroke-width="4.2"/>
<polygon points="973.1,452.3 987.1,444.6 988.8,455.6" fill="#dd1d1d"/>
<line x1="1008.2" y1="447.1" x2="1038.1" y2="448.2" stroke="#25d825" stroke-width="4.2"/>
<polygon points="1053.1,448.7 1037.9,453.8 1038.3,442.6" fill="#25d825"/>
<circle cx="1008.2" cy="447.1" r="5.2" fill="url(#gsph)"/>
<g font-family="'Liberation Sans', sans-serif" fill="#111" stroke="#111" stroke-width="0.3">
<text x="301.2" y="281.8" font-size="25.5">c</text>
<text x="234.2" y="364" font-size="25.5">a</text>
<text x="376.2" y="365" font-size="25.5">b</text>
<text x="1003.8" y="396.8" font-size="19" font-weight="bold" fill="#222">c</text>
<text x="960.8" y="457.9" font-size="19" font-weight="bold" fill="#222">a</text>
<text x="1057" y="454.4" font-size="17" font-weight="bold" fill="#222">b</text>
</g>
<path d="M114.8,91.8 L118.4,289.0 L121.9,330.8 L126.5,351.6 L131.1,362.0 L134.2,366.1 L137.6,370.6 L140.9,374.5 L144.3,376.8 L147.7,379.0 L151.1,381.0 L154.5,382.8 L157.8,383.6 L161.2,384.2 L164.6,383.7 L168.0,383.0 L171.4,380.3 L174.7,375.9 L178.1,378.8 L181.5,389.0 L184.9,392.5 L188.3,395.7 L191.6,397.5 L195.0,399.1 L197.9,400.5 L202.6,401.3 L207.2,402.2 L211.8,403.0 L216.4,403.8 L221.0,404.7 L225.6,405.5 L230.2,406.4 L234.8,407.1 L239.4,407.5 L244.0,408.0 L248.7,408.4 L253.3,408.8 L257.9,409.2 L262.5,409.7 L267.1,410.1 L271.7,410.5 L276.3,410.8 L280.9,411.1 L285.5,411.4 L290.1,411.7 L294.8,412.1 L299.4,412.4 L304.0,412.7 L308.6,413.0 L313.2,413.3 L317.8,413.6 L322.4,413.9 L327.0,414.1 L331.6,414.4 L336.2,414.7 L340.9,415.0 L345.5,415.2 L350.1,415.5 L354.7,415.8 L359.3,416.0 L363.9,416.3 L368.5,416.5 L373.1,416.8 L377.7,417.0 L382.3,417.2 L387.0,417.4 L391.6,417.6 L396.2,417.8 L400.8,418.0 L405.4,418.2 L410.0,418.4 L414.6,418.6 L419.2,418.8 L423.8,418.8 L428.4,418.8 L433.0,418.8 L437.7,418.8 L442.3,418.8 L446.9,418.8 L451.5,418.8 L456.1,418.8 L460.7,418.8 L465.3,418.8 L469.9,418.9 L474.5,418.9 L479.1,418.9 L483.8,418.9 L488.4,418.9 L493.0,418.9 L497.6,418.9 L502.2,418.9 L506.8,418.9 L511.4,418.9 L516.0,418.9 L520.6,418.9 L525.2,418.9 L529.9,418.9 L534.5,418.9 L539.1,418.9 L543.7,418.9 L548.3,418.9 L552.9,418.9 L557.5,418.9 L562.1,418.9 L566.7,419.0 L571.3,419.0 L576.0,419.0 L580.6,419.0 L585.2,419.0 L589.8,419.0 L594.4,419.0 L599.0,419.0 L603.6,419.0 L608.2,419.0" fill="none" stroke="#e8161d" stroke-width="1.6"/>
<path d="M134.2,366.1 L137.6,370.6 L140.9,374.5 L144.3,376.8 L147.7,379.0 L151.1,381.0 L154.5,382.8 L157.8,383.6 L161.2,384.2 L164.6,383.7 L168.0,383.0 L171.4,380.3 L174.7,375.9 L178.1,378.8 L181.5,389.0 L184.9,392.5 L188.3,395.7 L191.6,397.5 L195.0,399.1 L197.9,400.5 L202.6,401.3 L207.2,402.2 L211.8,403.0 L216.4,403.8 L221.0,404.7 L225.6,405.5 L230.2,406.4 L234.8,407.1 L239.4,407.5 L244.0,408.0 L248.7,408.4 L253.3,408.8 L257.9,409.2 L262.5,409.7 L267.1,410.1 L271.7,410.5 L276.3,410.8 L280.9,411.1 L285.5,411.4 L290.1,411.7 L294.8,412.1 L299.4,412.4 L304.0,412.7 L308.6,413.0 L313.2,413.3 L317.8,413.6 L322.4,413.9 L327.0,414.1 L331.6,414.4 L336.2,414.7 L340.9,415.0 L345.5,415.2 L350.1,415.5 L354.7,415.8 L359.3,416.0 L363.9,416.3 L368.5,416.5 L373.1,416.8 L377.7,417.0 L382.3,417.2 L387.0,417.4 L391.6,417.6 L396.2,417.8 L400.8,418.0 L405.4,418.2 L410.0,418.4 L414.6,418.6 L419.2,418.8 L423.8,418.8 L428.4,418.8 L433.0,418.8 L437.7,418.8 L442.3,418.8 L446.9,418.8 L451.5,418.8 L456.1,418.8 L460.7,418.8 L465.3,418.8 L469.9,418.9 L474.5,418.9 L479.1,418.9 L483.8,418.9 L488.4,418.9 L493.0,418.9 L497.6,418.9 L502.2,418.9 L506.8,418.9 L511.4,418.9 L516.0,418.9 L520.6,418.9 L525.2,418.9 L529.9,418.9 L534.5,418.9 L539.1,418.9 L543.7,418.9 L548.3,418.9 L552.9,418.9 L557.5,418.9 L562.1,418.9 L566.7,419.0 L571.3,419.0 L576.0,419.0 L580.6,419.0 L585.2,419.0 L589.8,419.0 L594.4,419.0 L599.0,419.0 L603.6,419.0 L608.2,419.0" fill="none" stroke="#e8161d" stroke-width="9" stroke-linejoin="round"/>
<g fill="#e8161d"><rect x="110.2" y="87.2" width="9.2" height="9.2"/><rect x="113.8" y="284.4" width="9.2" height="9.2"/><rect x="117.3" y="326.2" width="9.2" height="9.2"/><rect x="121.9" y="347.0" width="9.2" height="9.2"/><rect x="126.5" y="357.4" width="9.2" height="9.2"/><rect x="129.6" y="360.9" width="9.2" height="9.2"/><rect x="133.0" y="364.7" width="9.2" height="9.2"/><rect x="136.3" y="370.5" width="9.2" height="9.2"/><rect x="139.7" y="370.7" width="9.2" height="9.2"/><rect x="143.1" y="374.6" width="9.2" height="9.2"/><rect x="146.5" y="375.9" width="9.2" height="9.2"/><rect x="149.9" y="376.6" width="9.2" height="9.2"/><rect x="153.2" y="379.0" width="9.2" height="9.2"/><rect x="156.6" y="378.0" width="9.2" height="9.2"/><rect x="160.0" y="378.9" width="9.2" height="9.2"/><rect x="163.4" y="376.8" width="9.2" height="9.2"/><rect x="166.8" y="374.2" width="9.2" height="9.2"/><rect x="170.1" y="371.0" width="9.2" height="9.2"/><rect x="173.5" y="375.4" width="9.2" height="9.2"/><rect x="176.9" y="383.0" width="9.2" height="9.2"/><rect x="180.3" y="386.9" width="9.2" height="9.2"/><rect x="183.7" y="391.6" width="9.2" height="9.2"/><rect x="187.0" y="394.5" width="9.2" height="9.2"/><rect x="190.4" y="394.8" width="9.2" height="9.2"/><rect x="193.3" y="395.5" width="9.2" height="9.2"/><rect x="198.0" y="398.5" width="9.2" height="9.2"/><rect x="202.6" y="395.9" width="9.2" height="9.2"/><rect x="207.2" y="399.7" width="9.2" height="9.2"/><rect x="211.8" y="398.5" width="9.2" height="9.2"/><rect x="216.4" y="398.8" width="9.2" height="9.2"/><rect x="221.0" y="399.5" width="9.2" height="9.2"/><rect x="225.6" y="401.1" width="9.2" height="9.2"/><rect x="230.2" y="403.6" width="9.2" height="9.2"/><rect x="234.8" y="401.8" width="9.2" height="9.2"/><rect x="239.4" y="403.6" width="9.2" height="9.2"/><rect x="244.1" y="404.3" width="9.2" height="9.2"/><rect x="248.7" y="403.7" width="9.2" height="9.2"/><rect x="253.3" y="404.8" width="9.2" height="9.2"/><rect x="257.9" y="403.5" width="9.2" height="9.2"/><rect x="262.5" y="403.9" width="9.2" height="9.2"/><rect x="267.1" y="404.8" width="9.2" height="9.2"/><rect x="271.7" y="406.8" width="9.2" height="9.2"/><rect x="276.3" y="406.2" width="9.2" height="9.2"/><rect x="280.9" y="406.2" width="9.2" height="9.2"/><rect x="285.5" y="407.5" width="9.2" height="9.2"/><rect x="290.2" y="407.3" width="9.2" height="9.2"/><rect x="294.8" y="407.1" width="9.2" height="9.2"/><rect x="299.4" y="409.2" width="9.2" height="9.2"/><rect x="304.0" y="409.1" width="9.2" height="9.2"/><rect x="308.6" y="407.8" width="9.2" height="9.2"/><rect x="313.2" y="409.2" width="9.2" height="9.2"/><rect x="317.8" y="409.3" width="9.2" height="9.2"/><rect x="322.4" y="410.9" width="9.2" height="9.2"/><rect x="327.0" y="410.7" width="9.2" height="9.2"/><rect x="331.6" y="409.3" width="9.2" height="9.2"/><rect x="336.3" y="412.1" width="9.2" height="9.2"/><rect x="340.9" y="409.3" width="9.2" height="9.2"/><rect x="345.5" y="410.6" width="9.2" height="9.2"/><rect x="350.1" y="412.1" width="9.2" height="9.2"/><rect x="354.7" y="410.2" width="9.2" height="9.2"/><rect x="359.3" y="411.6" width="9.2" height="9.2"/><rect x="363.9" y="410.3" width="9.2" height="9.2"/><rect x="368.5" y="412.8" width="9.2" height="9.2"/><rect x="373.1" y="413.4" width="9.2" height="9.2"/><rect x="377.7" y="412.9" width="9.2" height="9.2"/><rect x="382.4" y="414.2" width="9.2" height="9.2"/><rect x="387.0" y="412.3" width="9.2" height="9.2"/><rect x="391.6" y="413.9" width="9.2" height="9.2"/><rect x="396.2" y="413.7" width="9.2" height="9.2"/><rect x="400.8" y="413.9" width="9.2" height="9.2"/><rect x="405.4" y="413.6" width="9.2" height="9.2"/><rect x="410.0" y="415.2" width="9.2" height="9.2"/><rect x="414.6" y="415.8" width="9.2" height="9.2"/><rect x="419.2" y="414.1" width="9.2" height="9.2"/><rect x="423.8" y="414.8" width="9.2" height="9.2"/><rect x="428.4" y="412.6" width="9.2" height="9.2"/><rect x="433.1" y="414.9" width="9.2" height="9.2"/><rect x="437.7" y="414.8" width="9.2" height="9.2"/><rect x="442.3" y="416.0" width="9.2" height="9.2"/><rect x="446.9" y="415.4" width="9.2" height="9.2"/><rect x="451.5" y="413.5" width="9.2" height="9.2"/><rect x="456.1" y="413.8" width="9.2" height="9.2"/><rect x="460.7" y="414.9" width="9.2" height="9.2"/><rect x="465.3" y="412.5" width="9.2" height="9.2"/><rect x="469.9" y="414.1" width="9.2" height="9.2"/><rect x="474.5" y="413.1" width="9.2" height="9.2"/><rect x="479.2" y="412.9" width="9.2" height="9.2"/><rect x="483.8" y="412.7" width="9.2" height="9.2"/><rect x="488.4" y="415.2" width="9.2" height="9.2"/><rect x="493.0" y="412.9" width="9.2" height="9.2"/><rect x="497.6" y="413.4" width="9.2" height="9.2"/><rect x="502.2" y="413.9" width="9.2" height="9.2"/><rect x="506.8" y="415.6" width="9.2" height="9.2"/><rect x="511.4" y="412.8" width="9.2" height="9.2"/><rect x="516.0" y="414.1" width="9.2" height="9.2"/><rect x="520.6" y="414.5" width="9.2" height="9.2"/><rect x="525.3" y="415.7" width="9.2" height="9.2"/><rect x="529.9" y="415.5" width="9.2" height="9.2"/><rect x="534.5" y="415.6" width="9.2" height="9.2"/><rect x="539.1" y="413.5" width="9.2" height="9.2"/><rect x="543.7" y="414.0" width="9.2" height="9.2"/><rect x="548.3" y="413.8" width="9.2" height="9.2"/><rect x="552.9" y="415.7" width="9.2" height="9.2"/><rect x="557.5" y="416.0" width="9.2" height="9.2"/><rect x="562.1" y="413.1" width="9.2" height="9.2"/><rect x="566.7" y="413.2" width="9.2" height="9.2"/><rect x="571.4" y="413.4" width="9.2" height="9.2"/><rect x="576.0" y="413.4" width="9.2" height="9.2"/><rect x="580.6" y="414.3" width="9.2" height="9.2"/><rect x="585.2" y="414.7" width="9.2" height="9.2"/><rect x="589.8" y="413.5" width="9.2" height="9.2"/><rect x="594.4" y="412.6" width="9.2" height="9.2"/><rect x="599.0" y="414.1" width="9.2" height="9.2"/><rect x="603.6" y="413.9" width="9.2" height="9.2"/></g>
<path d="M115.6,79.4 L119.0,263.0 L124.2,310.9 L127.7,334.3 L132.3,348.1 L134.2,350.1 L137.6,353.9 L140.9,357.1 L144.3,359.1 L147.7,361.0 L151.1,362.7 L154.5,364.3 L157.8,365.1 L161.2,365.7 L164.6,365.2 L168.0,364.6 L171.4,364.1 L174.7,363.5 L178.1,362.7 L181.5,384.1 L184.9,389.2 L188.3,393.1 L191.6,395.1 L195.0,396.9 L197.9,398.5 L202.6,399.3 L207.2,400.2 L211.8,401.0 L216.4,401.8 L221.0,402.7 L225.6,403.5 L230.2,404.4 L234.8,405.1 L239.4,405.5 L244.0,406.0 L248.7,406.4 L253.3,406.8 L257.9,407.2 L262.5,407.7 L267.1,408.1 L271.7,408.4 L276.3,408.7 L280.9,409.0 L285.5,409.2 L290.1,409.5 L294.8,409.9 L299.4,410.3 L304.0,410.7 L308.6,411.0 L313.2,411.3 L317.8,411.6 L322.4,411.9 L327.0,412.1 L331.6,412.4 L336.2,412.7 L340.9,413.0 L345.5,413.2 L350.1,413.5 L354.7,413.8 L359.3,414.0 L363.9,414.3 L368.5,414.5 L373.1,414.8 L377.7,415.0 L382.3,415.2 L387.0,415.4 L391.6,415.6 L396.2,415.8 L400.8,416.0 L405.4,416.2 L410.0,416.4 L414.6,416.6 L419.2,416.8 L423.8,416.8 L428.4,416.8 L433.0,416.8 L437.7,416.8 L442.3,416.9 L446.9,416.9 L451.5,416.9 L456.1,416.9 L460.7,416.9 L465.3,416.9 L469.9,416.9 L474.5,416.9 L479.1,417.0 L483.8,417.0 L488.4,417.0 L493.0,417.0 L497.6,417.0 L502.2,417.0 L506.8,417.0 L511.4,417.0 L516.0,417.1 L520.6,417.1 L525.2,417.1 L529.9,417.1 L534.5,417.1 L539.1,417.1 L543.7,417.1 L548.3,417.1 L552.9,417.2 L557.5,417.2 L562.1,417.2 L566.7,417.2 L571.3,417.2 L576.0,417.2 L580.6,417.2 L585.2,417.2 L589.8,417.2 L594.4,417.3 L599.0,417.3 L603.6,417.3 L608.2,417.3" fill="none" stroke="#3a7fc1" stroke-width="1.6"/>
<path d="M134.2,350.1 L137.6,353.9 L140.9,357.1 L144.3,359.1 L147.7,361.0 L151.1,362.7 L154.5,364.3 L157.8,365.1 L161.2,365.7 L164.6,365.2 L168.0,364.6 L171.4,364.1 L174.7,363.5 L178.1,362.7 L181.5,384.1 L184.9,389.2 L188.3,393.1 L191.6,395.1 L195.0,396.9 L197.9,398.5 L202.6,399.3 L207.2,400.2 L211.8,401.0 L216.4,401.8 L221.0,402.7 L225.6,403.5 L230.2,404.4 L234.8,405.1 L239.4,405.5 L244.0,406.0 L248.7,406.4 L253.3,406.8 L257.9,407.2 L262.5,407.7 L267.1,408.1 L271.7,408.4 L276.3,408.7 L280.9,409.0 L285.5,409.2 L290.1,409.5 L294.8,409.9 L299.4,410.3 L304.0,410.7 L308.6,411.0 L313.2,411.3 L317.8,411.6 L322.4,411.9 L327.0,412.1 L331.6,412.4 L336.2,412.7 L340.9,413.0 L345.5,413.2 L350.1,413.5 L354.7,413.8 L359.3,414.0 L363.9,414.3 L368.5,414.5 L373.1,414.8 L377.7,415.0 L382.3,415.2 L387.0,415.4 L391.6,415.6 L396.2,415.8 L400.8,416.0 L405.4,416.2 L410.0,416.4 L414.6,416.6 L419.2,416.8 L423.8,416.8 L428.4,416.8 L433.0,416.8 L437.7,416.8 L442.3,416.9 L446.9,416.9 L451.5,416.9 L456.1,416.9 L460.7,416.9 L465.3,416.9 L469.9,416.9 L474.5,416.9 L479.1,417.0 L483.8,417.0 L488.4,417.0 L493.0,417.0 L497.6,417.0 L502.2,417.0 L506.8,417.0 L511.4,417.0 L516.0,417.1 L520.6,417.1 L525.2,417.1 L529.9,417.1 L534.5,417.1 L539.1,417.1 L543.7,417.1 L548.3,417.1 L552.9,417.2 L557.5,417.2 L562.1,417.2 L566.7,417.2 L571.3,417.2 L576.0,417.2 L580.6,417.2 L585.2,417.2 L589.8,417.2 L594.4,417.3 L599.0,417.3 L603.6,417.3 L608.2,417.3" fill="none" stroke="#3a7fc1" stroke-width="8" stroke-linejoin="round"/>
<g fill="#3a7fc1"><circle cx="115.6" cy="79.4" r="5.1"/><circle cx="119.0" cy="263.0" r="5.1"/><circle cx="124.2" cy="310.9" r="5.1"/><circle cx="127.7" cy="334.3" r="5.1"/><circle cx="132.3" cy="348.1" r="5.1"/><circle cx="134.2" cy="350.4" r="5.1"/><circle cx="137.6" cy="355.3" r="5.1"/><circle cx="140.9" cy="357.7" r="5.1"/><circle cx="144.3" cy="359.1" r="5.1"/><circle cx="147.7" cy="361.4" r="5.1"/><circle cx="151.1" cy="363.3" r="5.1"/><circle cx="154.5" cy="362.8" r="5.1"/><circle cx="157.8" cy="366.4" r="5.1"/><circle cx="161.2" cy="366.6" r="5.1"/><circle cx="164.6" cy="366.4" r="5.1"/><circle cx="168.0" cy="365.6" r="5.1"/><circle cx="171.4" cy="363.7" r="5.1"/><circle cx="174.7" cy="363.2" r="5.1"/><circle cx="178.1" cy="361.4" r="5.1"/><circle cx="181.5" cy="384.5" r="5.1"/><circle cx="184.9" cy="387.8" r="5.1"/><circle cx="188.3" cy="391.8" r="5.1"/><circle cx="191.6" cy="394.2" r="5.1"/><circle cx="195.0" cy="395.9" r="5.1"/><circle cx="197.9" cy="398.0" r="5.1"/><circle cx="202.6" cy="397.9" r="5.1"/><circle cx="207.2" cy="398.6" r="5.1"/><circle cx="211.8" cy="399.9" r="5.1"/><circle cx="216.4" cy="400.6" r="5.1"/><circle cx="221.0" cy="402.2" r="5.1"/><circle cx="225.6" cy="402.0" r="5.1"/><circle cx="230.2" cy="405.6" r="5.1"/><circle cx="234.8" cy="405.5" r="5.1"/><circle cx="239.4" cy="404.4" r="5.1"/><circle cx="244.0" cy="405.2" r="5.1"/><circle cx="248.7" cy="405.9" r="5.1"/><circle cx="253.3" cy="406.4" r="5.1"/><circle cx="257.9" cy="406.0" r="5.1"/><circle cx="262.5" cy="408.8" r="5.1"/><circle cx="267.1" cy="409.7" r="5.1"/><circle cx="271.7" cy="408.3" r="5.1"/><circle cx="276.3" cy="408.6" r="5.1"/><circle cx="280.9" cy="407.6" r="5.1"/><circle cx="285.5" cy="408.0" r="5.1"/><circle cx="290.1" cy="409.0" r="5.1"/><circle cx="294.8" cy="409.1" r="5.1"/><circle cx="299.4" cy="411.3" r="5.1"/><circle cx="304.0" cy="409.6" r="5.1"/><circle cx="308.6" cy="409.5" r="5.1"/><circle cx="313.2" cy="412.7" r="5.1"/><circle cx="317.8" cy="411.7" r="5.1"/><circle cx="322.4" cy="410.7" r="5.1"/><circle cx="327.0" cy="412.3" r="5.1"/><circle cx="331.6" cy="410.9" r="5.1"/><circle cx="336.2" cy="412.8" r="5.1"/><circle cx="340.9" cy="414.5" r="5.1"/><circle cx="345.5" cy="414.4" r="5.1"/><circle cx="350.1" cy="414.1" r="5.1"/><circle cx="354.7" cy="413.0" r="5.1"/><circle cx="359.3" cy="413.6" r="5.1"/><circle cx="363.9" cy="413.2" r="5.1"/><circle cx="368.5" cy="415.4" r="5.1"/><circle cx="373.1" cy="414.9" r="5.1"/><circle cx="377.7" cy="415.9" r="5.1"/><circle cx="382.3" cy="414.7" r="5.1"/><circle cx="387.0" cy="414.5" r="5.1"/><circle cx="391.6" cy="416.6" r="5.1"/><circle cx="396.2" cy="417.4" r="5.1"/><circle cx="400.8" cy="417.1" r="5.1"/><circle cx="405.4" cy="417.2" r="5.1"/><circle cx="410.0" cy="417.4" r="5.1"/><circle cx="414.6" cy="417.3" r="5.1"/><circle cx="419.2" cy="415.9" r="5.1"/><circle cx="423.8" cy="416.9" r="5.1"/><circle cx="428.4" cy="416.4" r="5.1"/><circle cx="433.0" cy="415.3" r="5.1"/><circle cx="437.7" cy="415.3" r="5.1"/><circle cx="442.3" cy="416.2" r="5.1"/><circle cx="446.9" cy="416.1" r="5.1"/><circle cx="451.5" cy="417.5" r="5.1"/><circle cx="456.1" cy="418.4" r="5.1"/><circle cx="460.7" cy="416.7" r="5.1"/><circle cx="465.3" cy="418.3" r="5.1"/><circle cx="469.9" cy="418.5" r="5.1"/><circle cx="474.5" cy="418.4" r="5.1"/><circle cx="479.1" cy="416.5" r="5.1"/><circle cx="483.8" cy="416.1" r="5.1"/><circle cx="488.4" cy="416.1" r="5.1"/><circle cx="493.0" cy="416.0" r="5.1"/><circle cx="497.6" cy="416.1" r="5.1"/><circle cx="502.2" cy="417.4" r="5.1"/><circle cx="506.8" cy="418.3" r="5.1"/><circle cx="511.4" cy="418.1" r="5.1"/><circle cx="516.0" cy="417.0" r="5.1"/><circle cx="520.6" cy="417.6" r="5.1"/><circle cx="525.2" cy="418.0" r="5.1"/><circle cx="529.9" cy="415.8" r="5.1"/><circle cx="534.5" cy="417.6" r="5.1"/><circle cx="539.1" cy="418.4" r="5.1"/><circle cx="543.7" cy="418.0" r="5.1"/><circle cx="548.3" cy="417.9" r="5.1"/><circle cx="552.9" cy="417.1" r="5.1"/><circle cx="557.5" cy="416.1" r="5.1"/><circle cx="562.1" cy="418.1" r="5.1"/><circle cx="566.7" cy="416.7" r="5.1"/><circle cx="571.3" cy="418.2" r="5.1"/><circle cx="576.0" cy="418.7" r="5.1"/><circle cx="580.6" cy="416.9" r="5.1"/><circle cx="585.2" cy="416.9" r="5.1"/><circle cx="589.8" cy="418.7" r="5.1"/><circle cx="594.4" cy="418.0" r="5.1"/><circle cx="599.0" cy="416.2" r="5.1"/><circle cx="603.6" cy="416.1" r="5.1"/><circle cx="608.2" cy="416.2" r="5.1"/></g>
<path d="M114.8,67.9 L119.9,249.5 L124.5,300.0 L128.8,323.0 L134.2,335.1 L137.6,342.1 L140.9,347.0 L144.3,351.0 L147.7,353.1 L151.1,354.7 L154.5,356.1 L157.8,357.3 L161.2,358.2 L164.6,358.8 L168.0,357.7 L171.4,356.5 L174.7,354.3 L178.1,352.6 L181.5,355.4 L184.9,368.1 L188.3,373.4 L191.6,377.8 L195.0,380.7 L197.9,382.7 L202.6,386.7 L207.2,389.3 L211.8,391.3 L216.4,393.1 L221.0,393.7 L225.6,394.4 L230.2,395.0 L234.8,395.6 L239.4,395.8 L244.0,396.1 L248.7,396.3 L253.3,396.6 L257.9,396.9 L262.5,397.1 L267.1,397.4 L271.7,397.7 L276.3,398.1 L280.9,398.6 L285.5,399.0 L290.1,399.4 L294.8,399.8 L299.4,400.3 L304.0,400.7 L308.6,400.9 L313.2,401.1 L317.8,401.3 L322.4,401.5 L327.0,401.7 L331.6,401.9 L336.2,402.1 L340.9,402.3 L345.5,402.4 L350.1,402.6 L354.7,402.8 L359.3,402.9 L363.9,403.1 L368.5,403.2 L373.1,403.4 L377.7,403.5 L382.3,403.7 L387.0,403.9 L391.6,404.1 L396.2,404.3 L400.8,404.4 L405.4,404.6 L410.0,404.8 L414.6,405.0 L419.2,405.2 L423.8,405.2 L428.4,405.2 L433.0,405.2 L437.7,405.2 L442.3,405.2 L446.9,405.2 L451.5,405.2 L456.1,405.2 L460.7,405.2 L465.3,405.2 L469.9,405.2 L474.5,405.2 L479.1,405.2 L483.8,405.2 L488.4,405.2 L493.0,405.2 L497.6,405.2 L502.2,405.2 L506.8,405.2 L511.4,405.2 L516.0,405.2 L520.6,405.2 L525.2,405.2 L529.9,405.2 L534.5,405.2 L539.1,405.2 L543.7,405.2 L548.3,405.2 L552.9,405.2 L557.5,405.2 L562.1,405.2 L566.7,405.2 L571.3,405.2 L576.0,405.2 L580.6,405.2 L585.2,405.2 L589.8,405.2 L594.4,405.2 L599.0,405.2 L603.6,405.2 L608.2,405.2" fill="none" stroke="#e8161d" stroke-width="1.6"/>
<g fill="#fff" stroke="#e8161d" stroke-width="2"><rect x="111.2" y="64.3" width="7.2" height="7.2"/><rect x="116.3" y="245.9" width="7.2" height="7.2"/><rect x="120.9" y="296.4" width="7.2" height="7.2"/><rect x="125.2" y="319.4" width="7.2" height="7.2"/><rect x="130.6" y="332.2" width="7.2" height="7.2"/><rect x="134.0" y="338.9" width="7.2" height="7.2"/><rect x="137.3" y="342.8" width="7.2" height="7.2"/><rect x="140.7" y="347.9" width="7.2" height="7.2"/><rect x="144.1" y="350.2" width="7.2" height="7.2"/><rect x="147.5" y="351.4" width="7.2" height="7.2"/><rect x="150.9" y="352.3" width="7.2" height="7.2"/><rect x="154.2" y="353.8" width="7.2" height="7.2"/><rect x="157.6" y="354.0" width="7.2" height="7.2"/><rect x="161.0" y="354.4" width="7.2" height="7.2"/><rect x="164.4" y="354.8" width="7.2" height="7.2"/><rect x="167.8" y="353.1" width="7.2" height="7.2"/><rect x="171.1" y="350.7" width="7.2" height="7.2"/><rect x="174.5" y="349.7" width="7.2" height="7.2"/><rect x="177.9" y="351.7" width="7.2" height="7.2"/><rect x="181.3" y="365.1" width="7.2" height="7.2"/><rect x="184.7" y="370.4" width="7.2" height="7.2"/><rect x="188.0" y="373.7" width="7.2" height="7.2"/><rect x="191.4" y="376.7" width="7.2" height="7.2"/><rect x="194.3" y="378.8" width="7.2" height="7.2"/><rect x="199.0" y="382.7" width="7.2" height="7.2"/><rect x="203.6" y="385.9" width="7.2" height="7.2"/><rect x="208.2" y="387.3" width="7.2" height="7.2"/><rect x="212.8" y="389.4" width="7.2" height="7.2"/><rect x="217.4" y="389.5" width="7.2" height="7.2"/><rect x="222.0" y="391.4" width="7.2" height="7.2"/><rect x="226.6" y="391.2" width="7.2" height="7.2"/><rect x="231.2" y="391.9" width="7.2" height="7.2"/><rect x="235.8" y="392.4" width="7.2" height="7.2"/><rect x="240.4" y="393.1" width="7.2" height="7.2"/><rect x="245.1" y="392.6" width="7.2" height="7.2"/><rect x="249.7" y="393.7" width="7.2" height="7.2"/><rect x="254.3" y="393.3" width="7.2" height="7.2"/><rect x="258.9" y="393.6" width="7.2" height="7.2"/><rect x="263.5" y="393.8" width="7.2" height="7.2"/><rect x="268.1" y="393.3" width="7.2" height="7.2"/><rect x="272.7" y="394.4" width="7.2" height="7.2"/><rect x="277.3" y="394.5" width="7.2" height="7.2"/><rect x="281.9" y="394.6" width="7.2" height="7.2"/><rect x="286.5" y="396.3" width="7.2" height="7.2"/><rect x="291.2" y="395.7" width="7.2" height="7.2"/><rect x="295.8" y="396.6" width="7.2" height="7.2"/><rect x="300.4" y="397.4" width="7.2" height="7.2"/><rect x="305.0" y="397.4" width="7.2" height="7.2"/><rect x="309.6" y="397.3" width="7.2" height="7.2"/><rect x="314.2" y="397.8" width="7.2" height="7.2"/><rect x="318.8" y="398.0" width="7.2" height="7.2"/><rect x="323.4" y="398.6" width="7.2" height="7.2"/><rect x="328.0" y="397.7" width="7.2" height="7.2"/><rect x="332.6" y="398.6" width="7.2" height="7.2"/><rect x="337.3" y="398.3" width="7.2" height="7.2"/><rect x="341.9" y="398.5" width="7.2" height="7.2"/><rect x="346.5" y="399.4" width="7.2" height="7.2"/><rect x="351.1" y="399.2" width="7.2" height="7.2"/><rect x="355.7" y="399.4" width="7.2" height="7.2"/><rect x="360.3" y="399.9" width="7.2" height="7.2"/><rect x="364.9" y="400.3" width="7.2" height="7.2"/><rect x="369.5" y="399.7" width="7.2" height="7.2"/><rect x="374.1" y="400.1" width="7.2" height="7.2"/><rect x="378.7" y="400.1" width="7.2" height="7.2"/><rect x="383.4" y="400.3" width="7.2" height="7.2"/><rect x="388.0" y="400.8" width="7.2" height="7.2"/><rect x="392.6" y="400.6" width="7.2" height="7.2"/><rect x="397.2" y="400.9" width="7.2" height="7.2"/><rect x="401.8" y="401.0" width="7.2" height="7.2"/><rect x="406.4" y="401.9" width="7.2" height="7.2"/><rect x="411.0" y="401.7" width="7.2" height="7.2"/><rect x="415.6" y="402.2" width="7.2" height="7.2"/><rect x="420.2" y="402.3" width="7.2" height="7.2"/><rect x="424.8" y="401.2" width="7.2" height="7.2"/><rect x="429.4" y="401.7" width="7.2" height="7.2"/><rect x="434.1" y="402.3" width="7.2" height="7.2"/><rect x="438.7" y="402.1" width="7.2" height="7.2"/><rect x="443.3" y="401.0" width="7.2" height="7.2"/><rect x="447.9" y="401.0" width="7.2" height="7.2"/><rect x="452.5" y="401.5" width="7.2" height="7.2"/><rect x="457.1" y="400.9" width="7.2" height="7.2"/><rect x="461.7" y="401.2" width="7.2" height="7.2"/><rect x="466.3" y="400.9" width="7.2" height="7.2"/><rect x="470.9" y="401.9" width="7.2" height="7.2"/><rect x="475.5" y="402.1" width="7.2" height="7.2"/><rect x="480.2" y="402.2" width="7.2" height="7.2"/><rect x="484.8" y="401.0" width="7.2" height="7.2"/><rect x="489.4" y="401.9" width="7.2" height="7.2"/><rect x="494.0" y="401.9" width="7.2" height="7.2"/><rect x="498.6" y="401.0" width="7.2" height="7.2"/><rect x="503.2" y="402.2" width="7.2" height="7.2"/><rect x="507.8" y="402.3" width="7.2" height="7.2"/><rect x="512.4" y="401.2" width="7.2" height="7.2"/><rect x="517.0" y="402.3" width="7.2" height="7.2"/><rect x="521.6" y="401.4" width="7.2" height="7.2"/><rect x="526.3" y="401.6" width="7.2" height="7.2"/><rect x="530.9" y="402.4" width="7.2" height="7.2"/><rect x="535.5" y="402.1" width="7.2" height="7.2"/><rect x="540.1" y="401.1" width="7.2" height="7.2"/><rect x="544.7" y="401.5" width="7.2" height="7.2"/><rect x="549.3" y="401.6" width="7.2" height="7.2"/><rect x="553.9" y="401.3" width="7.2" height="7.2"/><rect x="558.5" y="401.1" width="7.2" height="7.2"/><rect x="563.1" y="401.3" width="7.2" height="7.2"/><rect x="567.7" y="402.0" width="7.2" height="7.2"/><rect x="572.4" y="400.8" width="7.2" height="7.2"/><rect x="577.0" y="401.7" width="7.2" height="7.2"/><rect x="581.6" y="401.5" width="7.2" height="7.2"/><rect x="586.2" y="400.8" width="7.2" height="7.2"/><rect x="590.8" y="401.3" width="7.2" height="7.2"/><rect x="595.4" y="401.8" width="7.2" height="7.2"/><rect x="600.0" y="401.6" width="7.2" height="7.2"/><rect x="604.6" y="400.9" width="7.2" height="7.2"/></g>
<path d="M115.6,60.4 L119.9,246.0 L124.5,296.6 L128.8,319.3 L134.2,330.9 L137.6,337.6 L140.9,342.2 L144.3,346.1 L147.7,348.1 L151.1,350.0 L154.5,351.8 L157.8,351.7 L161.2,351.1 L164.6,348.7 L168.0,346.6 L171.4,345.1 L174.7,346.8 L178.1,349.9 L181.5,359.9 L184.9,381.8 L188.3,385.9 L191.6,388.1 L195.0,389.3 L197.9,389.7 L202.6,390.5 L207.2,391.1 L211.8,391.8 L216.4,392.5 L221.0,392.9 L225.6,393.4 L230.2,393.8 L234.8,394.2 L239.4,394.5 L244.0,394.7 L248.7,394.9 L253.3,395.1 L257.9,395.5 L262.5,395.9 L267.1,396.3 L271.7,396.8 L276.3,397.3 L280.9,397.8 L285.5,398.4 L290.1,398.8 L294.8,399.2 L299.4,399.5 L304.0,399.9 L308.6,400.2 L313.2,400.4 L317.8,400.6 L322.4,400.8 L327.0,400.9 L331.6,401.0 L336.2,401.2 L340.9,401.3 L345.5,401.5 L350.1,401.8 L354.7,402.0 L359.3,402.2 L363.9,402.3 L368.5,402.5 L373.1,402.6 L377.7,402.7 L382.3,402.9 L387.0,403.2 L391.6,403.4 L396.2,403.5 L400.8,403.7 L405.4,403.8 L410.0,404.0 L414.6,404.1 L419.2,404.3 L423.8,404.3 L428.4,404.3 L433.0,404.3 L437.7,404.3 L442.3,404.3 L446.9,404.3 L451.5,404.3 L456.1,404.3 L460.7,404.3 L465.3,404.3 L469.9,404.3 L474.5,404.3 L479.1,404.3 L483.8,404.3 L488.4,404.3 L493.0,404.3 L497.6,404.3 L502.2,404.3 L506.8,404.3 L511.4,404.3 L516.0,404.2 L520.6,404.2 L525.2,404.2 L529.9,404.2 L534.5,404.2 L539.1,404.2 L543.7,404.2 L548.3,404.2 L552.9,404.2 L557.5,404.2 L562.1,404.2 L566.7,404.2 L571.3,404.2 L576.0,404.2 L580.6,404.2 L585.2,404.2 L589.8,404.2 L594.4,404.2 L599.0,404.2 L603.6,404.2 L608.2,404.2" fill="none" stroke="#3a7fc1" stroke-width="1.6"/>
<g fill="#fff" stroke="#3a7fc1" stroke-width="2.6"><circle cx="115.6" cy="60.4" r="3.6"/><circle cx="119.9" cy="246.0" r="3.6"/><circle cx="124.5" cy="296.6" r="3.6"/><circle cx="128.8" cy="319.3" r="3.6"/><circle cx="134.2" cy="332.2" r="3.6"/><circle cx="137.6" cy="338.3" r="3.6"/><circle cx="140.9" cy="343.5" r="3.6"/><circle cx="144.3" cy="345.0" r="3.6"/><circle cx="147.7" cy="347.5" r="3.6"/><circle cx="151.1" cy="348.8" r="3.6"/><circle cx="154.5" cy="352.5" r="3.6"/><circle cx="157.8" cy="351.1" r="3.6"/><circle cx="161.2" cy="350.1" r="3.6"/><circle cx="164.6" cy="348.5" r="3.6"/><circle cx="168.0" cy="347.7" r="3.6"/><circle cx="171.4" cy="345.9" r="3.6"/><circle cx="174.7" cy="346.1" r="3.6"/><circle cx="178.1" cy="349.0" r="3.6"/><circle cx="181.5" cy="361.0" r="3.6"/><circle cx="184.9" cy="382.0" r="3.6"/><circle cx="188.3" cy="386.4" r="3.6"/><circle cx="191.6" cy="387.0" r="3.6"/><circle cx="195.0" cy="388.1" r="3.6"/><circle cx="197.9" cy="390.2" r="3.6"/><circle cx="202.6" cy="390.3" r="3.6"/><circle cx="207.2" cy="390.0" r="3.6"/><circle cx="211.8" cy="393.0" r="3.6"/><circle cx="216.4" cy="392.8" r="3.6"/><circle cx="221.0" cy="393.7" r="3.6"/><circle cx="225.6" cy="392.3" r="3.6"/><circle cx="230.2" cy="394.8" r="3.6"/><circle cx="234.8" cy="393.1" r="3.6"/><circle cx="239.4" cy="395.4" r="3.6"/><circle cx="244.0" cy="394.5" r="3.6"/><circle cx="248.7" cy="394.4" r="3.6"/><circle cx="253.3" cy="395.3" r="3.6"/><circle cx="257.9" cy="396.6" r="3.6"/><circle cx="262.5" cy="395.3" r="3.6"/><circle cx="267.1" cy="395.3" r="3.6"/><circle cx="271.7" cy="396.8" r="3.6"/><circle cx="276.3" cy="396.6" r="3.6"/><circle cx="280.9" cy="396.8" r="3.6"/><circle cx="285.5" cy="397.5" r="3.6"/><circle cx="290.1" cy="397.6" r="3.6"/><circle cx="294.8" cy="398.4" r="3.6"/><circle cx="299.4" cy="399.1" r="3.6"/><circle cx="304.0" cy="399.4" r="3.6"/><circle cx="308.6" cy="400.8" r="3.6"/><circle cx="313.2" cy="399.8" r="3.6"/><circle cx="317.8" cy="400.6" r="3.6"/><circle cx="322.4" cy="399.9" r="3.6"/><circle cx="327.0" cy="400.5" r="3.6"/><circle cx="331.6" cy="399.8" r="3.6"/><circle cx="336.2" cy="400.5" r="3.6"/><circle cx="340.9" cy="400.0" r="3.6"/><circle cx="345.5" cy="402.1" r="3.6"/><circle cx="350.1" cy="401.9" r="3.6"/><circle cx="354.7" cy="401.2" r="3.6"/><circle cx="359.3" cy="402.1" r="3.6"/><circle cx="363.9" cy="403.5" r="3.6"/><circle cx="368.5" cy="401.4" r="3.6"/><circle cx="373.1" cy="403.4" r="3.6"/><circle cx="377.7" cy="402.6" r="3.6"/><circle cx="382.3" cy="402.9" r="3.6"/><circle cx="387.0" cy="404.0" r="3.6"/><circle cx="391.6" cy="403.1" r="3.6"/><circle cx="396.2" cy="403.6" r="3.6"/><circle cx="400.8" cy="404.2" r="3.6"/><circle cx="405.4" cy="405.1" r="3.6"/><circle cx="410.0" cy="403.6" r="3.6"/><circle cx="414.6" cy="405.0" r="3.6"/><circle cx="419.2" cy="404.8" r="3.6"/><circle cx="423.8" cy="404.7" r="3.6"/><circle cx="428.4" cy="404.0" r="3.6"/><circle cx="433.0" cy="403.9" r="3.6"/><circle cx="437.7" cy="403.1" r="3.6"/><circle cx="442.3" cy="403.3" r="3.6"/><circle cx="446.9" cy="403.2" r="3.6"/><circle cx="451.5" cy="404.9" r="3.6"/><circle cx="456.1" cy="403.6" r="3.6"/><circle cx="460.7" cy="403.4" r="3.6"/><circle cx="465.3" cy="403.2" r="3.6"/><circle cx="469.9" cy="405.2" r="3.6"/><circle cx="474.5" cy="405.2" r="3.6"/><circle cx="479.1" cy="404.7" r="3.6"/><circle cx="483.8" cy="403.7" r="3.6"/><circle cx="488.4" cy="403.6" r="3.6"/><circle cx="493.0" cy="403.7" r="3.6"/><circle cx="497.6" cy="404.2" r="3.6"/><circle cx="502.2" cy="403.4" r="3.6"/><circle cx="506.8" cy="404.1" r="3.6"/><circle cx="511.4" cy="403.6" r="3.6"/><circle cx="516.0" cy="405.5" r="3.6"/><circle cx="520.6" cy="405.5" r="3.6"/><circle cx="525.2" cy="404.4" r="3.6"/><circle cx="529.9" cy="403.6" r="3.6"/><circle cx="534.5" cy="405.5" r="3.6"/><circle cx="539.1" cy="403.7" r="3.6"/><circle cx="543.7" cy="403.9" r="3.6"/><circle cx="548.3" cy="402.9" r="3.6"/><circle cx="552.9" cy="403.9" r="3.6"/><circle cx="557.5" cy="404.2" r="3.6"/><circle cx="562.1" cy="404.2" r="3.6"/><circle cx="566.7" cy="403.4" r="3.6"/><circle cx="571.3" cy="404.2" r="3.6"/><circle cx="576.0" cy="402.9" r="3.6"/><circle cx="580.6" cy="403.6" r="3.6"/><circle cx="585.2" cy="403.1" r="3.6"/><circle cx="589.8" cy="403.9" r="3.6"/><circle cx="594.4" cy="403.0" r="3.6"/><circle cx="599.0" cy="403.0" r="3.6"/><circle cx="603.6" cy="403.7" r="3.6"/><circle cx="608.2" cy="403.5" r="3.6"/></g>
<path d="M780.7,462.9 L787.9,416.4 L795.1,404.4 L801.0,396.8 L809.4,386.5 L817.7,386.5 L825.0,386.5 L832.0,386.5 L840.4,387.7 L847.5,386.5 L854.7,386.5 L861.9,387.7 L869.0,390.0 L876.2,393.7 L886.9,390.1 L894.1,388.9 L901.3,396.1 L907.0,390.0 L913.2,388.9 L920.0,388.5 L928.0,388.0 L937.0,387.7 L945.0,386.0 L953.0,384.5 L960.9,383.0 L969.0,381.5 L977.0,380.0 L984.8,378.2 L992.0,376.0 L1000.0,373.5 L1008.7,371.0 L1016.5,366.0 L1024.6,362.5 L1032.5,357.9 L1040.0,353.5 L1048.5,349.5 L1056.4,344.8 L1066.0,340.0 L1073.0,332.0 L1080.3,306.7 L1087.0,303.0 L1091.5,303.0 L1097.0,293.0 L1103.9,277.0 L1110.5,262.0 L1117.5,238.7 L1124.3,211.1 L1129.5,192.0 L1135.0,174.7 L1141.4,160.8 L1148.9,147.9 L1155.4,140.4 L1162.9,139.3 L1170.4,132.9 L1176.8,128.6 L1183.2,115.7 L1190.8,115.7 L1196.1,111.4 L1202.5,111.4 L1211.1,111.4 L1217.6,100.3 L1224.4,117.9 L1231.1,134.0 L1237.9,124.3 L1244.4,149.6" fill="none" stroke="#e8161d" stroke-width="1.6"/>
<g fill="#fff" stroke="#e8161d" stroke-width="2.1"><rect x="776.2" y="458.4" width="9" height="9"/><rect x="783.4" y="411.9" width="9" height="9"/><rect x="790.6" y="399.9" width="9" height="9"/><rect x="796.5" y="392.3" width="9" height="9"/><rect x="804.9" y="382.0" width="9" height="9"/><rect x="813.2" y="382.0" width="9" height="9"/><rect x="820.5" y="382.0" width="9" height="9"/><rect x="827.5" y="382.0" width="9" height="9"/><rect x="835.9" y="383.2" width="9" height="9"/><rect x="843.0" y="382.0" width="9" height="9"/><rect x="850.2" y="382.0" width="9" height="9"/><rect x="857.4" y="383.2" width="9" height="9"/><rect x="864.5" y="385.5" width="9" height="9"/><rect x="871.7" y="389.2" width="9" height="9"/><rect x="882.4" y="385.6" width="9" height="9"/><rect x="889.6" y="384.4" width="9" height="9"/><rect x="896.8" y="391.6" width="9" height="9"/><rect x="902.5" y="385.5" width="9" height="9"/><rect x="908.7" y="384.4" width="9" height="9"/><rect x="915.5" y="384.0" width="9" height="9"/><rect x="923.5" y="383.5" width="9" height="9"/><rect x="932.5" y="383.2" width="9" height="9"/><rect x="940.5" y="381.5" width="9" height="9"/><rect x="948.5" y="380.0" width="9" height="9"/><rect x="956.4" y="378.5" width="9" height="9"/><rect x="964.5" y="377.0" width="9" height="9"/><rect x="972.5" y="375.5" width="9" height="9"/><rect x="980.3" y="373.7" width="9" height="9"/><rect x="987.5" y="371.5" width="9" height="9"/><rect x="995.5" y="369.0" width="9" height="9"/><rect x="1004.2" y="366.5" width="9" height="9"/><rect x="1012.0" y="361.5" width="9" height="9"/><rect x="1020.1" y="358.0" width="9" height="9"/><rect x="1028.0" y="353.4" width="9" height="9"/><rect x="1035.5" y="349.0" width="9" height="9"/><rect x="1044.0" y="345.0" width="9" height="9"/><rect x="1051.9" y="340.3" width="9" height="9"/><rect x="1061.5" y="335.5" width="9" height="9"/><rect x="1068.5" y="327.5" width="9" height="9"/><rect x="1075.8" y="302.2" width="9" height="9"/><rect x="1082.5" y="298.5" width="9" height="9"/><rect x="1087.0" y="298.5" width="9" height="9"/><rect x="1092.5" y="288.5" width="9" height="9"/><rect x="1099.4" y="272.5" width="9" height="9"/><rect x="1106.0" y="257.5" width="9" height="9"/><rect x="1113.0" y="234.2" width="9" height="9"/><rect x="1119.8" y="206.6" width="9" height="9"/><rect x="1125.0" y="187.5" width="9" height="9"/><rect x="1130.5" y="170.2" width="9" height="9"/><rect x="1136.9" y="156.3" width="9" height="9"/><rect x="1144.4" y="143.4" width="9" height="9"/><rect x="1150.9" y="135.9" width="9" height="9"/><rect x="1158.4" y="134.8" width="9" height="9"/><rect x="1165.9" y="128.4" width="9" height="9"/><rect x="1172.3" y="124.1" width="9" height="9"/><rect x="1178.7" y="111.2" width="9" height="9"/><rect x="1186.3" y="111.2" width="9" height="9"/><rect x="1191.6" y="106.9" width="9" height="9"/><rect x="1198.0" y="106.9" width="9" height="9"/><rect x="1206.6" y="106.9" width="9" height="9"/><rect x="1213.1" y="95.8" width="9" height="9"/><rect x="1219.9" y="113.4" width="9" height="9"/><rect x="1226.6" y="129.5" width="9" height="9"/><rect x="1233.4" y="119.8" width="9" height="9"/><rect x="1239.9" y="145.1" width="9" height="9"/></g>
<path d="M780.7,372.2 L786.7,380.6 L793.9,386.5 L801.0,390.1 L808.2,393.7 L817.7,391.3 L822.5,392.5 L827.3,393.7 L834.4,397.3 L841.6,402.1 L848.8,398.5 L855.9,397.3 L861.0,396.0 L865.5,393.7 L869.8,390.1 L873.9,386.3 L879.1,385.3 L884.7,385.3 L890.2,384.7 L895.8,384.3 L901.4,384.2 L907.0,384.2 L912.6,384.2 L918.1,383.4 L923.6,382.6 L929.2,381.8 L934.7,380.9 L940.2,380.1 L945.7,379.3 L951.3,378.5 L956.8,377.6 L962.3,376.7 L967.7,375.3 L973.1,374.0 L978.6,372.6 L984.0,371.2 L989.5,371.1 L994.6,369.1 L999.7,367.4 L1005.2,367.2 L1010.3,365.0 L1015.4,362.7 L1020.8,361.1 L1026.0,359.2 L1030.9,356.5 L1035.8,353.8 L1043.2,350.0 L1049.4,347.6 L1055.6,338.9 L1063.0,332.7 L1069.2,329.0 L1075.4,321.1 L1083.6,315.4 L1089.5,296.8 L1096.4,293.1 L1103.4,282.5 L1110.0,264.2 L1116.2,244.9 L1123.2,217.6 L1129.6,190.8 L1136.1,179.0 L1142.5,166.1 L1150.0,155.4 L1156.4,144.7 L1164.0,147.9 L1171.0,152.6 L1177.5,157.5 L1183.9,160.8 L1190.3,169.8 L1196.8,185.8 L1204.7,185.4 L1211.1,189.1 L1217.6,195.1 L1224.4,200.4 L1231.5,204.7 L1238.6,205.8 L1245.4,204.7" fill="none" stroke="#3a7fc1" stroke-width="1.6"/>
<g fill="#fff" stroke="#3a7fc1" stroke-width="2.4"><circle cx="780.7" cy="372.2" r="4.6"/><circle cx="786.7" cy="380.6" r="4.6"/><circle cx="793.9" cy="386.5" r="4.6"/><circle cx="801.0" cy="390.1" r="4.6"/><circle cx="808.2" cy="393.7" r="4.6"/><circle cx="817.7" cy="391.3" r="4.6"/><circle cx="822.5" cy="392.5" r="4.6"/><circle cx="827.3" cy="393.7" r="4.6"/><circle cx="834.4" cy="397.3" r="4.6"/><circle cx="841.6" cy="402.1" r="4.6"/><circle cx="848.8" cy="398.5" r="4.6"/><circle cx="855.9" cy="397.3" r="4.6"/><circle cx="861.0" cy="396.0" r="4.6"/><circle cx="865.5" cy="393.7" r="4.6"/><circle cx="869.8" cy="390.1" r="4.6"/><circle cx="873.9" cy="386.3" r="4.6"/><circle cx="879.1" cy="385.3" r="4.6"/><circle cx="884.7" cy="385.3" r="4.6"/><circle cx="890.2" cy="384.7" r="4.6"/><circle cx="895.8" cy="384.3" r="4.6"/><circle cx="901.4" cy="384.2" r="4.6"/><circle cx="907.0" cy="384.2" r="4.6"/><circle cx="912.6" cy="384.2" r="4.6"/><circle cx="918.1" cy="383.4" r="4.6"/><circle cx="923.6" cy="382.6" r="4.6"/><circle cx="929.2" cy="381.8" r="4.6"/><circle cx="934.7" cy="380.9" r="4.6"/><circle cx="940.2" cy="380.1" r="4.6"/><circle cx="945.7" cy="379.3" r="4.6"/><circle cx="951.3" cy="378.5" r="4.6"/><circle cx="956.8" cy="377.6" r="4.6"/><circle cx="962.3" cy="376.7" r="4.6"/><circle cx="967.7" cy="375.3" r="4.6"/><circle cx="973.1" cy="374.0" r="4.6"/><circle cx="978.6" cy="372.6" r="4.6"/><circle cx="984.0" cy="371.2" r="4.6"/><circle cx="989.5" cy="371.1" r="4.6"/><circle cx="994.6" cy="369.1" r="4.6"/><circle cx="999.7" cy="367.4" r="4.6"/><circle cx="1005.2" cy="367.2" r="4.6"/><circle cx="1010.3" cy="365.0" r="4.6"/><circle cx="1015.4" cy="362.7" r="4.6"/><circle cx="1020.8" cy="361.1" r="4.6"/><circle cx="1026.0" cy="359.2" r="4.6"/><circle cx="1030.9" cy="356.5" r="4.6"/><circle cx="1035.8" cy="353.8" r="4.6"/><circle cx="1043.2" cy="350.0" r="4.6"/><circle cx="1049.4" cy="347.6" r="4.6"/><circle cx="1055.6" cy="338.9" r="4.6"/><circle cx="1063.0" cy="332.7" r="4.6"/><circle cx="1069.2" cy="329.0" r="4.6"/><circle cx="1075.4" cy="321.1" r="4.6"/><circle cx="1083.6" cy="315.4" r="4.6"/><circle cx="1089.5" cy="296.8" r="4.6"/><circle cx="1096.4" cy="293.1" r="4.6"/><circle cx="1103.4" cy="282.5" r="4.6"/><circle cx="1110.0" cy="264.2" r="4.6"/><circle cx="1116.2" cy="244.9" r="4.6"/><circle cx="1123.2" cy="217.6" r="4.6"/><circle cx="1129.6" cy="190.8" r="4.6"/><circle cx="1136.1" cy="179.0" r="4.6"/><circle cx="1142.5" cy="166.1" r="4.6"/><circle cx="1150.0" cy="155.4" r="4.6"/><circle cx="1156.4" cy="144.7" r="4.6"/><circle cx="1164.0" cy="147.9" r="4.6"/><circle cx="1171.0" cy="152.6" r="4.6"/><circle cx="1177.5" cy="157.5" r="4.6"/><circle cx="1183.9" cy="160.8" r="4.6"/><circle cx="1190.3" cy="169.8" r="4.6"/><circle cx="1196.8" cy="185.8" r="4.6"/><circle cx="1204.7" cy="185.4" r="4.6"/><circle cx="1211.1" cy="189.1" r="4.6"/><circle cx="1217.6" cy="195.1" r="4.6"/><circle cx="1224.4" cy="200.4" r="4.6"/><circle cx="1231.5" cy="204.7" r="4.6"/><circle cx="1238.6" cy="205.8" r="4.6"/><circle cx="1245.4" cy="204.7" r="4.6"/></g>
<line x1="1076.5" y1="39" x2="1076.5" y2="464" stroke="#111" stroke-width="3.8" stroke-dasharray="16 13.5"/>
<path d="M355.0,562.0 Q335.8,580.3 355.0,598.6 Q340.0,580.3 355.0,562.0Z" fill="#111" stroke="#111" stroke-width="0.7" stroke-linejoin="round"/>
<path d="M378.2,562.0 Q397.6,580.3 378.2,598.6 Q393.4,580.3 378.2,562.0Z" fill="#111" stroke="#111" stroke-width="0.7" stroke-linejoin="round"/>
<path d="M1014.4,562.0 Q995.6,580.3 1014.4,598.6 Q999.8,580.3 1014.4,562.0Z" fill="#111" stroke="#111" stroke-width="0.7" stroke-linejoin="round"/>
<path d="M1041.9,562.0 Q1060.5,580.3 1041.9,598.6 Q1056.3,580.3 1041.9,562.0Z" fill="#111" stroke="#111" stroke-width="0.7" stroke-linejoin="round"/>
<g font-family="'Liberation Serif', serif" fill="#111" font-weight="bold">
<text transform="translate(357.4,590.6) scale(0.88,1)" font-size="43.5">a</text>
<text transform="translate(1016.4,590.6)" font-size="42.5">b</text>
</g>
<g font-family="'Liberation Sans', sans-serif" fill="#111" stroke="#111" stroke-width="0.3">
<text x="232.3" y="74.6" font-size="26.8" text-anchor="start" fill="#111" >ZFC Heating</text>
<text x="232.3" y="107.2" font-size="26.8" text-anchor="start" fill="#111" >ZFC Cooling</text>
<text x="248.5" y="139.4" font-size="26.8" text-anchor="start" fill="#111" >FC Heating</text>
<text x="248.5" y="171.6" font-size="26.8" text-anchor="start" fill="#111" >FC Cooling</text>
<text x="207.4" y="217.7" font-size="30.5"><tspan font-style="italic">H</tspan> = 0.4 T</text>
<text x="1124.6" y="73.3" font-size="34.6"><tspan font-style="italic">H</tspan> = 0.2 T</text>
<text x="479.0" y="64.0" font-size="31.2">Cr<tspan font-size="21.5" dy="6.6">2</tspan><tspan dy="-6.6">O</tspan><tspan font-size="21.5" dy="6.6">3</tspan></text>
<text x="984.6" y="87.2" font-size="31">Fe<tspan font-size="21.5" dy="6.3">2</tspan><tspan dy="-6.3">O</tspan><tspan font-size="21.5" dy="6.3">3</tspan></text>
<text x="867.8" y="76.4" font-size="26.8" text-anchor="start" fill="#111" >Heating</text>
<text x="866.9" y="109.3" font-size="26.8" text-anchor="start" fill="#111" >Cooling</text>
</g>
<line x1="166.0" y1="65.5" x2="225.5" y2="65.5" stroke="#e8161d" stroke-width="2" />
<rect x="191.3" y="61.0" width="9" height="9" fill="#e8161d"/>
<line x1="166.0" y1="98.2" x2="225.5" y2="98.2" stroke="#3a7fc1" stroke-width="2" />
<circle cx="195.8" cy="98.2" r="5.4" fill="#3a7fc1"/>
<line x1="166.0" y1="130.3" x2="225.5" y2="130.3" stroke="#e8161d" stroke-width="2" />
<rect x="192.3" y="126.80000000000001" width="7" height="7" fill="#fff" stroke="#e8161d" stroke-width="2"/>
<line x1="166.0" y1="162.5" x2="225.5" y2="162.5" stroke="#3a7fc1" stroke-width="2" />
<circle cx="195.8" cy="162.5" r="4.1" fill="#fff" stroke="#3a7fc1" stroke-width="2.3"/>
<line x1="799.7" y1="68.4" x2="860.1" y2="68.4" stroke="#e8161d" stroke-width="2" />
<rect x="825.8" y="63.900000000000006" width="9" height="9" fill="#fff" stroke="#e8161d" stroke-width="2"/>
<line x1="799.7" y1="100.4" x2="860.1" y2="100.4" stroke="#3a7fc1" stroke-width="2" />
<circle cx="830.3" cy="100.4" r="5.2" fill="#fff" stroke="#3a7fc1" stroke-width="2.2"/>
</svg></body></html>
